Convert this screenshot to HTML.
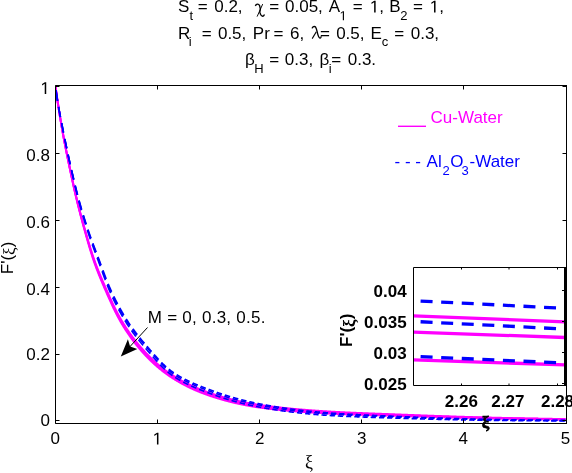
<!DOCTYPE html>
<html><head><meta charset="utf-8"><style>
html,body{margin:0;padding:0;background:#fff;overflow:hidden;}
svg{display:block;} text{filter:opacity(1);}
text{font-family:"Liberation Sans",sans-serif;font-size:17px;fill:#000;white-space:pre;}
.sf{font-family:"Liberation Serif",serif;}
.m{fill:none;stroke:#ff00ff;stroke-width:2;stroke-linejoin:round;}
.b{fill:none;stroke:#0000ff;stroke-width:1.6;}
.im{stroke:#ff00ff;stroke-width:3.3;}
.ib{stroke:#0000ff;stroke-width:3.3;stroke-dasharray:12 8.6;stroke-dashoffset:13.5;}
.bd text{font-weight:bold;}
</style></head><body>
<svg width="572" height="473" viewBox="0 0 572 473">
<rect width="572" height="473" fill="#fff"/>
<text x="177.93" y="12.40">S</text>
<text x="189.50" y="20.20" style="font-size:13px">t</text>
<text x="197.77" y="12.40">=</text>
<text x="214.24" y="12.40">0.2,</text>
<path d="M255.3,5.9C256.3,3.7 258.6,3.5 259.6,5.6C260.5,7.6 260.3,10.6 259.8,12.4C260.5,14.6 261.6,16.3 262.6,16.3C263.5,16.3 264.1,15.3 264.5,14.4" fill="none" stroke="#000" stroke-width="1.35"/><path d="M262.7,4.1L257.1,16.6" fill="none" stroke="#000" stroke-width="0.95"/>
<text x="269.27" y="12.40">=</text>
<text x="285.04" y="12.40">0.05,</text>
<text x="328.87" y="12.40">A</text>
<path transform="translate(339.55,20.20) scale(0.00635,-0.00635)" d="M515,0H696V1409H530L197,1180V1010L515,1237Z" fill="#000"/>
<text x="352.67" y="12.40">=</text>
<path transform="translate(369.86,12.40) scale(0.00830,-0.00830)" d="M515,0H696V1409H530L197,1180V1010L515,1237Z" fill="#000"/><text x="379.32" y="12.40">,</text>
<text x="389.21" y="12.40">B</text>
<text x="400.25" y="20.20" style="font-size:13px">2</text>
<text x="412.97" y="12.40">=</text>
<path transform="translate(429.76,12.40) scale(0.00830,-0.00830)" d="M515,0H696V1409H530L197,1180V1010L515,1237Z" fill="#000"/><text x="439.22" y="12.40">,</text>
<text x="178.01" y="38.50">R</text>
<text x="188.63" y="46.30" style="font-size:13px">i</text>
<text x="201.77" y="38.50">=</text>
<text x="217.94" y="38.50">0.5,</text>
<text x="252.81" y="38.50">Pr</text>
<text x="273.57" y="38.50">=</text>
<text x="290.04" y="38.50">6,</text>
<path d="M312.1,28.4C312.6,26.6 314.4,25.9 315.6,27.1C316.5,28.3 317,31 317.6,33.6C318.3,36.3 319.2,38.2 320.3,38.1C320.9,38 321.1,37.2 321.2,36.3" fill="none" stroke="#000" stroke-width="1.35"/><path d="M316.3,31.8L312.2,38.6" fill="none" stroke="#000" stroke-width="1.1"/>
<text x="320.07" y="38.50">=</text>
<text x="336.14" y="38.50">0.5,</text>
<text x="370.61" y="38.50">E</text>
<text x="381.85" y="46.30" style="font-size:13px">c</text>
<text x="394.17" y="38.50">=</text>
<text x="410.74" y="38.50">0.3,</text>
<text x="245.02" y="64.80">β</text>
<text x="254.33" y="72.60" style="font-size:13px">H</text>
<text x="269.27" y="64.80">=</text>
<text x="284.84" y="64.80">0.3,</text>
<text x="319.62" y="64.80">β</text>
<text x="328.83" y="72.60" style="font-size:13px">i</text>
<text x="331.17" y="64.80">=</text>
<text x="347.74" y="64.80">0.3.</text>
<clipPath id="mc"><rect x="56" y="86" width="510" height="337"/></clipPath>
<g clip-path="url(#mc)"><path d="M55.50,86.50 55.84,89.01 56.18,91.48 56.52,93.91 56.86,96.31 57.20,98.65 57.54,100.94 57.88,103.19 58.22,105.42 58.56,107.60 58.90,109.76 59.24,111.89 59.58,114.00 59.92,116.07 60.26,118.12 60.60,120.15 60.94,122.15 61.28,124.13 61.62,126.09 61.96,128.04 62.30,129.96 62.64,131.86 62.98,133.74 63.33,135.59 63.67,137.42 64.01,139.23 64.35,141.02 64.69,142.79 65.03,144.54 65.37,146.28 65.71,148.00 66.05,149.71 66.39,151.40 66.73,153.08 67.07,154.75 67.41,156.41 67.75,158.06 68.09,159.69 68.43,161.32 68.77,162.95 69.11,164.56 69.45,166.17 69.79,167.78 70.13,169.38 70.47,170.98 70.81,172.57 71.15,174.15 71.49,175.73 71.83,177.30 72.17,178.86 72.51,180.41 72.85,181.95 73.19,183.49 73.53,185.01 73.87,186.52 74.21,188.02 74.55,189.51 74.89,190.99 75.23,192.46 75.57,193.91 75.91,195.36 76.25,196.78 76.59,198.20 76.93,199.60 77.27,200.99 77.61,202.36 77.95,203.72 78.30,205.07 78.64,206.41 78.98,207.74 79.32,209.06 79.66,210.36 80.00,211.66 80.34,212.95 80.68,214.23 81.02,215.50 81.36,216.76 81.70,218.02 82.04,219.26 82.38,220.50 82.72,221.74 83.06,222.96 83.40,224.19 83.74,225.40 84.08,226.61 84.42,227.82 84.76,229.02 85.10,230.21 85.44,231.41 85.78,232.60 86.12,233.79 86.46,234.97 86.80,236.15 87.14,237.33 87.48,238.50 87.82,239.66 88.16,240.82 88.50,241.96 88.84,243.11 89.18,244.24 89.52,245.36 89.86,246.48 90.20,247.58 90.54,248.68 90.88,249.77 91.22,250.84 91.56,251.91 91.90,252.96 92.24,254.00 92.58,255.03 92.92,256.05 93.27,257.05 93.61,258.04 93.95,259.02 94.29,259.99 94.63,260.94 94.97,261.88 95.31,262.81 95.65,263.73 95.99,264.64 96.33,265.54 96.67,266.43 97.01,267.32 97.35,268.19 97.69,269.06 98.03,269.92 98.37,270.77 98.71,271.61 99.05,272.45 99.39,273.28 99.73,274.11 100.07,274.93 100.41,275.74 100.75,276.56 101.09,277.36 101.43,278.16 101.77,278.96 102.11,279.76 102.45,280.55 102.79,281.34 103.13,282.13 103.47,282.91 103.81,283.69 104.15,284.47 104.49,285.25 104.83,286.03 105.17,286.81 105.51,287.58 105.85,288.36 106.19,289.13 106.53,289.91 106.87,290.68 107.21,291.45 107.55,292.22 107.89,292.99 108.24,293.75 108.58,294.52 108.92,295.28 109.26,296.03 109.60,296.79 109.94,297.54 110.28,298.29 110.62,299.04 110.96,299.78 111.30,300.52 111.64,301.25 111.98,301.98 112.32,302.71 112.66,303.43 113.00,304.15 113.34,304.86 113.68,305.57 114.02,306.27 114.36,306.97 114.70,307.66 115.04,308.35 115.38,309.04 115.72,309.71 116.06,310.39 116.40,311.05 116.74,311.71 117.08,312.37 117.42,313.02 117.76,313.66 118.10,314.30 118.44,314.93 118.78,315.56 119.12,316.18 119.46,316.79 119.80,317.40 120.14,318.00 120.48,318.59 120.82,319.18 121.16,319.76 121.50,320.34 121.84,320.91 122.18,321.48 122.52,322.05 122.86,322.61 123.21,323.17 123.55,323.72 123.89,324.27 124.23,324.81 124.57,325.35 124.91,325.89 125.25,326.42 125.59,326.95 125.93,327.48 126.27,328.00 126.61,328.51 126.95,329.03 127.29,329.54 127.63,330.04 127.97,330.55 128.31,331.05 128.65,331.54 128.99,332.03 129.33,332.52 129.67,333.01 130.01,333.49 130.35,333.97 130.69,334.45 131.03,334.92 131.37,335.39 131.71,335.85 132.05,336.32 132.39,336.77 132.73,337.23 133.07,337.69 133.41,338.14 133.75,338.58 134.09,339.03 134.43,339.47 134.77,339.91 135.11,340.34 135.45,340.78 135.79,341.21 136.13,341.64 136.47,342.06 136.81,342.48 137.15,342.90 137.49,343.32 137.83,343.73 138.18,344.15 138.52,344.56 138.86,344.96 139.20,345.37 139.54,345.77 139.88,346.17 140.22,346.56 140.56,346.96 140.90,347.35 141.24,347.74 141.58,348.13 141.92,348.51 142.26,348.90 142.60,349.28 142.94,349.66 143.28,350.03 143.62,350.41 143.96,350.78 144.30,351.15 144.64,351.52 144.98,351.88 145.32,352.25 145.66,352.61 146.00,352.97 146.34,353.33 146.68,353.68 147.02,354.04 147.36,354.39 147.70,354.74 148.04,355.08 148.38,355.43 148.72,355.77 149.06,356.11 149.40,356.45 149.74,356.79 150.08,357.13 150.42,357.46 150.76,357.79 151.10,358.12 151.44,358.45 151.78,358.77 152.12,359.09 152.46,359.42 152.80,359.74 153.15,360.05 153.49,360.37 153.83,360.68 154.17,360.99 154.51,361.30 154.85,361.61 155.19,361.92 155.53,362.22 155.87,362.52 156.21,362.82 156.55,363.12 156.89,363.42 157.23,363.71 157.57,364.00 157.91,364.29 158.25,364.58 158.59,364.87 158.93,365.16 159.27,365.44 159.61,365.72 159.95,366.00 160.29,366.28 160.63,366.56 160.97,366.83 161.31,367.10 161.65,367.38 161.99,367.64 162.33,367.91 162.67,368.18 163.01,368.44 163.35,368.70 163.69,368.97 164.03,369.22 164.37,369.48 164.71,369.74 165.05,369.99 165.39,370.24 165.73,370.49 166.07,370.74 166.41,370.99 166.75,371.24 167.09,371.48 167.43,371.72 167.77,371.96 168.12,372.20 168.46,372.44 168.80,372.68 169.14,372.91 169.48,373.14 169.82,373.38 170.16,373.60 170.50,373.83 170.84,374.06 171.18,374.28 171.52,374.51 171.86,374.73 172.20,374.95 172.54,375.17 172.88,375.39 173.22,375.60 173.56,375.82 173.90,376.03 174.24,376.25 174.58,376.46 174.92,376.67 175.26,376.88 175.60,377.09 175.94,377.29 176.28,377.50 176.62,377.70 176.96,377.91 177.30,378.11 177.64,378.31 177.98,378.51 178.32,378.71 178.66,378.91 179.00,379.10 179.34,379.30 179.68,379.49 180.02,379.69 180.36,379.88 180.70,380.07 181.04,380.26 181.38,380.45 181.72,380.64 182.06,380.82 182.40,381.01 182.74,381.19 183.09,381.38 183.43,381.56 183.77,381.74 184.11,381.92 184.45,382.10 184.79,382.28 185.13,382.45 185.47,382.63 185.81,382.81 186.15,382.98 186.49,383.15 186.83,383.33 187.17,383.50 187.51,383.67 187.85,383.84 188.19,384.00 188.53,384.17 188.87,384.34 189.21,384.50 189.55,384.67 189.89,384.83 190.23,384.99 190.57,385.16 190.91,385.32 191.25,385.48 191.59,385.63 191.93,385.79 192.27,385.95 192.61,386.11 192.95,386.26 193.29,386.42 193.63,386.57 193.97,386.72 194.31,386.87 194.65,387.02 194.99,387.17 195.33,387.32 195.67,387.47 196.01,387.62 196.35,387.77 196.69,387.91 197.03,388.06 197.37,388.20 197.71,388.34 198.06,388.49 198.40,388.63 198.74,388.77 199.08,388.91 199.42,389.05 199.76,389.19 200.10,389.32 200.44,389.46 200.78,389.60 201.12,389.73 201.46,389.87 201.80,390.00 202.14,390.13 202.48,390.26 202.82,390.40 203.16,390.53 203.50,390.66 203.84,390.79 204.18,390.91 204.52,391.04 204.86,391.17 205.20,391.29 205.54,391.42 205.88,391.54 206.22,391.67 206.56,391.79 206.90,391.91 207.24,392.04 207.58,392.16 207.92,392.28 208.26,392.40 208.60,392.52 208.94,392.64 209.28,392.75 209.62,392.87 209.96,392.99 210.30,393.10 210.64,393.22 210.98,393.33 211.32,393.45 211.66,393.56 212.00,393.67 212.34,393.78 212.68,393.90 213.03,394.01 213.37,394.12 213.71,394.23 214.05,394.34 214.39,394.45 214.73,394.56 215.07,394.66 215.41,394.77 215.75,394.88 216.09,394.99 216.43,395.09 216.77,395.20 217.11,395.31 217.45,395.41 217.79,395.52 218.13,395.62 218.47,395.72 218.81,395.83 219.15,395.93 219.49,396.03 219.83,396.14 220.17,396.24 220.51,396.34 220.85,396.44 221.19,396.54 221.53,396.64 221.87,396.74 222.21,396.84 222.55,396.94 222.89,397.04 223.23,397.13 223.57,397.23 223.91,397.33 224.25,397.42 224.59,397.52 224.93,397.61 225.27,397.71 225.61,397.80 225.95,397.90 226.29,397.99 226.63,398.08 226.97,398.18 227.31,398.27 227.65,398.36 227.99,398.45 228.34,398.54 228.68,398.63 229.02,398.72 229.36,398.81 229.70,398.90 230.04,398.99 230.38,399.08 230.72,399.16 231.06,399.25 231.40,399.34 231.74,399.42 232.08,399.51 232.42,399.59 232.76,399.68 233.10,399.76 233.44,399.85 233.78,399.93 234.12,400.01 234.46,400.09 234.80,400.17 235.14,400.26 235.48,400.34 235.82,400.42 236.16,400.50 236.50,400.58 236.84,400.66 237.18,400.73 237.52,400.81 237.86,400.89 238.20,400.97 238.54,401.04 238.88,401.12 239.22,401.20 239.56,401.27 239.90,401.35 240.24,401.42 240.58,401.49 240.92,401.57 241.26,401.64 241.60,401.71 241.94,401.79 242.28,401.86 242.62,401.93 242.96,402.00 243.31,402.07 243.65,402.14 243.99,402.21 244.33,402.28 244.67,402.35 245.01,402.41 245.35,402.48 245.69,402.55 246.03,402.62 246.37,402.68 246.71,402.75 247.05,402.81 247.39,402.88 247.73,402.94 248.07,403.01 248.41,403.07 248.75,403.13 249.09,403.20 249.43,403.26 249.77,403.32 250.11,403.38 250.45,403.44 250.79,403.51 251.13,403.57 251.47,403.63 251.81,403.68 252.15,403.74 252.49,403.80 252.83,403.86 253.17,403.92 253.51,403.97 253.85,404.03 254.19,404.09 254.53,404.14 254.87,404.20 255.21,404.25 255.55,404.31 255.89,404.36 256.23,404.42 256.57,404.47 256.91,404.52 257.25,404.58 257.59,404.63 257.93,404.68 258.28,404.73 258.62,404.78 258.96,404.83 259.30,404.88 259.64,404.93 259.98,404.98 260.32,405.03 260.66,405.08 261.00,405.13 261.34,405.18 261.68,405.23 262.02,405.27 262.36,405.32 262.70,405.37 263.04,405.42 263.38,405.46 263.72,405.51 264.06,405.56 264.40,405.60 264.74,405.65 265.08,405.69 265.42,405.74 265.76,405.79 266.10,405.83 266.44,405.88 266.78,405.92 267.12,405.97 267.46,406.01 267.80,406.05 268.14,406.10 268.48,406.14 268.82,406.18 269.16,406.23 269.50,406.27 269.84,406.31 270.18,406.36 270.52,406.40 270.86,406.44 271.20,406.48 271.54,406.53 271.88,406.57 272.22,406.61 272.56,406.65 272.90,406.69 273.25,406.73 273.59,406.77 273.93,406.81 274.27,406.85 274.61,406.89 274.95,406.93 275.29,406.97 275.63,407.01 275.97,407.05 276.31,407.09 276.65,407.13 276.99,407.17 277.33,407.21 277.67,407.25 278.01,407.29 278.35,407.32 278.69,407.36 279.03,407.40 279.37,407.44 279.71,407.47 280.05,407.51 280.39,407.55 280.73,407.59 281.07,407.62 281.41,407.66 281.75,407.70 282.09,407.73 282.43,407.77 282.77,407.80 283.11,407.84 283.45,407.88 283.79,407.91 284.13,407.95 284.47,407.98 284.81,408.02 285.15,408.05 285.49,408.09 285.83,408.12 286.17,408.16 286.51,408.19 286.85,408.22 287.19,408.26 287.53,408.29 287.87,408.33 288.22,408.36 288.56,408.39 288.90,408.43 289.24,408.46 289.58,408.49 289.92,408.52 290.26,408.56 290.60,408.59 290.94,408.62 291.28,408.65 291.62,408.69 291.96,408.72 292.30,408.75 292.64,408.78 292.98,408.81 293.32,408.85 293.66,408.88 294.00,408.91 294.34,408.94 294.68,408.97 295.02,409.00 295.36,409.03 295.70,409.06 296.04,409.09 296.38,409.12 296.72,409.15 297.06,409.18 297.40,409.21 297.74,409.24 298.08,409.27 298.42,409.30 298.76,409.33 299.10,409.36 299.44,409.39 299.78,409.42 300.12,409.45 300.46,409.47 300.80,409.50 301.14,409.53 301.48,409.56 301.82,409.59 302.16,409.62 302.50,409.64 302.84,409.67 303.19,409.70 303.53,409.73 303.87,409.75 304.21,409.78 304.55,409.81 304.89,409.84 305.23,409.86 305.57,409.89 305.91,409.92 306.25,409.94 306.59,409.97 306.93,410.00 307.27,410.02 307.61,410.05 307.95,410.08 308.29,410.10 308.63,410.13 308.97,410.15 309.31,410.18 309.65,410.21 309.99,410.23 310.33,410.26 310.67,410.28 311.01,410.31 311.35,410.33 311.69,410.36 312.03,410.38 312.37,410.41 312.71,410.43 313.05,410.46 313.39,410.48 313.73,410.51 314.07,410.53 314.41,410.55 314.75,410.58 315.09,410.60 315.43,410.63 315.77,410.65 316.11,410.67 316.45,410.70 316.79,410.72 317.13,410.74 317.47,410.77 317.81,410.79 318.16,410.81 318.50,410.84 318.84,410.86 319.18,410.88 319.52,410.91 319.86,410.93 320.20,410.95 320.54,410.97 320.88,411.00 321.22,411.02 321.56,411.04 321.90,411.06 322.24,411.08 322.58,411.11 322.92,411.13 323.26,411.15 323.60,411.17 323.94,411.19 324.28,411.22 324.62,411.24 324.96,411.26 325.30,411.28 325.64,411.30 325.98,411.32 326.32,411.34 326.66,411.36 327.00,411.39 327.34,411.41 327.68,411.43 328.02,411.45 328.36,411.47 328.70,411.49 329.04,411.51 329.38,411.53 329.72,411.55 330.06,411.57 330.40,411.59 330.74,411.61 331.08,411.63 331.42,411.65 331.76,411.67 332.10,411.69 332.44,411.71 332.78,411.73 333.13,411.75 333.47,411.77 333.81,411.79 334.15,411.80 334.49,411.82 334.83,411.84 335.17,411.86 335.51,411.88 335.85,411.90 336.19,411.92 336.53,411.94 336.87,411.95 337.21,411.97 337.55,411.99 337.89,412.01 338.23,412.03 338.57,412.04 338.91,412.06 339.25,412.08 339.59,412.10 339.93,412.11 340.27,412.13 340.61,412.15 340.95,412.16 341.29,412.18 341.63,412.20 341.97,412.22 342.31,412.23 342.65,412.25 342.99,412.27 343.33,412.28 343.67,412.30 344.01,412.32 344.35,412.33 344.69,412.35 345.03,412.37 345.37,412.38 345.71,412.40 346.05,412.41 346.39,412.43 346.73,412.45 347.07,412.46 347.41,412.48 347.75,412.49 348.10,412.51 348.44,412.52 348.78,412.54 349.12,412.56 349.46,412.57 349.80,412.59 350.14,412.60 350.48,412.62 350.82,412.63 351.16,412.65 351.50,412.66 351.84,412.68 352.18,412.69 352.52,412.71 352.86,412.72 353.20,412.74 353.54,412.75 353.88,412.77 354.22,412.78 354.56,412.80 354.90,412.81 355.24,412.83 355.58,412.84 355.92,412.86 356.26,412.87 356.60,412.88 356.94,412.90 357.28,412.91 357.62,412.93 357.96,412.94 358.30,412.96 358.64,412.97 358.98,412.98 359.32,413.00 359.66,413.01 360.00,413.03 360.34,413.04 360.68,413.05 361.02,413.07 361.36,413.08 361.70,413.10 362.04,413.11 362.38,413.12 362.72,413.14 363.07,413.15 363.41,413.16 363.75,413.18 364.09,413.19 364.43,413.21 364.77,413.22 365.11,413.23 365.45,413.25 365.79,413.26 366.13,413.27 366.47,413.29 366.81,413.30 367.15,413.31 367.49,413.33 367.83,413.34 368.17,413.35 368.51,413.37 368.85,413.38 369.19,413.39 369.53,413.41 369.87,413.42 370.21,413.43 370.55,413.45 370.89,413.46 371.23,413.47 371.57,413.49 371.91,413.50 372.25,413.51 372.59,413.53 372.93,413.54 373.27,413.55 373.61,413.56 373.95,413.58 374.29,413.59 374.63,413.60 374.97,413.62 375.31,413.63 375.65,413.64 375.99,413.66 376.33,413.67 376.67,413.68 377.01,413.69 377.35,413.71 377.69,413.72 378.04,413.73 378.38,413.75 378.72,413.76 379.06,413.77 379.40,413.79 379.74,413.80 380.08,413.81 380.42,413.82 380.76,413.84 381.10,413.85 381.44,413.86 381.78,413.88 382.12,413.89 382.46,413.90 382.80,413.91 383.14,413.93 383.48,413.94 383.82,413.95 384.16,413.97 384.50,413.98 384.84,413.99 385.18,414.01 385.52,414.02 385.86,414.03 386.20,414.04 386.54,414.06 386.88,414.07 387.22,414.08 387.56,414.10 387.90,414.11 388.24,414.12 388.58,414.13 388.92,414.15 389.26,414.16 389.60,414.17 389.94,414.19 390.28,414.20 390.62,414.21 390.96,414.23 391.30,414.24 391.64,414.25 391.98,414.26 392.32,414.28 392.66,414.29 393.01,414.30 393.35,414.32 393.69,414.33 394.03,414.34 394.37,414.36 394.71,414.37 395.05,414.38 395.39,414.40 395.73,414.41 396.07,414.42 396.41,414.43 396.75,414.45 397.09,414.46 397.43,414.47 397.77,414.49 398.11,414.50 398.45,414.51 398.79,414.53 399.13,414.54 399.47,414.55 399.81,414.57 400.15,414.58 400.49,414.59 400.83,414.61 401.17,414.62 401.51,414.63 401.85,414.65 402.19,414.66 402.53,414.67 402.87,414.69 403.21,414.70 403.55,414.71 403.89,414.73 404.23,414.74 404.57,414.75 404.91,414.77 405.25,414.78 405.59,414.79 405.93,414.81 406.27,414.82 406.61,414.83 406.95,414.85 407.29,414.86 407.63,414.87 407.97,414.89 408.32,414.90 408.66,414.91 409.00,414.93 409.34,414.94 409.68,414.95 410.02,414.97 410.36,414.98 410.70,414.99 411.04,415.01 411.38,415.02 411.72,415.03 412.06,415.04 412.40,415.06 412.74,415.07 413.08,415.08 413.42,415.10 413.76,415.11 414.10,415.12 414.44,415.14 414.78,415.15 415.12,415.16 415.46,415.17 415.80,415.19 416.14,415.20 416.48,415.21 416.82,415.23 417.16,415.24 417.50,415.25 417.84,415.27 418.18,415.28 418.52,415.29 418.86,415.30 419.20,415.32 419.54,415.33 419.88,415.34 420.22,415.36 420.56,415.37 420.90,415.38 421.24,415.39 421.58,415.41 421.92,415.42 422.26,415.43 422.60,415.44 422.94,415.46 423.29,415.47 423.63,415.48 423.97,415.49 424.31,415.51 424.65,415.52 424.99,415.53 425.33,415.55 425.67,415.56 426.01,415.57 426.35,415.58 426.69,415.60 427.03,415.61 427.37,415.62 427.71,415.63 428.05,415.65 428.39,415.66 428.73,415.67 429.07,415.68 429.41,415.70 429.75,415.71 430.09,415.72 430.43,415.73 430.77,415.74 431.11,415.76 431.45,415.77 431.79,415.78 432.13,415.79 432.47,415.81 432.81,415.82 433.15,415.83 433.49,415.84 433.83,415.85 434.17,415.87 434.51,415.88 434.85,415.89 435.19,415.90 435.53,415.92 435.87,415.93 436.21,415.94 436.55,415.95 436.89,415.96 437.23,415.98 437.57,415.99 437.91,416.00 438.26,416.01 438.60,416.02 438.94,416.04 439.28,416.05 439.62,416.06 439.96,416.07 440.30,416.08 440.64,416.09 440.98,416.11 441.32,416.12 441.66,416.13 442.00,416.14 442.34,416.15 442.68,416.17 443.02,416.18 443.36,416.19 443.70,416.20 444.04,416.21 444.38,416.22 444.72,416.24 445.06,416.25 445.40,416.26 445.74,416.27 446.08,416.28 446.42,416.29 446.76,416.30 447.10,416.32 447.44,416.33 447.78,416.34 448.12,416.35 448.46,416.36 448.80,416.37 449.14,416.38 449.48,416.40 449.82,416.41 450.16,416.42 450.50,416.43 450.84,416.44 451.18,416.45 451.52,416.46 451.86,416.47 452.20,416.49 452.54,416.50 452.88,416.51 453.23,416.52 453.57,416.53 453.91,416.54 454.25,416.55 454.59,416.56 454.93,416.57 455.27,416.58 455.61,416.60 455.95,416.61 456.29,416.62 456.63,416.63 456.97,416.64 457.31,416.65 457.65,416.66 457.99,416.67 458.33,416.68 458.67,416.69 459.01,416.70 459.35,416.71 459.69,416.73 460.03,416.74 460.37,416.75 460.71,416.76 461.05,416.77 461.39,416.78 461.73,416.79 462.07,416.80 462.41,416.81 462.75,416.82 463.09,416.83 463.43,416.84 463.77,416.85 464.11,416.86 464.45,416.87 464.79,416.88 465.13,416.89 465.47,416.90 465.81,416.91 466.15,416.92 466.49,416.93 466.83,416.94 467.17,416.95 467.51,416.97 467.85,416.98 468.20,416.99 468.54,417.00 468.88,417.01 469.22,417.02 469.56,417.03 469.90,417.04 470.24,417.05 470.58,417.06 470.92,417.07 471.26,417.08 471.60,417.09 471.94,417.10 472.28,417.11 472.62,417.12 472.96,417.13 473.30,417.14 473.64,417.15 473.98,417.15 474.32,417.16 474.66,417.17 475.00,417.18 475.34,417.19 475.68,417.20 476.02,417.21 476.36,417.22 476.70,417.23 477.04,417.24 477.38,417.25 477.72,417.26 478.06,417.27 478.40,417.28 478.74,417.29 479.08,417.30 479.42,417.31 479.76,417.32 480.10,417.33 480.44,417.34 480.78,417.35 481.12,417.36 481.46,417.36 481.80,417.37 482.14,417.38 482.48,417.39 482.82,417.40 483.17,417.41 483.51,417.42 483.85,417.43 484.19,417.44 484.53,417.45 484.87,417.46 485.21,417.47 485.55,417.47 485.89,417.48 486.23,417.49 486.57,417.50 486.91,417.51 487.25,417.52 487.59,417.53 487.93,417.54 488.27,417.55 488.61,417.55 488.95,417.56 489.29,417.57 489.63,417.58 489.97,417.59 490.31,417.60 490.65,417.61 490.99,417.62 491.33,417.62 491.67,417.63 492.01,417.64 492.35,417.65 492.69,417.66 493.03,417.67 493.37,417.68 493.71,417.68 494.05,417.69 494.39,417.70 494.73,417.71 495.07,417.72 495.41,417.73 495.75,417.74 496.09,417.74 496.43,417.75 496.77,417.76 497.11,417.77 497.45,417.78 497.79,417.78 498.14,417.79 498.48,417.80 498.82,417.81 499.16,417.82 499.50,417.83 499.84,417.83 500.18,417.84 500.52,417.85 500.86,417.86 501.20,417.87 501.54,417.87 501.88,417.88 502.22,417.89 502.56,417.90 502.90,417.91 503.24,417.91 503.58,417.92 503.92,417.93 504.26,417.94 504.60,417.95 504.94,417.95 505.28,417.96 505.62,417.97 505.96,417.98 506.30,417.98 506.64,417.99 506.98,418.00 507.32,418.01 507.66,418.01 508.00,418.02 508.34,418.03 508.68,418.04 509.02,418.04 509.36,418.05 509.70,418.06 510.04,418.07 510.38,418.07 510.72,418.08 511.06,418.09 511.40,418.10 511.74,418.10 512.08,418.11 512.42,418.12 512.76,418.13 513.11,418.13 513.45,418.14 513.79,418.15 514.13,418.16 514.47,418.16 514.81,418.17 515.15,418.18 515.49,418.18 515.83,418.19 516.17,418.20 516.51,418.21 516.85,418.21 517.19,418.22 517.53,418.23 517.87,418.23 518.21,418.24 518.55,418.25 518.89,418.26 519.23,418.26 519.57,418.27 519.91,418.28 520.25,418.28 520.59,418.29 520.93,418.30 521.27,418.30 521.61,418.31 521.95,418.32 522.29,418.32 522.63,418.33 522.97,418.34 523.31,418.35 523.65,418.35 523.99,418.36 524.33,418.37 524.67,418.37 525.01,418.38 525.35,418.39 525.69,418.39 526.03,418.40 526.37,418.41 526.71,418.41 527.05,418.42 527.39,418.43 527.73,418.43 528.08,418.44 528.42,418.45 528.76,418.45 529.10,418.46 529.44,418.47 529.78,418.47 530.12,418.48 530.46,418.49 530.80,418.49 531.14,418.50 531.48,418.50 531.82,418.51 532.16,418.52 532.50,418.52 532.84,418.53 533.18,418.54 533.52,418.54 533.86,418.55 534.20,418.56 534.54,418.56 534.88,418.57 535.22,418.57 535.56,418.58 535.90,418.59 536.24,418.59 536.58,418.60 536.92,418.61 537.26,418.61 537.60,418.62 537.94,418.62 538.28,418.63 538.62,418.64 538.96,418.64 539.30,418.65 539.64,418.66 539.98,418.66 540.32,418.67 540.66,418.67 541.00,418.68 541.34,418.69 541.68,418.69 542.02,418.70 542.36,418.70 542.70,418.71 543.05,418.72 543.39,418.72 543.73,418.73 544.07,418.73 544.41,418.74 544.75,418.75 545.09,418.75 545.43,418.76 545.77,418.76 546.11,418.77 546.45,418.78 546.79,418.78 547.13,418.79 547.47,418.79 547.81,418.80 548.15,418.80 548.49,418.81 548.83,418.82 549.17,418.82 549.51,418.83 549.85,418.83 550.19,418.84 550.53,418.85 550.87,418.85 551.21,418.86 551.55,418.86 551.89,418.87 552.23,418.87 552.57,418.88 552.91,418.88 553.25,418.89 553.59,418.90 553.93,418.90 554.27,418.91 554.61,418.91 554.95,418.92 555.29,418.92 555.63,418.93 555.97,418.94 556.31,418.94 556.65,418.95 556.99,418.95 557.33,418.96 557.67,418.96 558.02,418.97 558.36,418.97 558.70,418.98 559.04,418.98 559.38,418.99 559.72,419.00 560.06,419.00 560.40,419.01 560.74,419.01 561.08,419.02 561.42,419.02 561.76,419.03 562.10,419.03 562.44,419.04 562.78,419.04 563.12,419.05 563.46,419.05 563.80,419.06 564.14,419.06 564.48,419.07 564.82,419.07 565.16,419.08 565.50,419.09" class="m"/><path d="M55.50,86.50 55.84,89.01 56.18,91.48 56.52,93.92 56.86,96.31 57.20,98.65 57.54,100.95 57.88,103.20 58.22,105.43 58.56,107.62 58.90,109.78 59.24,111.91 59.58,114.02 59.92,116.10 60.26,118.16 60.60,120.19 60.94,122.20 61.28,124.18 61.62,126.15 61.96,128.10 62.30,130.03 62.64,131.93 62.98,133.82 63.33,135.68 63.67,137.52 64.01,139.33 64.35,141.13 64.69,142.91 65.03,144.67 65.37,146.42 65.71,148.15 66.05,149.87 66.39,151.57 66.73,153.26 67.07,154.94 67.41,156.60 67.75,158.26 68.09,159.91 68.43,161.55 68.77,163.19 69.11,164.81 69.45,166.44 69.79,168.05 70.13,169.67 70.47,171.28 70.81,172.88 71.15,174.48 71.49,176.06 71.83,177.65 72.17,179.22 72.51,180.78 72.85,182.34 73.19,183.89 73.53,185.42 73.87,186.95 74.21,188.46 74.55,189.96 74.89,191.46 75.23,192.94 75.57,194.40 75.91,195.86 76.25,197.30 76.59,198.73 76.93,200.14 77.27,201.54 77.61,202.93 77.95,204.31 78.30,205.67 78.64,207.02 78.98,208.36 79.32,209.69 79.66,211.01 80.00,212.32 80.34,213.62 80.68,214.92 81.02,216.20 81.36,217.48 81.70,218.74 82.04,220.00 82.38,221.26 82.72,222.50 83.06,223.74 83.40,224.98 83.74,226.20 84.08,227.43 84.42,228.64 84.76,229.86 85.10,231.06 85.44,232.27 85.78,233.48 86.12,234.67 86.46,235.87 86.80,237.06 87.14,238.25 87.48,239.43 87.82,240.60 88.16,241.77 88.50,242.93 88.84,244.08 89.18,245.22 89.52,246.36 89.86,247.48 90.20,248.60 90.54,249.70 90.88,250.80 91.22,251.88 91.56,252.96 91.90,254.02 92.24,255.07 92.58,256.11 92.92,257.13 93.27,258.15 93.61,259.15 93.95,260.13 94.29,261.10 94.63,262.07 94.97,263.01 95.31,263.95 95.65,264.88 95.99,265.80 96.33,266.71 96.67,267.60 97.01,268.49 97.35,269.37 97.69,270.25 98.03,271.11 98.37,271.97 98.71,272.82 99.05,273.66 99.39,274.50 99.73,275.33 100.07,276.16 100.41,276.98 100.75,277.80 101.09,278.61 101.43,279.42 101.77,280.22 102.11,281.02 102.45,281.82 102.79,282.61 103.13,283.40 103.47,284.19 103.81,284.98 104.15,285.76 104.49,286.55 104.83,287.33 105.17,288.11 105.51,288.89 105.85,289.66 106.19,290.44 106.53,291.22 106.87,292.00 107.21,292.77 107.55,293.54 107.89,294.31 108.24,295.08 108.58,295.85 108.92,296.61 109.26,297.37 109.60,298.13 109.94,298.88 110.28,299.63 110.62,300.38 110.96,301.12 111.30,301.86 111.64,302.60 111.98,303.33 112.32,304.06 112.66,304.78 113.00,305.50 113.34,306.22 113.68,306.93 114.02,307.63 114.36,308.33 114.70,309.03 115.04,309.72 115.38,310.40 115.72,311.08 116.06,311.76 116.40,312.43 116.74,313.09 117.08,313.74 117.42,314.39 117.76,315.04 118.10,315.68 118.44,316.31 118.78,316.94 119.12,317.56 119.46,318.17 119.80,318.78 120.14,319.38 120.48,319.97 120.82,320.56 121.16,321.14 121.50,321.72 121.84,322.30 122.18,322.87 122.52,323.43 122.86,323.99 123.21,324.55 123.55,325.11 123.89,325.65 124.23,326.20 124.57,326.74 124.91,327.28 125.25,327.81 125.59,328.34 125.93,328.87 126.27,329.39 126.61,329.90 126.95,330.42 127.29,330.93 127.63,331.44 127.97,331.94 128.31,332.44 128.65,332.93 128.99,333.43 129.33,333.92 129.67,334.40 130.01,334.88 130.35,335.36 130.69,335.84 131.03,336.31 131.37,336.78 131.71,337.25 132.05,337.71 132.39,338.17 132.73,338.62 133.07,339.08 133.41,339.53 133.75,339.98 134.09,340.42 134.43,340.86 134.77,341.30 135.11,341.74 135.45,342.17 135.79,342.60 136.13,343.03 136.47,343.45 136.81,343.88 137.15,344.30 137.49,344.71 137.83,345.13 138.18,345.54 138.52,345.95 138.86,346.36 139.20,346.76 139.54,347.16 139.88,347.56 140.22,347.96 140.56,348.35 140.90,348.74 141.24,349.13 141.58,349.52 141.92,349.91 142.26,350.29 142.60,350.67 142.94,351.05 143.28,351.43 143.62,351.80 143.96,352.17 144.30,352.54 144.64,352.91 144.98,353.28 145.32,353.64 145.66,354.00 146.00,354.36 146.34,354.72 146.68,355.07 147.02,355.43 147.36,355.78 147.70,356.13 148.04,356.48 148.38,356.82 148.72,357.16 149.06,357.50 149.40,357.84 149.74,358.18 150.08,358.52 150.42,358.85 150.76,359.18 151.10,359.51 151.44,359.84 151.78,360.16 152.12,360.48 152.46,360.80 152.80,361.12 153.15,361.44 153.49,361.76 153.83,362.07 154.17,362.38 154.51,362.69 154.85,363.00 155.19,363.30 155.53,363.61 155.87,363.91 156.21,364.21 156.55,364.51 156.89,364.80 157.23,365.10 157.57,365.39 157.91,365.68 158.25,365.97 158.59,366.26 158.93,366.54 159.27,366.83 159.61,367.11 159.95,367.39 160.29,367.67 160.63,367.94 160.97,368.22 161.31,368.49 161.65,368.76 161.99,369.03 162.33,369.30 162.67,369.56 163.01,369.83 163.35,370.09 163.69,370.35 164.03,370.61 164.37,370.86 164.71,371.12 165.05,371.37 165.39,371.63 165.73,371.88 166.07,372.13 166.41,372.37 166.75,372.62 167.09,372.86 167.43,373.10 167.77,373.34 168.12,373.58 168.46,373.82 168.80,374.06 169.14,374.29 169.48,374.52 169.82,374.75 170.16,374.98 170.50,375.21 170.84,375.44 171.18,375.66 171.52,375.89 171.86,376.11 172.20,376.33 172.54,376.55 172.88,376.76 173.22,376.98 173.56,377.20 173.90,377.41 174.24,377.62 174.58,377.83 174.92,378.04 175.26,378.25 175.60,378.46 175.94,378.67 176.28,378.87 176.62,379.08 176.96,379.28 177.30,379.48 177.64,379.68 177.98,379.88 178.32,380.08 178.66,380.28 179.00,380.48 179.34,380.67 179.68,380.86 180.02,381.06 180.36,381.25 180.70,381.44 181.04,381.63 181.38,381.82 181.72,382.01 182.06,382.19 182.40,382.38 182.74,382.56 183.09,382.74 183.43,382.93 183.77,383.11 184.11,383.29 184.45,383.47 184.79,383.64 185.13,383.82 185.47,384.00 185.81,384.17 186.15,384.35 186.49,384.52 186.83,384.69 187.17,384.86 187.51,385.03 187.85,385.20 188.19,385.37 188.53,385.53 188.87,385.70 189.21,385.87 189.55,386.03 189.89,386.19 190.23,386.35 190.57,386.52 190.91,386.68 191.25,386.84 191.59,386.99 191.93,387.15 192.27,387.31 192.61,387.46 192.95,387.62 193.29,387.77 193.63,387.93 193.97,388.08 194.31,388.23 194.65,388.38 194.99,388.53 195.33,388.68 195.67,388.83 196.01,388.97 196.35,389.12 196.69,389.26 197.03,389.41 197.37,389.55 197.71,389.69 198.06,389.84 198.40,389.98 198.74,390.12 199.08,390.26 199.42,390.40 199.76,390.53 200.10,390.67 200.44,390.81 200.78,390.94 201.12,391.08 201.46,391.21 201.80,391.34 202.14,391.48 202.48,391.61 202.82,391.74 203.16,391.87 203.50,392.00 203.84,392.13 204.18,392.26 204.52,392.38 204.86,392.51 205.20,392.64 205.54,392.76 205.88,392.88 206.22,393.01 206.56,393.13 206.90,393.25 207.24,393.37 207.58,393.49 207.92,393.61 208.26,393.73 208.60,393.85 208.94,393.97 209.28,394.09 209.62,394.20 209.96,394.32 210.30,394.44 210.64,394.55 210.98,394.66 211.32,394.78 211.66,394.89 212.00,395.00 212.34,395.11 212.68,395.22 213.03,395.33 213.37,395.44 213.71,395.55 214.05,395.66 214.39,395.77 214.73,395.88 215.07,395.99 215.41,396.10 215.75,396.20 216.09,396.31 216.43,396.42 216.77,396.52 217.11,396.63 217.45,396.73 217.79,396.84 218.13,396.94 218.47,397.04 218.81,397.15 219.15,397.25 219.49,397.35 219.83,397.45 220.17,397.55 220.51,397.65 220.85,397.75 221.19,397.85 221.53,397.95 221.87,398.05 222.21,398.15 222.55,398.25 222.89,398.34 223.23,398.44 223.57,398.54 223.91,398.63 224.25,398.73 224.59,398.82 224.93,398.92 225.27,399.01 225.61,399.11 225.95,399.20 226.29,399.29 226.63,399.39 226.97,399.48 227.31,399.57 227.65,399.66 227.99,399.75 228.34,399.84 228.68,399.93 229.02,400.02 229.36,400.11 229.70,400.19 230.04,400.28 230.38,400.37 230.72,400.46 231.06,400.54 231.40,400.63 231.74,400.71 232.08,400.80 232.42,400.88 232.76,400.97 233.10,401.05 233.44,401.13 233.78,401.21 234.12,401.30 234.46,401.38 234.80,401.46 235.14,401.54 235.48,401.62 235.82,401.70 236.16,401.78 236.50,401.86 236.84,401.93 237.18,402.01 237.52,402.09 237.86,402.17 238.20,402.24 238.54,402.32 238.88,402.39 239.22,402.47 239.56,402.54 239.90,402.62 240.24,402.69 240.58,402.76 240.92,402.84 241.26,402.91 241.60,402.98 241.94,403.05 242.28,403.12 242.62,403.19 242.96,403.26 243.31,403.33 243.65,403.40 243.99,403.47 244.33,403.54 244.67,403.60 245.01,403.67 245.35,403.74 245.69,403.80 246.03,403.87 246.37,403.94 246.71,404.00 247.05,404.07 247.39,404.13 247.73,404.19 248.07,404.26 248.41,404.32 248.75,404.38 249.09,404.44 249.43,404.50 249.77,404.57 250.11,404.63 250.45,404.69 250.79,404.75 251.13,404.81 251.47,404.86 251.81,404.92 252.15,404.98 252.49,405.04 252.83,405.09 253.17,405.15 253.51,405.21 253.85,405.26 254.19,405.32 254.53,405.37 254.87,405.43 255.21,405.48 255.55,405.54 255.89,405.59 256.23,405.64 256.57,405.70 256.91,405.75 257.25,405.80 257.59,405.85 257.93,405.90 258.28,405.95 258.62,406.00 258.96,406.05 259.30,406.10 259.64,406.15 259.98,406.20 260.32,406.24 260.66,406.29 261.00,406.34 261.34,406.39 261.68,406.43 262.02,406.48 262.36,406.53 262.70,406.57 263.04,406.62 263.38,406.67 263.72,406.71 264.06,406.76 264.40,406.80 264.74,406.85 265.08,406.89 265.42,406.94 265.76,406.98 266.10,407.02 266.44,407.07 266.78,407.11 267.12,407.16 267.46,407.20 267.80,407.24 268.14,407.28 268.48,407.33 268.82,407.37 269.16,407.41 269.50,407.45 269.84,407.49 270.18,407.54 270.52,407.58 270.86,407.62 271.20,407.66 271.54,407.70 271.88,407.74 272.22,407.78 272.56,407.82 272.90,407.86 273.25,407.90 273.59,407.94 273.93,407.98 274.27,408.02 274.61,408.06 274.95,408.10 275.29,408.14 275.63,408.17 275.97,408.21 276.31,408.25 276.65,408.29 276.99,408.33 277.33,408.36 277.67,408.40 278.01,408.44 278.35,408.47 278.69,408.51 279.03,408.55 279.37,408.58 279.71,408.62 280.05,408.66 280.39,408.69 280.73,408.73 281.07,408.76 281.41,408.80 281.75,408.83 282.09,408.87 282.43,408.90 282.77,408.94 283.11,408.97 283.45,409.01 283.79,409.04 284.13,409.08 284.47,409.11 284.81,409.14 285.15,409.18 285.49,409.21 285.83,409.24 286.17,409.28 286.51,409.31 286.85,409.34 287.19,409.38 287.53,409.41 287.87,409.44 288.22,409.47 288.56,409.50 288.90,409.54 289.24,409.57 289.58,409.60 289.92,409.63 290.26,409.66 290.60,409.69 290.94,409.72 291.28,409.76 291.62,409.79 291.96,409.82 292.30,409.85 292.64,409.88 292.98,409.91 293.32,409.94 293.66,409.97 294.00,410.00 294.34,410.03 294.68,410.06 295.02,410.09 295.36,410.11 295.70,410.14 296.04,410.17 296.38,410.20 296.72,410.23 297.06,410.26 297.40,410.29 297.74,410.32 298.08,410.34 298.42,410.37 298.76,410.40 299.10,410.43 299.44,410.45 299.78,410.48 300.12,410.51 300.46,410.54 300.80,410.56 301.14,410.59 301.48,410.62 301.82,410.64 302.16,410.67 302.50,410.70 302.84,410.72 303.19,410.75 303.53,410.78 303.87,410.80 304.21,410.83 304.55,410.85 304.89,410.88 305.23,410.91 305.57,410.93 305.91,410.96 306.25,410.98 306.59,411.01 306.93,411.03 307.27,411.06 307.61,411.08 307.95,411.11 308.29,411.13 308.63,411.16 308.97,411.18 309.31,411.20 309.65,411.23 309.99,411.25 310.33,411.28 310.67,411.30 311.01,411.32 311.35,411.35 311.69,411.37 312.03,411.40 312.37,411.42 312.71,411.44 313.05,411.46 313.39,411.49 313.73,411.51 314.07,411.53 314.41,411.56 314.75,411.58 315.09,411.60 315.43,411.62 315.77,411.65 316.11,411.67 316.45,411.69 316.79,411.71 317.13,411.73 317.47,411.76 317.81,411.78 318.16,411.80 318.50,411.82 318.84,411.84 319.18,411.86 319.52,411.89 319.86,411.91 320.20,411.93 320.54,411.95 320.88,411.97 321.22,411.99 321.56,412.01 321.90,412.03 322.24,412.05 322.58,412.07 322.92,412.09 323.26,412.11 323.60,412.13 323.94,412.15 324.28,412.17 324.62,412.19 324.96,412.21 325.30,412.23 325.64,412.25 325.98,412.27 326.32,412.29 326.66,412.31 327.00,412.33 327.34,412.35 327.68,412.37 328.02,412.39 328.36,412.41 328.70,412.43 329.04,412.45 329.38,412.47 329.72,412.48 330.06,412.50 330.40,412.52 330.74,412.54 331.08,412.56 331.42,412.58 331.76,412.60 332.10,412.61 332.44,412.63 332.78,412.65 333.13,412.67 333.47,412.68 333.81,412.70 334.15,412.72 334.49,412.74 334.83,412.75 335.17,412.77 335.51,412.79 335.85,412.80 336.19,412.82 336.53,412.84 336.87,412.86 337.21,412.87 337.55,412.89 337.89,412.90 338.23,412.92 338.57,412.94 338.91,412.95 339.25,412.97 339.59,412.99 339.93,413.00 340.27,413.02 340.61,413.03 340.95,413.05 341.29,413.06 341.63,413.08 341.97,413.09 342.31,413.11 342.65,413.13 342.99,413.14 343.33,413.16 343.67,413.17 344.01,413.19 344.35,413.20 344.69,413.22 345.03,413.23 345.37,413.24 345.71,413.26 346.05,413.27 346.39,413.29 346.73,413.30 347.07,413.32 347.41,413.33 347.75,413.35 348.10,413.36 348.44,413.37 348.78,413.39 349.12,413.40 349.46,413.42 349.80,413.43 350.14,413.44 350.48,413.46 350.82,413.47 351.16,413.48 351.50,413.50 351.84,413.51 352.18,413.53 352.52,413.54 352.86,413.55 353.20,413.57 353.54,413.58 353.88,413.59 354.22,413.60 354.56,413.62 354.90,413.63 355.24,413.64 355.58,413.66 355.92,413.67 356.26,413.68 356.60,413.70 356.94,413.71 357.28,413.72 357.62,413.73 357.96,413.75 358.30,413.76 358.64,413.77 358.98,413.79 359.32,413.80 359.66,413.81 360.00,413.82 360.34,413.84 360.68,413.85 361.02,413.86 361.36,413.87 361.70,413.88 362.04,413.90 362.38,413.91 362.72,413.92 363.07,413.93 363.41,413.95 363.75,413.96 364.09,413.97 364.43,413.98 364.77,413.99 365.11,414.01 365.45,414.02 365.79,414.03 366.13,414.04 366.47,414.05 366.81,414.07 367.15,414.08 367.49,414.09 367.83,414.10 368.17,414.11 368.51,414.13 368.85,414.14 369.19,414.15 369.53,414.16 369.87,414.17 370.21,414.18 370.55,414.20 370.89,414.21 371.23,414.22 371.57,414.23 371.91,414.24 372.25,414.25 372.59,414.27 372.93,414.28 373.27,414.29 373.61,414.30 373.95,414.31 374.29,414.32 374.63,414.34 374.97,414.35 375.31,414.36 375.65,414.37 375.99,414.38 376.33,414.39 376.67,414.40 377.01,414.42 377.35,414.43 377.69,414.44 378.04,414.45 378.38,414.46 378.72,414.47 379.06,414.48 379.40,414.50 379.74,414.51 380.08,414.52 380.42,414.53 380.76,414.54 381.10,414.55 381.44,414.57 381.78,414.58 382.12,414.59 382.46,414.60 382.80,414.61 383.14,414.62 383.48,414.63 383.82,414.65 384.16,414.66 384.50,414.67 384.84,414.68 385.18,414.69 385.52,414.70 385.86,414.71 386.20,414.73 386.54,414.74 386.88,414.75 387.22,414.76 387.56,414.77 387.90,414.78 388.24,414.79 388.58,414.81 388.92,414.82 389.26,414.83 389.60,414.84 389.94,414.85 390.28,414.86 390.62,414.88 390.96,414.89 391.30,414.90 391.64,414.91 391.98,414.92 392.32,414.93 392.66,414.95 393.01,414.96 393.35,414.97 393.69,414.98 394.03,414.99 394.37,415.00 394.71,415.02 395.05,415.03 395.39,415.04 395.73,415.05 396.07,415.06 396.41,415.07 396.75,415.09 397.09,415.10 397.43,415.11 397.77,415.12 398.11,415.13 398.45,415.15 398.79,415.16 399.13,415.17 399.47,415.18 399.81,415.19 400.15,415.21 400.49,415.22 400.83,415.23 401.17,415.24 401.51,415.25 401.85,415.27 402.19,415.28 402.53,415.29 402.87,415.30 403.21,415.31 403.55,415.33 403.89,415.34 404.23,415.35 404.57,415.36 404.91,415.37 405.25,415.38 405.59,415.40 405.93,415.41 406.27,415.42 406.61,415.43 406.95,415.44 407.29,415.46 407.63,415.47 407.97,415.48 408.32,415.49 408.66,415.50 409.00,415.52 409.34,415.53 409.68,415.54 410.02,415.55 410.36,415.56 410.70,415.57 411.04,415.59 411.38,415.60 411.72,415.61 412.06,415.62 412.40,415.63 412.74,415.65 413.08,415.66 413.42,415.67 413.76,415.68 414.10,415.69 414.44,415.70 414.78,415.72 415.12,415.73 415.46,415.74 415.80,415.75 416.14,415.76 416.48,415.77 416.82,415.79 417.16,415.80 417.50,415.81 417.84,415.82 418.18,415.83 418.52,415.84 418.86,415.86 419.20,415.87 419.54,415.88 419.88,415.89 420.22,415.90 420.56,415.91 420.90,415.93 421.24,415.94 421.58,415.95 421.92,415.96 422.26,415.97 422.60,415.98 422.94,415.99 423.29,416.01 423.63,416.02 423.97,416.03 424.31,416.04 424.65,416.05 424.99,416.06 425.33,416.07 425.67,416.09 426.01,416.10 426.35,416.11 426.69,416.12 427.03,416.13 427.37,416.14 427.71,416.15 428.05,416.16 428.39,416.18 428.73,416.19 429.07,416.20 429.41,416.21 429.75,416.22 430.09,416.23 430.43,416.24 430.77,416.25 431.11,416.27 431.45,416.28 431.79,416.29 432.13,416.30 432.47,416.31 432.81,416.32 433.15,416.33 433.49,416.34 433.83,416.35 434.17,416.36 434.51,416.38 434.85,416.39 435.19,416.40 435.53,416.41 435.87,416.42 436.21,416.43 436.55,416.44 436.89,416.45 437.23,416.46 437.57,416.47 437.91,416.48 438.26,416.50 438.60,416.51 438.94,416.52 439.28,416.53 439.62,416.54 439.96,416.55 440.30,416.56 440.64,416.57 440.98,416.58 441.32,416.59 441.66,416.60 442.00,416.61 442.34,416.62 442.68,416.63 443.02,416.65 443.36,416.66 443.70,416.67 444.04,416.68 444.38,416.69 444.72,416.70 445.06,416.71 445.40,416.72 445.74,416.73 446.08,416.74 446.42,416.75 446.76,416.76 447.10,416.77 447.44,416.78 447.78,416.79 448.12,416.80 448.46,416.81 448.80,416.82 449.14,416.83 449.48,416.84 449.82,416.85 450.16,416.86 450.50,416.87 450.84,416.88 451.18,416.89 451.52,416.90 451.86,416.91 452.20,416.92 452.54,416.94 452.88,416.95 453.23,416.96 453.57,416.97 453.91,416.98 454.25,416.99 454.59,417.00 454.93,417.01 455.27,417.02 455.61,417.03 455.95,417.04 456.29,417.04 456.63,417.05 456.97,417.06 457.31,417.07 457.65,417.08 457.99,417.09 458.33,417.10 458.67,417.11 459.01,417.12 459.35,417.13 459.69,417.14 460.03,417.15 460.37,417.16 460.71,417.17 461.05,417.18 461.39,417.19 461.73,417.20 462.07,417.21 462.41,417.22 462.75,417.23 463.09,417.24 463.43,417.25 463.77,417.26 464.11,417.27 464.45,417.28 464.79,417.29 465.13,417.30 465.47,417.30 465.81,417.31 466.15,417.32 466.49,417.33 466.83,417.34 467.17,417.35 467.51,417.36 467.85,417.37 468.20,417.38 468.54,417.39 468.88,417.40 469.22,417.41 469.56,417.42 469.90,417.43 470.24,417.43 470.58,417.44 470.92,417.45 471.26,417.46 471.60,417.47 471.94,417.48 472.28,417.49 472.62,417.50 472.96,417.51 473.30,417.52 473.64,417.52 473.98,417.53 474.32,417.54 474.66,417.55 475.00,417.56 475.34,417.57 475.68,417.58 476.02,417.59 476.36,417.59 476.70,417.60 477.04,417.61 477.38,417.62 477.72,417.63 478.06,417.64 478.40,417.65 478.74,417.66 479.08,417.66 479.42,417.67 479.76,417.68 480.10,417.69 480.44,417.70 480.78,417.71 481.12,417.71 481.46,417.72 481.80,417.73 482.14,417.74 482.48,417.75 482.82,417.76 483.17,417.77 483.51,417.77 483.85,417.78 484.19,417.79 484.53,417.80 484.87,417.81 485.21,417.81 485.55,417.82 485.89,417.83 486.23,417.84 486.57,417.85 486.91,417.86 487.25,417.86 487.59,417.87 487.93,417.88 488.27,417.89 488.61,417.90 488.95,417.90 489.29,417.91 489.63,417.92 489.97,417.93 490.31,417.94 490.65,417.94 490.99,417.95 491.33,417.96 491.67,417.97 492.01,417.98 492.35,417.98 492.69,417.99 493.03,418.00 493.37,418.01 493.71,418.01 494.05,418.02 494.39,418.03 494.73,418.04 495.07,418.04 495.41,418.05 495.75,418.06 496.09,418.07 496.43,418.08 496.77,418.08 497.11,418.09 497.45,418.10 497.79,418.11 498.14,418.11 498.48,418.12 498.82,418.13 499.16,418.13 499.50,418.14 499.84,418.15 500.18,418.16 500.52,418.16 500.86,418.17 501.20,418.18 501.54,418.19 501.88,418.19 502.22,418.20 502.56,418.21 502.90,418.22 503.24,418.22 503.58,418.23 503.92,418.24 504.26,418.24 504.60,418.25 504.94,418.26 505.28,418.26 505.62,418.27 505.96,418.28 506.30,418.29 506.64,418.29 506.98,418.30 507.32,418.31 507.66,418.31 508.00,418.32 508.34,418.33 508.68,418.33 509.02,418.34 509.36,418.35 509.70,418.35 510.04,418.36 510.38,418.37 510.72,418.37 511.06,418.38 511.40,418.39 511.74,418.39 512.08,418.40 512.42,418.41 512.76,418.41 513.11,418.42 513.45,418.43 513.79,418.43 514.13,418.44 514.47,418.45 514.81,418.45 515.15,418.46 515.49,418.47 515.83,418.47 516.17,418.48 516.51,418.49 516.85,418.49 517.19,418.50 517.53,418.51 517.87,418.51 518.21,418.52 518.55,418.53 518.89,418.53 519.23,418.54 519.57,418.54 519.91,418.55 520.25,418.56 520.59,418.56 520.93,418.57 521.27,418.58 521.61,418.58 521.95,418.59 522.29,418.59 522.63,418.60 522.97,418.61 523.31,418.61 523.65,418.62 523.99,418.63 524.33,418.63 524.67,418.64 525.01,418.64 525.35,418.65 525.69,418.66 526.03,418.66 526.37,418.67 526.71,418.67 527.05,418.68 527.39,418.69 527.73,418.69 528.08,418.70 528.42,418.70 528.76,418.71 529.10,418.72 529.44,418.72 529.78,418.73 530.12,418.73 530.46,418.74 530.80,418.75 531.14,418.75 531.48,418.76 531.82,418.76 532.16,418.77 532.50,418.78 532.84,418.78 533.18,418.79 533.52,418.79 533.86,418.80 534.20,418.80 534.54,418.81 534.88,418.82 535.22,418.82 535.56,418.83 535.90,418.83 536.24,418.84 536.58,418.84 536.92,418.85 537.26,418.86 537.60,418.86 537.94,418.87 538.28,418.87 538.62,418.88 538.96,418.88 539.30,418.89 539.64,418.90 539.98,418.90 540.32,418.91 540.66,418.91 541.00,418.92 541.34,418.92 541.68,418.93 542.02,418.93 542.36,418.94 542.70,418.95 543.05,418.95 543.39,418.96 543.73,418.96 544.07,418.97 544.41,418.97 544.75,418.98 545.09,418.98 545.43,418.99 545.77,418.99 546.11,419.00 546.45,419.00 546.79,419.01 547.13,419.02 547.47,419.02 547.81,419.03 548.15,419.03 548.49,419.04 548.83,419.04 549.17,419.05 549.51,419.05 549.85,419.06 550.19,419.06 550.53,419.07 550.87,419.07 551.21,419.08 551.55,419.08 551.89,419.09 552.23,419.09 552.57,419.10 552.91,419.10 553.25,419.11 553.59,419.11 553.93,419.12 554.27,419.12 554.61,419.13 554.95,419.13 555.29,419.14 555.63,419.14 555.97,419.15 556.31,419.15 556.65,419.16 556.99,419.16 557.33,419.17 557.67,419.17 558.02,419.18 558.36,419.18 558.70,419.19 559.04,419.19 559.38,419.20 559.72,419.20 560.06,419.21 560.40,419.21 560.74,419.22 561.08,419.22 561.42,419.23 561.76,419.23 562.10,419.24 562.44,419.24 562.78,419.25 563.12,419.25 563.46,419.26 563.80,419.26 564.14,419.27 564.48,419.27 564.82,419.28 565.16,419.28 565.50,419.29" class="m"/><path d="M55.50,86.50 55.84,89.01 56.18,91.48 56.52,93.92 56.86,96.31 57.20,98.66 57.54,100.95 57.88,103.21 58.22,105.44 58.56,107.63 58.90,109.80 59.24,111.94 59.58,114.05 59.92,116.13 60.26,118.19 60.60,120.23 60.94,122.24 61.28,124.24 61.62,126.21 61.96,128.17 62.30,130.10 62.64,132.02 62.98,133.91 63.33,135.78 63.67,137.63 64.01,139.45 64.35,141.26 64.69,143.05 65.03,144.82 65.37,146.58 65.71,148.32 66.05,150.04 66.39,151.76 66.73,153.46 67.07,155.15 67.41,156.83 67.75,158.50 68.09,160.16 68.43,161.81 68.77,163.46 69.11,165.10 69.45,166.74 69.79,168.37 70.13,169.99 70.47,171.62 70.81,173.23 71.15,174.84 71.49,176.45 71.83,178.04 72.17,179.63 72.51,181.21 72.85,182.78 73.19,184.34 73.53,185.89 73.87,187.43 74.21,188.96 74.55,190.48 74.89,191.99 75.23,193.48 75.57,194.96 75.91,196.43 76.25,197.89 76.59,199.33 76.93,200.76 77.27,202.18 77.61,203.58 77.95,204.97 78.30,206.35 78.64,207.72 78.98,209.07 79.32,210.42 79.66,211.76 80.00,213.08 80.34,214.40 80.68,215.70 81.02,217.00 81.36,218.29 81.70,219.57 82.04,220.85 82.38,222.12 82.72,223.38 83.06,224.63 83.40,225.88 83.74,227.12 84.08,228.36 84.42,229.59 84.76,230.81 85.10,232.04 85.44,233.26 85.78,234.47 86.12,235.69 86.46,236.90 86.80,238.10 87.14,239.30 87.48,240.49 87.82,241.68 88.16,242.86 88.50,244.03 88.84,245.19 89.18,246.35 89.52,247.49 89.86,248.63 90.20,249.76 90.54,250.87 90.88,251.98 91.22,253.07 91.56,254.16 91.90,255.23 92.24,256.29 92.58,257.34 92.92,258.37 93.27,259.40 93.61,260.41 93.95,261.40 94.29,262.38 94.63,263.35 94.97,264.31 95.31,265.26 95.65,266.19 95.99,267.12 96.33,268.04 96.67,268.94 97.01,269.84 97.35,270.73 97.69,271.61 98.03,272.48 98.37,273.34 98.71,274.20 99.05,275.05 99.39,275.90 99.73,276.74 100.07,277.57 100.41,278.40 100.75,279.22 101.09,280.04 101.43,280.85 101.77,281.66 102.11,282.46 102.45,283.27 102.79,284.06 103.13,284.86 103.47,285.65 103.81,286.44 104.15,287.23 104.49,288.02 104.83,288.81 105.17,289.59 105.51,290.37 105.85,291.16 106.19,291.94 106.53,292.72 106.87,293.50 107.21,294.28 107.55,295.05 107.89,295.83 108.24,296.60 108.58,297.37 108.92,298.13 109.26,298.90 109.60,299.66 109.94,300.41 110.28,301.17 110.62,301.92 110.96,302.66 111.30,303.41 111.64,304.14 111.98,304.88 112.32,305.61 112.66,306.33 113.00,307.06 113.34,307.77 113.68,308.48 114.02,309.19 114.36,309.89 114.70,310.59 115.04,311.28 115.38,311.97 115.72,312.65 116.06,313.32 116.40,313.99 116.74,314.66 117.08,315.31 117.42,315.97 117.76,316.61 118.10,317.25 118.44,317.88 118.78,318.51 119.12,319.13 119.46,319.75 119.80,320.35 120.14,320.96 120.48,321.55 120.82,322.14 121.16,322.72 121.50,323.30 121.84,323.88 122.18,324.45 122.52,325.02 122.86,325.58 123.21,326.14 123.55,326.69 123.89,327.24 124.23,327.79 124.57,328.33 124.91,328.87 125.25,329.40 125.59,329.93 125.93,330.45 126.27,330.98 126.61,331.49 126.95,332.01 127.29,332.52 127.63,333.03 127.97,333.53 128.31,334.03 128.65,334.52 128.99,335.02 129.33,335.51 129.67,335.99 130.01,336.47 130.35,336.95 130.69,337.43 131.03,337.90 131.37,338.37 131.71,338.84 132.05,339.30 132.39,339.76 132.73,340.22 133.07,340.67 133.41,341.12 133.75,341.57 134.09,342.01 134.43,342.46 134.77,342.89 135.11,343.33 135.45,343.76 135.79,344.19 136.13,344.62 136.47,345.05 136.81,345.47 137.15,345.89 137.49,346.31 137.83,346.72 138.18,347.13 138.52,347.54 138.86,347.95 139.20,348.35 139.54,348.75 139.88,349.15 140.22,349.55 140.56,349.94 140.90,350.34 141.24,350.73 141.58,351.11 141.92,351.50 142.26,351.88 142.60,352.26 142.94,352.64 143.28,353.02 143.62,353.39 143.96,353.76 144.30,354.13 144.64,354.50 144.98,354.87 145.32,355.23 145.66,355.59 146.00,355.95 146.34,356.31 146.68,356.66 147.02,357.02 147.36,357.37 147.70,357.72 148.04,358.07 148.38,358.41 148.72,358.75 149.06,359.09 149.40,359.43 149.74,359.77 150.08,360.10 150.42,360.44 150.76,360.77 151.10,361.10 151.44,361.42 151.78,361.75 152.12,362.07 152.46,362.39 152.80,362.71 153.15,363.03 153.49,363.34 153.83,363.66 154.17,363.97 154.51,364.28 154.85,364.58 155.19,364.89 155.53,365.19 155.87,365.50 156.21,365.80 156.55,366.09 156.89,366.39 157.23,366.68 157.57,366.98 157.91,367.27 158.25,367.55 158.59,367.84 158.93,368.13 159.27,368.41 159.61,368.69 159.95,368.97 160.29,369.25 160.63,369.52 160.97,369.80 161.31,370.07 161.65,370.34 161.99,370.61 162.33,370.88 162.67,371.14 163.01,371.41 163.35,371.67 163.69,371.93 164.03,372.19 164.37,372.45 164.71,372.70 165.05,372.95 165.39,373.21 165.73,373.46 166.07,373.70 166.41,373.95 166.75,374.20 167.09,374.44 167.43,374.68 167.77,374.92 168.12,375.16 168.46,375.40 168.80,375.63 169.14,375.87 169.48,376.10 169.82,376.33 170.16,376.56 170.50,376.79 170.84,377.01 171.18,377.24 171.52,377.46 171.86,377.68 172.20,377.90 172.54,378.12 172.88,378.34 173.22,378.55 173.56,378.77 173.90,378.98 174.24,379.20 174.58,379.41 174.92,379.62 175.26,379.83 175.60,380.03 175.94,380.24 176.28,380.44 176.62,380.65 176.96,380.85 177.30,381.05 177.64,381.25 177.98,381.45 178.32,381.65 178.66,381.85 179.00,382.04 179.34,382.24 179.68,382.43 180.02,382.62 180.36,382.82 180.70,383.01 181.04,383.20 181.38,383.38 181.72,383.57 182.06,383.76 182.40,383.94 182.74,384.12 183.09,384.31 183.43,384.49 183.77,384.67 184.11,384.85 184.45,385.03 184.79,385.21 185.13,385.38 185.47,385.56 185.81,385.73 186.15,385.91 186.49,386.08 186.83,386.25 187.17,386.42 187.51,386.59 187.85,386.76 188.19,386.92 188.53,387.09 188.87,387.26 189.21,387.42 189.55,387.58 189.89,387.75 190.23,387.91 190.57,388.07 190.91,388.23 191.25,388.39 191.59,388.55 191.93,388.70 192.27,388.86 192.61,389.02 192.95,389.17 193.29,389.32 193.63,389.48 193.97,389.63 194.31,389.78 194.65,389.93 194.99,390.08 195.33,390.23 195.67,390.37 196.01,390.52 196.35,390.66 196.69,390.81 197.03,390.95 197.37,391.10 197.71,391.24 198.06,391.38 198.40,391.52 198.74,391.66 199.08,391.80 199.42,391.94 199.76,392.08 200.10,392.21 200.44,392.35 200.78,392.48 201.12,392.62 201.46,392.75 201.80,392.88 202.14,393.01 202.48,393.15 202.82,393.28 203.16,393.41 203.50,393.53 203.84,393.66 204.18,393.79 204.52,393.92 204.86,394.04 205.20,394.17 205.54,394.29 205.88,394.42 206.22,394.54 206.56,394.66 206.90,394.78 207.24,394.90 207.58,395.02 207.92,395.14 208.26,395.26 208.60,395.38 208.94,395.50 209.28,395.61 209.62,395.73 209.96,395.84 210.30,395.96 210.64,396.07 210.98,396.19 211.32,396.30 211.66,396.41 212.00,396.52 212.34,396.63 212.68,396.74 213.03,396.85 213.37,396.96 213.71,397.07 214.05,397.18 214.39,397.29 214.73,397.39 215.07,397.50 215.41,397.61 215.75,397.71 216.09,397.82 216.43,397.93 216.77,398.03 217.11,398.14 217.45,398.24 217.79,398.34 218.13,398.45 218.47,398.55 218.81,398.65 219.15,398.75 219.49,398.85 219.83,398.95 220.17,399.06 220.51,399.16 220.85,399.25 221.19,399.35 221.53,399.45 221.87,399.55 222.21,399.65 222.55,399.74 222.89,399.84 223.23,399.94 223.57,400.03 223.91,400.13 224.25,400.22 224.59,400.32 224.93,400.41 225.27,400.50 225.61,400.60 225.95,400.69 226.29,400.78 226.63,400.87 226.97,400.96 227.31,401.05 227.65,401.14 227.99,401.23 228.34,401.32 228.68,401.41 229.02,401.50 229.36,401.59 229.70,401.67 230.04,401.76 230.38,401.85 230.72,401.93 231.06,402.02 231.40,402.10 231.74,402.19 232.08,402.27 232.42,402.35 232.76,402.44 233.10,402.52 233.44,402.60 233.78,402.68 234.12,402.76 234.46,402.84 234.80,402.92 235.14,403.00 235.48,403.08 235.82,403.16 236.16,403.24 236.50,403.32 236.84,403.39 237.18,403.47 237.52,403.55 237.86,403.62 238.20,403.70 238.54,403.77 238.88,403.85 239.22,403.92 239.56,404.00 239.90,404.07 240.24,404.14 240.58,404.21 240.92,404.28 241.26,404.36 241.60,404.43 241.94,404.50 242.28,404.57 242.62,404.64 242.96,404.70 243.31,404.77 243.65,404.84 243.99,404.91 244.33,404.98 244.67,405.04 245.01,405.11 245.35,405.17 245.69,405.24 246.03,405.30 246.37,405.37 246.71,405.43 247.05,405.50 247.39,405.56 247.73,405.62 248.07,405.68 248.41,405.75 248.75,405.81 249.09,405.87 249.43,405.93 249.77,405.99 250.11,406.05 250.45,406.11 250.79,406.16 251.13,406.22 251.47,406.28 251.81,406.34 252.15,406.39 252.49,406.45 252.83,406.51 253.17,406.56 253.51,406.62 253.85,406.67 254.19,406.73 254.53,406.78 254.87,406.83 255.21,406.89 255.55,406.94 255.89,406.99 256.23,407.04 256.57,407.09 256.91,407.14 257.25,407.19 257.59,407.24 257.93,407.29 258.28,407.34 258.62,407.39 258.96,407.44 259.30,407.49 259.64,407.54 259.98,407.58 260.32,407.63 260.66,407.68 261.00,407.72 261.34,407.77 261.68,407.81 262.02,407.86 262.36,407.91 262.70,407.95 263.04,408.00 263.38,408.04 263.72,408.08 264.06,408.13 264.40,408.17 264.74,408.22 265.08,408.26 265.42,408.30 265.76,408.35 266.10,408.39 266.44,408.43 266.78,408.47 267.12,408.51 267.46,408.56 267.80,408.60 268.14,408.64 268.48,408.68 268.82,408.72 269.16,408.76 269.50,408.80 269.84,408.84 270.18,408.88 270.52,408.92 270.86,408.96 271.20,409.00 271.54,409.04 271.88,409.08 272.22,409.12 272.56,409.16 272.90,409.20 273.25,409.24 273.59,409.27 273.93,409.31 274.27,409.35 274.61,409.39 274.95,409.43 275.29,409.46 275.63,409.50 275.97,409.54 276.31,409.57 276.65,409.61 276.99,409.65 277.33,409.68 277.67,409.72 278.01,409.75 278.35,409.79 278.69,409.82 279.03,409.86 279.37,409.89 279.71,409.93 280.05,409.96 280.39,410.00 280.73,410.03 281.07,410.07 281.41,410.10 281.75,410.13 282.09,410.17 282.43,410.20 282.77,410.23 283.11,410.27 283.45,410.30 283.79,410.33 284.13,410.37 284.47,410.40 284.81,410.43 285.15,410.46 285.49,410.49 285.83,410.53 286.17,410.56 286.51,410.59 286.85,410.62 287.19,410.65 287.53,410.68 287.87,410.71 288.22,410.74 288.56,410.77 288.90,410.80 289.24,410.83 289.58,410.86 289.92,410.89 290.26,410.92 290.60,410.95 290.94,410.98 291.28,411.01 291.62,411.04 291.96,411.07 292.30,411.10 292.64,411.13 292.98,411.16 293.32,411.19 293.66,411.21 294.00,411.24 294.34,411.27 294.68,411.30 295.02,411.33 295.36,411.35 295.70,411.38 296.04,411.41 296.38,411.44 296.72,411.46 297.06,411.49 297.40,411.52 297.74,411.54 298.08,411.57 298.42,411.60 298.76,411.62 299.10,411.65 299.44,411.67 299.78,411.70 300.12,411.73 300.46,411.75 300.80,411.78 301.14,411.80 301.48,411.83 301.82,411.85 302.16,411.88 302.50,411.90 302.84,411.93 303.19,411.95 303.53,411.98 303.87,412.00 304.21,412.03 304.55,412.05 304.89,412.07 305.23,412.10 305.57,412.12 305.91,412.15 306.25,412.17 306.59,412.19 306.93,412.22 307.27,412.24 307.61,412.26 307.95,412.29 308.29,412.31 308.63,412.33 308.97,412.35 309.31,412.38 309.65,412.40 309.99,412.42 310.33,412.44 310.67,412.47 311.01,412.49 311.35,412.51 311.69,412.53 312.03,412.55 312.37,412.58 312.71,412.60 313.05,412.62 313.39,412.64 313.73,412.66 314.07,412.68 314.41,412.70 314.75,412.72 315.09,412.74 315.43,412.77 315.77,412.79 316.11,412.81 316.45,412.83 316.79,412.85 317.13,412.87 317.47,412.89 317.81,412.91 318.16,412.93 318.50,412.95 318.84,412.97 319.18,412.99 319.52,413.01 319.86,413.03 320.20,413.05 320.54,413.06 320.88,413.08 321.22,413.10 321.56,413.12 321.90,413.14 322.24,413.16 322.58,413.18 322.92,413.20 323.26,413.22 323.60,413.23 323.94,413.25 324.28,413.27 324.62,413.29 324.96,413.31 325.30,413.33 325.64,413.34 325.98,413.36 326.32,413.38 326.66,413.40 327.00,413.41 327.34,413.43 327.68,413.45 328.02,413.47 328.36,413.48 328.70,413.50 329.04,413.52 329.38,413.54 329.72,413.55 330.06,413.57 330.40,413.59 330.74,413.60 331.08,413.62 331.42,413.64 331.76,413.65 332.10,413.67 332.44,413.69 332.78,413.70 333.13,413.72 333.47,413.73 333.81,413.75 334.15,413.76 334.49,413.78 334.83,413.80 335.17,413.81 335.51,413.83 335.85,413.84 336.19,413.86 336.53,413.87 336.87,413.89 337.21,413.90 337.55,413.92 337.89,413.93 338.23,413.94 338.57,413.96 338.91,413.97 339.25,413.99 339.59,414.00 339.93,414.02 340.27,414.03 340.61,414.04 340.95,414.06 341.29,414.07 341.63,414.09 341.97,414.10 342.31,414.11 342.65,414.13 342.99,414.14 343.33,414.15 343.67,414.17 344.01,414.18 344.35,414.19 344.69,414.21 345.03,414.22 345.37,414.23 345.71,414.24 346.05,414.26 346.39,414.27 346.73,414.28 347.07,414.29 347.41,414.31 347.75,414.32 348.10,414.33 348.44,414.34 348.78,414.36 349.12,414.37 349.46,414.38 349.80,414.39 350.14,414.40 350.48,414.42 350.82,414.43 351.16,414.44 351.50,414.45 351.84,414.46 352.18,414.48 352.52,414.49 352.86,414.50 353.20,414.51 353.54,414.52 353.88,414.53 354.22,414.55 354.56,414.56 354.90,414.57 355.24,414.58 355.58,414.59 355.92,414.60 356.26,414.61 356.60,414.62 356.94,414.64 357.28,414.65 357.62,414.66 357.96,414.67 358.30,414.68 358.64,414.69 358.98,414.70 359.32,414.71 359.66,414.72 360.00,414.73 360.34,414.74 360.68,414.75 361.02,414.77 361.36,414.78 361.70,414.79 362.04,414.80 362.38,414.81 362.72,414.82 363.07,414.83 363.41,414.84 363.75,414.85 364.09,414.86 364.43,414.87 364.77,414.88 365.11,414.89 365.45,414.90 365.79,414.91 366.13,414.92 366.47,414.93 366.81,414.94 367.15,414.95 367.49,414.96 367.83,414.97 368.17,414.98 368.51,414.99 368.85,415.00 369.19,415.01 369.53,415.02 369.87,415.03 370.21,415.04 370.55,415.05 370.89,415.06 371.23,415.07 371.57,415.08 371.91,415.09 372.25,415.10 372.59,415.11 372.93,415.12 373.27,415.13 373.61,415.14 373.95,415.15 374.29,415.16 374.63,415.17 374.97,415.18 375.31,415.19 375.65,415.20 375.99,415.21 376.33,415.22 376.67,415.23 377.01,415.24 377.35,415.25 377.69,415.26 378.04,415.27 378.38,415.28 378.72,415.29 379.06,415.30 379.40,415.31 379.74,415.32 380.08,415.33 380.42,415.34 380.76,415.35 381.10,415.36 381.44,415.37 381.78,415.38 382.12,415.39 382.46,415.40 382.80,415.41 383.14,415.42 383.48,415.43 383.82,415.44 384.16,415.45 384.50,415.46 384.84,415.47 385.18,415.48 385.52,415.48 385.86,415.49 386.20,415.50 386.54,415.51 386.88,415.52 387.22,415.53 387.56,415.54 387.90,415.55 388.24,415.56 388.58,415.57 388.92,415.58 389.26,415.59 389.60,415.60 389.94,415.61 390.28,415.62 390.62,415.63 390.96,415.64 391.30,415.65 391.64,415.66 391.98,415.67 392.32,415.68 392.66,415.69 393.01,415.70 393.35,415.71 393.69,415.72 394.03,415.73 394.37,415.74 394.71,415.75 395.05,415.76 395.39,415.77 395.73,415.78 396.07,415.79 396.41,415.80 396.75,415.82 397.09,415.83 397.43,415.84 397.77,415.85 398.11,415.86 398.45,415.87 398.79,415.88 399.13,415.89 399.47,415.90 399.81,415.91 400.15,415.92 400.49,415.93 400.83,415.94 401.17,415.95 401.51,415.96 401.85,415.97 402.19,415.98 402.53,415.99 402.87,416.00 403.21,416.01 403.55,416.02 403.89,416.03 404.23,416.04 404.57,416.05 404.91,416.06 405.25,416.07 405.59,416.09 405.93,416.10 406.27,416.11 406.61,416.12 406.95,416.13 407.29,416.14 407.63,416.15 407.97,416.16 408.32,416.17 408.66,416.18 409.00,416.19 409.34,416.20 409.68,416.21 410.02,416.22 410.36,416.23 410.70,416.24 411.04,416.25 411.38,416.26 411.72,416.27 412.06,416.28 412.40,416.29 412.74,416.30 413.08,416.31 413.42,416.32 413.76,416.33 414.10,416.34 414.44,416.35 414.78,416.36 415.12,416.37 415.46,416.38 415.80,416.40 416.14,416.41 416.48,416.42 416.82,416.43 417.16,416.44 417.50,416.45 417.84,416.46 418.18,416.47 418.52,416.48 418.86,416.49 419.20,416.50 419.54,416.51 419.88,416.52 420.22,416.53 420.56,416.54 420.90,416.55 421.24,416.56 421.58,416.57 421.92,416.58 422.26,416.59 422.60,416.60 422.94,416.61 423.29,416.62 423.63,416.63 423.97,416.64 424.31,416.65 424.65,416.66 424.99,416.67 425.33,416.68 425.67,416.69 426.01,416.70 426.35,416.71 426.69,416.72 427.03,416.73 427.37,416.74 427.71,416.75 428.05,416.76 428.39,416.77 428.73,416.78 429.07,416.79 429.41,416.80 429.75,416.81 430.09,416.82 430.43,416.83 430.77,416.84 431.11,416.85 431.45,416.86 431.79,416.87 432.13,416.88 432.47,416.89 432.81,416.90 433.15,416.90 433.49,416.91 433.83,416.92 434.17,416.93 434.51,416.94 434.85,416.95 435.19,416.96 435.53,416.97 435.87,416.98 436.21,416.99 436.55,417.00 436.89,417.01 437.23,417.02 437.57,417.03 437.91,417.04 438.26,417.05 438.60,417.06 438.94,417.07 439.28,417.08 439.62,417.09 439.96,417.10 440.30,417.11 440.64,417.12 440.98,417.13 441.32,417.13 441.66,417.14 442.00,417.15 442.34,417.16 442.68,417.17 443.02,417.18 443.36,417.19 443.70,417.20 444.04,417.21 444.38,417.22 444.72,417.23 445.06,417.24 445.40,417.25 445.74,417.26 446.08,417.26 446.42,417.27 446.76,417.28 447.10,417.29 447.44,417.30 447.78,417.31 448.12,417.32 448.46,417.33 448.80,417.34 449.14,417.35 449.48,417.36 449.82,417.36 450.16,417.37 450.50,417.38 450.84,417.39 451.18,417.40 451.52,417.41 451.86,417.42 452.20,417.43 452.54,417.44 452.88,417.45 453.23,417.45 453.57,417.46 453.91,417.47 454.25,417.48 454.59,417.49 454.93,417.50 455.27,417.51 455.61,417.52 455.95,417.53 456.29,417.53 456.63,417.54 456.97,417.55 457.31,417.56 457.65,417.57 457.99,417.58 458.33,417.59 458.67,417.59 459.01,417.60 459.35,417.61 459.69,417.62 460.03,417.63 460.37,417.64 460.71,417.65 461.05,417.65 461.39,417.66 461.73,417.67 462.07,417.68 462.41,417.69 462.75,417.70 463.09,417.71 463.43,417.71 463.77,417.72 464.11,417.73 464.45,417.74 464.79,417.75 465.13,417.76 465.47,417.76 465.81,417.77 466.15,417.78 466.49,417.79 466.83,417.80 467.17,417.80 467.51,417.81 467.85,417.82 468.20,417.83 468.54,417.84 468.88,417.85 469.22,417.85 469.56,417.86 469.90,417.87 470.24,417.88 470.58,417.89 470.92,417.89 471.26,417.90 471.60,417.91 471.94,417.92 472.28,417.93 472.62,417.93 472.96,417.94 473.30,417.95 473.64,417.96 473.98,417.97 474.32,417.97 474.66,417.98 475.00,417.99 475.34,418.00 475.68,418.00 476.02,418.01 476.36,418.02 476.70,418.03 477.04,418.04 477.38,418.04 477.72,418.05 478.06,418.06 478.40,418.07 478.74,418.07 479.08,418.08 479.42,418.09 479.76,418.10 480.10,418.10 480.44,418.11 480.78,418.12 481.12,418.13 481.46,418.13 481.80,418.14 482.14,418.15 482.48,418.16 482.82,418.16 483.17,418.17 483.51,418.18 483.85,418.19 484.19,418.19 484.53,418.20 484.87,418.21 485.21,418.21 485.55,418.22 485.89,418.23 486.23,418.24 486.57,418.24 486.91,418.25 487.25,418.26 487.59,418.26 487.93,418.27 488.27,418.28 488.61,418.29 488.95,418.29 489.29,418.30 489.63,418.31 489.97,418.31 490.31,418.32 490.65,418.33 490.99,418.34 491.33,418.34 491.67,418.35 492.01,418.36 492.35,418.36 492.69,418.37 493.03,418.38 493.37,418.38 493.71,418.39 494.05,418.40 494.39,418.40 494.73,418.41 495.07,418.42 495.41,418.42 495.75,418.43 496.09,418.44 496.43,418.44 496.77,418.45 497.11,418.46 497.45,418.46 497.79,418.47 498.14,418.48 498.48,418.48 498.82,418.49 499.16,418.50 499.50,418.50 499.84,418.51 500.18,418.52 500.52,418.52 500.86,418.53 501.20,418.54 501.54,418.54 501.88,418.55 502.22,418.56 502.56,418.56 502.90,418.57 503.24,418.57 503.58,418.58 503.92,418.59 504.26,418.59 504.60,418.60 504.94,418.61 505.28,418.61 505.62,418.62 505.96,418.62 506.30,418.63 506.64,418.64 506.98,418.64 507.32,418.65 507.66,418.66 508.00,418.66 508.34,418.67 508.68,418.67 509.02,418.68 509.36,418.69 509.70,418.69 510.04,418.70 510.38,418.70 510.72,418.71 511.06,418.72 511.40,418.72 511.74,418.73 512.08,418.73 512.42,418.74 512.76,418.74 513.11,418.75 513.45,418.76 513.79,418.76 514.13,418.77 514.47,418.77 514.81,418.78 515.15,418.79 515.49,418.79 515.83,418.80 516.17,418.80 516.51,418.81 516.85,418.81 517.19,418.82 517.53,418.83 517.87,418.83 518.21,418.84 518.55,418.84 518.89,418.85 519.23,418.85 519.57,418.86 519.91,418.86 520.25,418.87 520.59,418.88 520.93,418.88 521.27,418.89 521.61,418.89 521.95,418.90 522.29,418.90 522.63,418.91 522.97,418.91 523.31,418.92 523.65,418.93 523.99,418.93 524.33,418.94 524.67,418.94 525.01,418.95 525.35,418.95 525.69,418.96 526.03,418.96 526.37,418.97 526.71,418.97 527.05,418.98 527.39,418.98 527.73,418.99 528.08,419.00 528.42,419.00 528.76,419.01 529.10,419.01 529.44,419.02 529.78,419.02 530.12,419.03 530.46,419.03 530.80,419.04 531.14,419.04 531.48,419.05 531.82,419.05 532.16,419.06 532.50,419.06 532.84,419.07 533.18,419.07 533.52,419.08 533.86,419.08 534.20,419.09 534.54,419.09 534.88,419.10 535.22,419.10 535.56,419.11 535.90,419.11 536.24,419.12 536.58,419.12 536.92,419.13 537.26,419.13 537.60,419.14 537.94,419.14 538.28,419.15 538.62,419.15 538.96,419.16 539.30,419.16 539.64,419.17 539.98,419.17 540.32,419.18 540.66,419.18 541.00,419.19 541.34,419.19 541.68,419.20 542.02,419.20 542.36,419.21 542.70,419.21 543.05,419.22 543.39,419.22 543.73,419.23 544.07,419.23 544.41,419.24 544.75,419.24 545.09,419.25 545.43,419.25 545.77,419.26 546.11,419.26 546.45,419.27 546.79,419.27 547.13,419.28 547.47,419.28 547.81,419.28 548.15,419.29 548.49,419.29 548.83,419.30 549.17,419.30 549.51,419.31 549.85,419.31 550.19,419.32 550.53,419.32 550.87,419.33 551.21,419.33 551.55,419.34 551.89,419.34 552.23,419.35 552.57,419.35 552.91,419.35 553.25,419.36 553.59,419.36 553.93,419.37 554.27,419.37 554.61,419.38 554.95,419.38 555.29,419.39 555.63,419.39 555.97,419.39 556.31,419.40 556.65,419.40 556.99,419.41 557.33,419.41 557.67,419.42 558.02,419.42 558.36,419.43 558.70,419.43 559.04,419.43 559.38,419.44 559.72,419.44 560.06,419.45 560.40,419.45 560.74,419.46 561.08,419.46 561.42,419.46 561.76,419.47 562.10,419.47 562.44,419.48 562.78,419.48 563.12,419.49 563.46,419.49 563.80,419.49 564.14,419.50 564.48,419.50 564.82,419.51 565.16,419.51 565.50,419.52" class="m"/><path d="M56.01,90.34 56.18,91.59 56.35,92.83 56.52,94.06 56.69,95.26 56.86,96.43 57.03,97.59 57.20,98.71 57.37,99.81 57.54,100.88 M58.56,106.96 58.73,107.92 58.90,108.87 59.07,109.81 59.24,110.74 59.41,111.66 59.58,112.57 59.75,113.47 59.92,114.37 60.09,115.25 60.26,116.13 60.43,117.01 M61.62,123.01 61.79,123.86 61.96,124.71 62.13,125.56 62.30,126.41 62.47,127.26 62.64,128.11 62.81,128.97 62.98,129.82 63.15,130.68 63.32,131.54 63.49,132.39 M64.85,139.12 65.02,139.95 65.19,140.77 65.36,141.59 65.53,142.41 65.70,143.23 65.87,144.05 66.04,144.86 66.21,145.67 66.38,146.47 66.55,147.28 66.72,148.08 M68.08,154.41 68.25,155.19 68.42,155.96 68.59,156.74 68.76,157.51 68.93,158.28 69.10,159.05 69.27,159.82 69.44,160.58 69.61,161.34 69.78,162.10 69.95,162.86 70.12,163.61 70.29,164.37 M71.66,170.31 71.83,171.05 72.00,171.78 72.17,172.52 72.34,173.25 72.51,173.98 72.68,174.71 72.85,175.44 73.02,176.16 73.19,176.89 73.36,177.61 73.53,178.33 73.70,179.05 73.87,179.76 M75.23,185.41 75.40,186.11 75.57,186.80 75.74,187.49 75.91,188.17 76.08,188.86 76.25,189.54 76.42,190.21 76.59,190.89 76.76,191.56 76.93,192.23 77.10,192.89 77.27,193.55 77.44,194.21 77.61,194.86 M79.14,200.58 79.31,201.19 79.48,201.81 79.65,202.42 79.82,203.03 79.99,203.63 80.16,204.24 80.33,204.84 80.50,205.43 80.67,206.03 80.84,206.62 81.01,207.21 81.18,207.79 81.35,208.38 81.52,208.96 81.69,209.54 M83.39,215.20 83.56,215.75 83.73,216.30 83.90,216.85 84.07,217.40 84.24,217.95 84.41,218.49 84.58,219.03 84.75,219.57 84.92,220.11 85.09,220.65 85.26,221.19 85.43,221.72 85.60,222.25 85.77,222.78 85.94,223.31 86.11,223.84 86.28,224.36 M87.98,229.54 88.15,230.04 88.32,230.55 88.49,231.05 88.66,231.55 88.83,232.05 89.00,232.54 89.17,233.03 89.34,233.52 89.51,234.01 89.68,234.49 89.85,234.98 90.02,235.46 90.19,235.94 90.36,236.41 90.53,236.89 90.70,237.36 90.87,237.83 91.04,238.30 M92.91,243.38 93.08,243.84 93.25,244.29 93.42,244.74 93.59,245.20 93.76,245.65 93.93,246.10 94.10,246.55 94.27,247.00 94.44,247.45 94.61,247.90 94.78,248.35 94.95,248.80 95.12,249.25 95.29,249.69 95.46,250.14 95.63,250.59 95.80,251.04 95.97,251.49 96.14,251.93 M98.01,256.88 98.18,257.33 98.35,257.78 98.52,258.24 98.69,258.69 98.86,259.14 99.03,259.60 99.20,260.06 99.37,260.52 99.54,260.98 99.71,261.44 99.88,261.90 100.05,262.36 100.22,262.82 100.39,263.28 100.57,263.75 100.74,264.21 100.91,264.68 101.08,265.14 M102.95,270.24 103.12,270.70 103.29,271.16 103.46,271.62 103.63,272.08 103.80,272.54 103.97,272.99 104.14,273.45 104.31,273.90 104.48,274.36 104.65,274.81 104.82,275.26 104.99,275.71 105.16,276.16 105.33,276.61 105.50,277.05 105.67,277.50 105.84,277.94 106.01,278.38 106.18,278.82 M108.22,283.93 108.39,284.34 108.56,284.75 108.73,285.15 108.90,285.56 109.07,285.96 109.24,286.36 109.41,286.75 109.58,287.15 109.75,287.54 109.92,287.93 110.09,288.31 110.26,288.69 110.43,289.07 110.60,289.45 110.77,289.83 110.94,290.21 111.11,290.58 111.28,290.95 111.45,291.33 111.62,291.70 M113.83,296.38 114.00,296.73 114.17,297.08 114.34,297.43 114.51,297.77 114.68,298.12 114.85,298.46 115.02,298.80 115.19,299.15 115.36,299.49 115.53,299.82 115.70,300.16 115.87,300.50 116.04,300.83 116.21,301.17 116.38,301.50 116.55,301.83 116.72,302.16 116.89,302.49 117.06,302.82 117.23,303.14 117.40,303.47 117.57,303.79 M119.78,307.90 119.95,308.21 120.12,308.51 120.29,308.82 120.46,309.13 120.63,309.43 120.80,309.73 120.97,310.03 121.14,310.33 121.31,310.63 121.48,310.93 121.65,311.23 121.82,311.53 121.99,311.82 122.16,312.12 122.33,312.41 122.50,312.70 122.67,312.99 122.84,313.29 123.01,313.58 123.18,313.86 123.35,314.15 123.52,314.44 123.69,314.72 123.86,315.01 M126.24,318.90 126.41,319.17 126.58,319.44 126.75,319.71 126.92,319.98 127.09,320.24 127.26,320.51 127.43,320.77 127.60,321.03 127.77,321.29 127.94,321.55 128.11,321.81 128.28,322.07 128.45,322.33 128.62,322.59 128.79,322.84 128.96,323.09 129.13,323.35 129.30,323.60 129.47,323.85 129.64,324.10 129.81,324.35 129.98,324.60 130.15,324.84 130.32,325.09 M132.88,328.68 133.05,328.91 133.22,329.15 133.39,329.38 133.56,329.61 133.73,329.84 133.90,330.07 134.07,330.30 134.24,330.52 134.41,330.75 134.58,330.98 134.75,331.20 134.92,331.43 135.09,331.65 135.26,331.88 135.43,332.10 135.60,332.32 135.77,332.54 135.94,332.76 136.11,332.99 136.28,333.21 136.45,333.42 136.62,333.64 136.79,333.86 136.96,334.08 137.13,334.30 137.30,334.51 M139.85,337.71 140.02,337.91 140.19,338.12 140.36,338.33 140.53,338.54 140.70,338.75 140.87,338.95 141.04,339.16 141.21,339.37 141.38,339.57 141.55,339.78 141.72,339.98 141.89,340.19 142.06,340.39 142.23,340.60 142.40,340.80 142.57,341.00 142.74,341.21 142.91,341.41 143.08,341.61 143.25,341.82 143.42,342.02 143.59,342.22 143.76,342.42 143.93,342.62 144.10,342.82 144.27,343.02 144.44,343.22 M146.99,346.20 147.16,346.39 147.33,346.59 147.50,346.79 147.67,346.98 147.84,347.18 148.01,347.37 148.18,347.57 148.35,347.77 148.52,347.96 148.69,348.16 148.86,348.35 149.03,348.55 149.20,348.74 149.37,348.94 149.54,349.13 149.71,349.33 149.88,349.52 150.05,349.72 150.22,349.91 150.39,350.11 150.56,350.31 150.73,350.50 150.90,350.70 151.07,350.89 151.24,351.09 151.41,351.29 151.58,351.48 M154.13,354.41 154.30,354.60 154.47,354.79 154.64,354.99 154.81,355.18 154.98,355.37 155.15,355.56 155.32,355.76 155.49,355.95 155.66,356.14 155.83,356.33 156.00,356.52 156.17,356.71 156.34,356.90 156.51,357.09 156.68,357.28 156.85,357.47 157.02,357.65 157.19,357.84 157.36,358.03 157.53,358.21 157.70,358.40 157.87,358.59 158.04,358.77 158.21,358.96 158.38,359.14 158.55,359.32 158.72,359.51 M161.45,362.35 161.62,362.52 161.79,362.70 161.96,362.87 162.13,363.04 162.30,363.21 162.47,363.38 162.64,363.54 162.81,363.71 162.98,363.88 163.15,364.04 163.32,364.21 163.49,364.37 163.66,364.54 163.83,364.70 164.00,364.86 164.17,365.02 164.34,365.18 164.51,365.34 164.68,365.50 164.85,365.66 165.02,365.82 165.19,365.97 165.36,366.13 165.53,366.29 165.70,366.44 165.87,366.59 166.04,366.75 166.21,366.90 M168.93,369.20 169.10,369.34 169.27,369.47 169.44,369.61 169.61,369.74 169.78,369.88 169.95,370.01 170.12,370.14 170.29,370.27 170.46,370.40 170.63,370.53 170.80,370.65 170.97,370.78 171.14,370.90 171.31,371.03 171.48,371.15 171.65,371.27 171.82,371.40 171.99,371.52 172.16,371.64 172.33,371.75 172.50,371.87 172.67,371.99 172.84,372.11 173.01,372.22 173.18,372.34 173.35,372.46 173.52,372.57 173.69,372.69 173.86,372.80 M176.75,374.66 176.92,374.76 177.09,374.87 177.26,374.97 177.43,375.08 177.60,375.18 177.77,375.28 177.94,375.39 178.11,375.49 178.28,375.59 178.45,375.69 178.62,375.79 178.79,375.89 178.96,375.99 179.13,376.09 179.30,376.19 179.47,376.29 179.64,376.38 179.81,376.48 179.98,376.58 180.15,376.68 180.32,376.77 180.49,376.87 180.66,376.96 180.83,377.06 181.00,377.15 181.17,377.25 181.34,377.34 181.51,377.44 181.68,377.53 181.85,377.62 M184.74,379.15 184.91,379.24 185.08,379.33 185.25,379.41 185.42,379.50 185.59,379.58 185.76,379.67 185.93,379.75 186.10,379.84 186.27,379.92 186.44,380.01 186.61,380.09 186.78,380.18 186.95,380.26 187.12,380.34 187.29,380.42 187.46,380.51 187.63,380.59 187.80,380.67 187.97,380.75 188.14,380.83 188.31,380.92 188.48,381.00 188.65,381.08 188.82,381.16 188.99,381.24 189.16,381.32 189.33,381.40 189.50,381.48 189.67,381.56 M192.74,382.94 192.91,383.02 193.08,383.09 193.25,383.17 193.42,383.24 193.59,383.32 193.76,383.39 193.93,383.47 194.10,383.54 194.27,383.61 194.44,383.69 194.61,383.76 194.78,383.83 194.95,383.91 195.12,383.98 195.29,384.05 195.46,384.12 195.63,384.20 195.80,384.27 195.97,384.34 196.14,384.41 196.31,384.48 196.48,384.55 196.65,384.62 196.82,384.70 196.99,384.77 197.16,384.84 197.33,384.91 197.50,384.98 197.67,385.05 197.84,385.12 M200.73,386.29 200.90,386.36 201.07,386.42 201.24,386.49 201.41,386.56 201.58,386.62 201.75,386.69 201.92,386.76 202.09,386.83 202.26,386.89 202.43,386.96 202.60,387.03 202.77,387.09 202.94,387.16 203.11,387.22 203.28,387.29 203.45,387.36 203.62,387.42 203.79,387.49 203.96,387.55 204.13,387.62 204.30,387.69 204.47,387.75 204.64,387.82 204.81,387.88 204.98,387.95 205.15,388.01 205.32,388.08 205.49,388.14 205.66,388.21 205.83,388.27 M208.72,389.36 208.89,389.42 209.06,389.49 209.23,389.55 209.40,389.61 209.57,389.68 209.74,389.74 209.91,389.80 210.08,389.87 210.25,389.93 210.42,389.99 210.59,390.06 210.76,390.12 210.93,390.18 211.10,390.24 211.27,390.31 211.44,390.37 211.61,390.43 211.78,390.50 211.95,390.56 212.12,390.62 212.29,390.68 212.46,390.74 212.63,390.81 212.80,390.87 212.97,390.93 213.14,390.99 213.31,391.05 213.48,391.12 213.65,391.18 213.82,391.24 213.99,391.30 M216.88,392.32 217.05,392.38 217.22,392.44 217.39,392.50 217.56,392.56 217.73,392.62 217.90,392.68 218.07,392.74 218.24,392.80 218.41,392.85 218.58,392.91 218.75,392.97 218.92,393.03 219.09,393.09 219.26,393.14 219.43,393.20 219.60,393.26 219.77,393.32 219.94,393.37 220.11,393.43 220.28,393.49 220.45,393.54 220.63,393.60 220.80,393.66 220.97,393.72 221.14,393.77 221.31,393.83 221.48,393.88 221.65,393.94 221.82,394.00 221.99,394.05 M224.88,394.99 225.05,395.04 225.22,395.10 225.39,395.15 225.56,395.20 225.73,395.26 225.90,395.31 226.07,395.36 226.24,395.42 226.41,395.47 226.58,395.52 226.75,395.58 226.92,395.63 227.09,395.68 227.26,395.73 227.43,395.79 227.60,395.84 227.77,395.89 227.94,395.94 228.11,395.99 228.28,396.05 228.45,396.10 228.62,396.15 228.79,396.20 228.96,396.25 229.13,396.30 229.30,396.36 229.47,396.41 229.64,396.46 229.81,396.51 229.98,396.56 230.15,396.61 M233.04,397.45 233.21,397.50 233.38,397.55 233.55,397.60 233.72,397.65 233.89,397.70 234.06,397.75 234.23,397.79 234.40,397.84 234.57,397.89 234.74,397.94 234.91,397.98 235.08,398.03 235.25,398.08 235.42,398.13 235.59,398.17 235.76,398.22 235.93,398.27 236.10,398.32 236.27,398.36 236.44,398.41 236.61,398.46 236.78,398.50 236.95,398.55 237.12,398.59 237.29,398.64 237.46,398.69 237.63,398.73 237.80,398.78 237.97,398.82 238.14,398.87 238.31,398.91 M241.20,399.67 241.37,399.72 241.54,399.76 241.71,399.80 241.88,399.85 242.05,399.89 242.22,399.93 242.39,399.98 242.56,400.02 242.73,400.06 242.90,400.10 243.07,400.15 243.24,400.19 243.41,400.23 243.58,400.27 243.75,400.32 243.92,400.36 244.09,400.40 244.26,400.44 244.43,400.48 244.60,400.53 244.77,400.57 244.94,400.61 245.11,400.65 245.28,400.69 245.45,400.73 245.62,400.77 245.79,400.81 245.96,400.86 246.13,400.90 246.30,400.94 246.47,400.98 M249.36,401.65 249.53,401.69 249.70,401.73 249.87,401.77 250.04,401.81 250.21,401.85 250.38,401.88 250.56,401.92 250.73,401.96 250.90,402.00 251.07,402.04 251.24,402.07 251.41,402.11 251.58,402.15 251.75,402.19 251.92,402.23 252.09,402.26 252.26,402.30 252.43,402.34 252.60,402.37 252.77,402.41 252.94,402.45 253.11,402.48 253.28,402.52 253.45,402.56 253.62,402.59 253.79,402.63 253.96,402.67 254.13,402.70 254.30,402.74 254.47,402.78 M257.53,403.41 257.70,403.44 257.87,403.48 258.04,403.51 258.21,403.55 258.38,403.58 258.55,403.61 258.72,403.65 258.89,403.68 259.06,403.72 259.23,403.75 259.40,403.78 259.57,403.82 259.74,403.85 259.91,403.88 260.08,403.92 260.25,403.95 260.42,403.98 260.59,404.01 260.76,404.05 260.93,404.08 261.10,404.11 261.27,404.15 261.44,404.18 261.61,404.21 261.78,404.24 261.95,404.28 262.12,404.31 262.29,404.34 262.46,404.37 262.63,404.41 M265.69,404.98 265.86,405.01 266.03,405.04 266.20,405.07 266.37,405.10 266.54,405.13 266.71,405.16 266.88,405.19 267.05,405.22 267.22,405.25 267.39,405.28 267.56,405.32 267.73,405.35 267.90,405.38 268.07,405.41 268.24,405.44 268.41,405.47 268.58,405.50 268.75,405.53 268.92,405.56 269.09,405.59 269.26,405.62 269.43,405.65 269.60,405.68 269.77,405.71 269.94,405.74 270.11,405.77 270.28,405.80 270.45,405.83 270.62,405.86 270.79,405.89 270.96,405.91 M273.85,406.41 274.02,406.44 274.19,406.46 274.36,406.49 274.53,406.52 274.70,406.55 274.87,406.58 275.04,406.60 275.21,406.63 275.38,406.66 275.55,406.69 275.72,406.72 275.89,406.74 276.06,406.77 276.23,406.80 276.40,406.83 276.57,406.85 276.74,406.88 276.91,406.91 277.08,406.94 277.25,406.96 277.42,406.99 277.59,407.02 277.76,407.05 277.93,407.07 278.10,407.10 278.27,407.13 278.44,407.15 278.61,407.18 278.78,407.21 278.95,407.23 279.12,407.26 M282.02,407.71 282.19,407.73 282.36,407.76 282.53,407.78 282.70,407.81 282.87,407.84 283.04,407.86 283.21,407.89 283.38,407.91 283.55,407.94 283.72,407.96 283.89,407.99 284.06,408.01 284.23,408.04 284.40,408.06 284.57,408.09 284.74,408.11 284.91,408.14 285.08,408.16 285.25,408.19 285.42,408.21 285.59,408.24 285.76,408.26 285.93,408.29 286.10,408.31 286.27,408.33 286.44,408.36 286.61,408.38 286.78,408.41 286.95,408.43 287.12,408.46 287.29,408.48 M290.18,408.88 290.35,408.90 290.52,408.93 290.69,408.95 290.86,408.97 291.03,409.00 291.20,409.02 291.37,409.04 291.54,409.06 291.71,409.09 291.88,409.11 292.05,409.13 292.22,409.16 292.39,409.18 292.56,409.20 292.73,409.22 292.90,409.24 293.07,409.27 293.24,409.29 293.41,409.31 293.58,409.33 293.75,409.36 293.92,409.38 294.09,409.40 294.26,409.42 294.43,409.44 294.60,409.47 294.77,409.49 294.94,409.51 295.11,409.53 295.28,409.55 295.45,409.57 M298.34,409.93 298.51,409.95 298.68,409.97 298.85,410.00 299.02,410.02 299.19,410.04 299.36,410.06 299.53,410.08 299.70,410.10 299.87,410.12 300.04,410.14 300.21,410.16 300.38,410.18 300.55,410.20 300.72,410.22 300.89,410.24 301.06,410.26 301.23,410.28 301.40,410.30 301.57,410.32 301.74,410.34 301.91,410.36 302.08,410.38 302.25,410.40 302.42,410.42 302.59,410.44 302.76,410.46 302.93,410.47 303.10,410.49 303.27,410.51 303.44,410.53 303.61,410.55 M306.50,410.87 306.67,410.89 306.84,410.91 307.01,410.93 307.18,410.94 307.35,410.96 307.52,410.98 307.69,411.00 307.86,411.02 308.03,411.03 308.20,411.05 308.37,411.07 308.54,411.09 308.71,411.11 308.88,411.12 309.05,411.14 309.22,411.16 309.39,411.18 309.56,411.19 309.73,411.21 309.90,411.23 310.07,411.25 310.24,411.26 310.41,411.28 310.59,411.30 310.76,411.32 310.93,411.33 311.10,411.35 311.27,411.37 311.44,411.39 311.61,411.40 311.78,411.42 M314.84,411.72 315.01,411.73 315.18,411.75 315.35,411.77 315.52,411.78 315.69,411.80 315.86,411.81 316.03,411.83 316.20,411.85 316.37,411.86 316.54,411.88 316.71,411.89 316.88,411.91 317.05,411.93 317.22,411.94 317.39,411.96 317.56,411.97 317.73,411.99 317.90,412.00 318.07,412.02 318.24,412.03 318.41,412.05 318.58,412.06 318.75,412.08 318.92,412.09 319.09,412.11 319.26,412.13 319.43,412.14 319.60,412.16 319.77,412.17 319.94,412.19 M323.00,412.45 323.17,412.46 323.34,412.48 323.51,412.49 323.68,412.50 323.85,412.52 324.02,412.53 324.19,412.55 324.36,412.56 324.53,412.57 324.70,412.59 324.87,412.60 325.04,412.62 325.21,412.63 325.38,412.64 325.55,412.66 325.72,412.67 325.89,412.68 326.06,412.70 326.23,412.71 326.40,412.72 326.57,412.74 326.74,412.75 326.91,412.76 327.08,412.78 327.25,412.79 327.42,412.80 327.59,412.82 327.76,412.83 327.93,412.84 328.10,412.86 M331.16,413.09 331.33,413.10 331.50,413.11 331.67,413.12 331.84,413.13 332.01,413.15 332.18,413.16 332.35,413.17 332.52,413.18 332.69,413.20 332.86,413.21 333.03,413.22 333.20,413.23 333.37,413.24 333.54,413.26 333.71,413.27 333.88,413.28 334.05,413.29 334.22,413.30 334.39,413.31 334.56,413.33 334.73,413.34 334.90,413.35 335.07,413.36 335.24,413.37 335.41,413.38 335.58,413.39 335.75,413.41 335.92,413.42 336.09,413.43 336.26,413.44 336.43,413.45 M339.32,413.64 339.49,413.65 339.66,413.66 339.83,413.67 340.00,413.68 340.17,413.69 340.34,413.70 340.52,413.71 340.69,413.72 340.86,413.73 341.03,413.74 341.20,413.76 341.37,413.77 341.54,413.78 341.71,413.79 341.88,413.80 342.05,413.81 342.22,413.82 342.39,413.83 342.56,413.84 342.73,413.85 342.90,413.86 343.07,413.87 343.24,413.88 343.41,413.89 343.58,413.90 343.75,413.91 343.92,413.92 344.09,413.93 344.26,413.94 344.43,413.95 344.60,413.96 M347.49,414.12 347.66,414.13 347.83,414.14 348.00,414.15 348.17,414.16 348.34,414.17 348.51,414.18 348.68,414.19 348.85,414.20 349.02,414.21 349.19,414.22 349.36,414.23 349.53,414.24 349.70,414.25 349.87,414.26 350.04,414.27 350.21,414.27 350.38,414.28 350.55,414.29 350.72,414.30 350.89,414.31 351.06,414.32 351.23,414.33 351.40,414.34 351.57,414.35 351.74,414.36 351.91,414.37 352.08,414.37 352.25,414.38 352.42,414.39 352.59,414.40 352.76,414.41 M355.82,414.57 355.99,414.58 356.16,414.59 356.33,414.59 356.50,414.60 356.67,414.61 356.84,414.62 357.01,414.63 357.18,414.64 357.35,414.65 357.52,414.65 357.69,414.66 357.86,414.67 358.03,414.68 358.20,414.69 358.37,414.70 358.54,414.71 358.71,414.71 358.88,414.72 359.05,414.73 359.22,414.74 359.39,414.75 359.56,414.76 359.73,414.76 359.90,414.77 360.07,414.78 360.24,414.79 360.41,414.80 360.58,414.81 360.75,414.81 360.92,414.82 M363.98,414.97 364.15,414.98 364.32,414.98 364.49,414.99 364.66,415.00 364.83,415.01 365.00,415.02 365.17,415.02 365.34,415.03 365.51,415.04 365.68,415.05 365.85,415.05 366.02,415.06 366.19,415.07 366.36,415.08 366.53,415.09 366.70,415.09 366.87,415.10 367.04,415.11 367.21,415.12 367.38,415.13 367.55,415.13 367.72,415.14 367.89,415.15 368.06,415.16 368.23,415.16 368.40,415.17 368.57,415.18 368.74,415.19 368.91,415.20 369.08,415.20 M372.15,415.34 372.32,415.35 372.49,415.36 372.66,415.36 372.83,415.37 373.00,415.38 373.17,415.39 373.34,415.39 373.51,415.40 373.68,415.41 373.85,415.42 374.02,415.42 374.19,415.43 374.36,415.44 374.53,415.45 374.70,415.45 374.87,415.46 375.04,415.47 375.21,415.48 375.38,415.48 375.55,415.49 375.72,415.50 375.89,415.51 376.06,415.51 376.23,415.52 376.40,415.53 376.57,415.54 376.74,415.54 376.91,415.55 377.08,415.56 377.25,415.57 377.42,415.57 M380.31,415.70 380.48,415.70 380.65,415.71 380.82,415.72 380.99,415.73 381.16,415.73 381.33,415.74 381.50,415.75 381.67,415.76 381.84,415.76 382.01,415.77 382.18,415.78 382.35,415.79 382.52,415.79 382.69,415.80 382.86,415.81 383.03,415.81 383.20,415.82 383.37,415.83 383.54,415.84 383.71,415.84 383.88,415.85 384.05,415.86 384.22,415.86 384.39,415.87 384.56,415.88 384.73,415.89 384.90,415.89 385.07,415.90 385.24,415.91 385.41,415.92 385.58,415.92 M388.47,416.05 388.64,416.05 388.81,416.06 388.98,416.07 389.15,416.07 389.32,416.08 389.49,416.09 389.66,416.10 389.83,416.10 390.00,416.11 390.17,416.12 390.34,416.12 390.51,416.13 390.68,416.14 390.85,416.15 391.02,416.15 391.19,416.16 391.36,416.17 391.53,416.17 391.70,416.18 391.87,416.19 392.04,416.20 392.21,416.20 392.38,416.21 392.55,416.22 392.72,416.22 392.89,416.23 393.06,416.24 393.23,416.25 393.40,416.25 393.57,416.26 393.74,416.27 M396.80,416.40 396.97,416.40 397.14,416.41 397.31,416.42 397.48,416.42 397.65,416.43 397.82,416.44 397.99,416.45 398.16,416.45 398.33,416.46 398.50,416.47 398.67,416.47 398.84,416.48 399.01,416.49 399.18,416.50 399.35,416.50 399.52,416.51 399.69,416.52 399.86,416.52 400.03,416.53 400.20,416.54 400.37,416.55 400.55,416.55 400.72,416.56 400.89,416.57 401.06,416.58 401.23,416.58 401.40,416.59 401.57,416.60 401.74,416.60 401.91,416.61 M404.97,416.74 405.14,416.75 405.31,416.75 405.48,416.76 405.65,416.77 405.82,416.77 405.99,416.78 406.16,416.79 406.33,416.80 406.50,416.80 406.67,416.81 406.84,416.82 407.01,416.82 407.18,416.83 407.35,416.84 407.52,416.84 407.69,416.85 407.86,416.86 408.03,416.87 408.20,416.87 408.37,416.88 408.54,416.89 408.71,416.89 408.88,416.90 409.05,416.91 409.22,416.91 409.39,416.92 409.56,416.93 409.73,416.94 409.90,416.94 410.07,416.95 410.24,416.96 M413.13,417.07 413.30,417.08 413.47,417.09 413.64,417.09 413.81,417.10 413.98,417.11 414.15,417.11 414.32,417.12 414.49,417.13 414.66,417.14 414.83,417.14 415.00,417.15 415.17,417.16 415.34,417.16 415.51,417.17 415.68,417.18 415.85,417.18 416.02,417.19 416.19,417.20 416.36,417.20 416.53,417.21 416.70,417.22 416.87,417.22 417.04,417.23 417.21,417.24 417.38,417.24 417.55,417.25 417.72,417.26 417.89,417.26 418.06,417.27 418.23,417.28 418.40,417.28 M421.29,417.40 421.46,417.40 421.63,417.41 421.80,417.42 421.97,417.42 422.14,417.43 422.31,417.44 422.48,417.44 422.65,417.45 422.82,417.46 422.99,417.46 423.16,417.47 423.33,417.48 423.50,417.48 423.67,417.49 423.84,417.50 424.01,417.50 424.18,417.51 424.35,417.51 424.52,417.52 424.69,417.53 424.86,417.53 425.03,417.54 425.20,417.55 425.37,417.55 425.54,417.56 425.71,417.57 425.88,417.57 426.05,417.58 426.22,417.59 426.39,417.59 426.56,417.60 M429.45,417.71 429.62,417.71 429.79,417.72 429.96,417.72 430.13,417.73 430.30,417.74 430.47,417.74 430.65,417.75 430.82,417.76 430.99,417.76 431.16,417.77 431.33,417.77 431.50,417.78 431.67,417.79 431.84,417.79 432.01,417.80 432.18,417.81 432.35,417.81 432.52,417.82 432.69,417.82 432.86,417.83 433.03,417.84 433.20,417.84 433.37,417.85 433.54,417.85 433.71,417.86 433.88,417.87 434.05,417.87 434.22,417.88 434.39,417.88 434.56,417.89 434.73,417.90 M437.79,418.00 437.96,418.01 438.13,418.02 438.30,418.02 438.47,418.03 438.64,418.03 438.81,418.04 438.98,418.04 439.15,418.05 439.32,418.06 439.49,418.06 439.66,418.07 439.83,418.07 440.00,418.08 440.17,418.08 440.34,418.09 440.51,418.10 440.68,418.10 440.85,418.11 441.02,418.11 441.19,418.12 441.36,418.12 441.53,418.13 441.70,418.14 441.87,418.14 442.04,418.15 442.21,418.15 442.38,418.16 442.55,418.16 442.72,418.17 442.89,418.18 M445.95,418.28 446.12,418.28 446.29,418.29 446.46,418.29 446.63,418.30 446.80,418.30 446.97,418.31 447.14,418.31 447.31,418.32 447.48,418.32 447.65,418.33 447.82,418.34 447.99,418.34 448.16,418.35 448.33,418.35 448.50,418.36 448.67,418.36 448.84,418.37 449.01,418.37 449.18,418.38 449.35,418.38 449.52,418.39 449.69,418.39 449.86,418.40 450.03,418.40 450.20,418.41 450.37,418.42 450.54,418.42 450.71,418.43 450.88,418.43 451.05,418.44 451.22,418.44 M454.11,418.53 454.28,418.53 454.45,418.54 454.62,418.54 454.79,418.55 454.96,418.55 455.13,418.56 455.30,418.56 455.47,418.57 455.64,418.57 455.81,418.58 455.98,418.58 456.15,418.59 456.32,418.59 456.49,418.60 456.66,418.60 456.83,418.61 457.00,418.61 457.17,418.62 457.34,418.62 457.51,418.63 457.68,418.63 457.85,418.64 458.02,418.64 458.19,418.65 458.36,418.65 458.53,418.66 458.70,418.66 458.87,418.67 459.04,418.67 459.21,418.68 459.38,418.68 M462.28,418.76 462.45,418.77 462.62,418.77 462.79,418.78 462.96,418.78 463.13,418.79 463.30,418.79 463.47,418.80 463.64,418.80 463.81,418.80 463.98,418.81 464.15,418.81 464.32,418.82 464.49,418.82 464.66,418.83 464.83,418.83 465.00,418.84 465.17,418.84 465.34,418.85 465.51,418.85 465.68,418.85 465.85,418.86 466.02,418.86 466.19,418.87 466.36,418.87 466.53,418.88 466.70,418.88 466.87,418.89 467.04,418.89 467.21,418.89 467.38,418.90 467.55,418.90 M470.44,418.98 470.61,418.98 470.78,418.99 470.95,418.99 471.12,418.99 471.29,419.00 471.46,419.00 471.63,419.01 471.80,419.01 471.97,419.01 472.14,419.02 472.31,419.02 472.48,419.03 472.65,419.03 472.82,419.04 472.99,419.04 473.16,419.04 473.33,419.05 473.50,419.05 473.67,419.06 473.84,419.06 474.01,419.06 474.18,419.07 474.35,419.07 474.52,419.08 474.69,419.08 474.86,419.08 475.03,419.09 475.20,419.09 475.37,419.10 475.54,419.10 475.71,419.10 M478.77,419.18 478.94,419.18 479.11,419.18 479.28,419.19 479.45,419.19 479.62,419.19 479.79,419.20 479.96,419.20 480.13,419.21 480.30,419.21 480.47,419.21 480.64,419.22 480.81,419.22 480.98,419.23 481.15,419.23 481.32,419.23 481.49,419.24 481.66,419.24 481.83,419.24 482.00,419.25 482.17,419.25 482.34,419.26 482.51,419.26 482.68,419.26 482.85,419.27 483.02,419.27 483.19,419.27 483.36,419.28 483.53,419.28 483.70,419.28 483.87,419.29 M486.93,419.35 487.10,419.36 487.27,419.36 487.44,419.36 487.61,419.37 487.78,419.37 487.95,419.37 488.12,419.38 488.29,419.38 488.46,419.38 488.63,419.39 488.80,419.39 488.97,419.39 489.14,419.40 489.31,419.40 489.48,419.40 489.65,419.41 489.82,419.41 489.99,419.41 490.16,419.42 490.33,419.42 490.51,419.42 490.68,419.43 490.85,419.43 491.02,419.43 491.19,419.44 491.36,419.44 491.53,419.44 491.70,419.45 491.87,419.45 492.04,419.45 492.21,419.46 M495.10,419.51 495.27,419.51 495.44,419.52 495.61,419.52 495.78,419.52 495.95,419.53 496.12,419.53 496.29,419.53 496.46,419.54 496.63,419.54 496.80,419.54 496.97,419.55 497.14,419.55 497.31,419.55 497.48,419.55 497.65,419.56 497.82,419.56 497.99,419.56 498.16,419.57 498.33,419.57 498.50,419.57 498.67,419.58 498.84,419.58 499.01,419.58 499.18,419.58 499.35,419.59 499.52,419.59 499.69,419.59 499.86,419.60 500.03,419.60 500.20,419.60 500.37,419.60 M503.26,419.65 503.43,419.66 503.60,419.66 503.77,419.66 503.94,419.66 504.11,419.67 504.28,419.67 504.45,419.67 504.62,419.68 504.79,419.68 504.96,419.68 505.13,419.68 505.30,419.69 505.47,419.69 505.64,419.69 505.81,419.69 505.98,419.70 506.15,419.70 506.32,419.70 506.49,419.71 506.66,419.71 506.83,419.71 507.00,419.71 507.17,419.72 507.34,419.72 507.51,419.72 507.68,419.72 507.85,419.73 508.02,419.73 508.19,419.73 508.36,419.73 508.53,419.74 M511.59,419.78 511.76,419.79 511.93,419.79 512.10,419.79 512.27,419.79 512.44,419.80 512.61,419.80 512.78,419.80 512.95,419.80 513.12,419.81 513.29,419.81 513.46,419.81 513.63,419.81 513.80,419.82 513.97,419.82 514.14,419.82 514.31,419.82 514.48,419.82 514.65,419.83 514.82,419.83 514.99,419.83 515.16,419.83 515.33,419.84 515.50,419.84 515.67,419.84 515.84,419.84 516.01,419.85 516.18,419.85 516.35,419.85 516.52,419.85 516.69,419.86 M519.75,419.90 519.92,419.90 520.09,419.90 520.26,419.90 520.43,419.91 520.61,419.91 520.78,419.91 520.95,419.91 521.12,419.92 521.29,419.92 521.46,419.92 521.63,419.92 521.80,419.92 521.97,419.93 522.14,419.93 522.31,419.93 522.48,419.93 522.65,419.94 522.82,419.94 522.99,419.94 523.16,419.94 523.33,419.94 523.50,419.95 523.67,419.95 523.84,419.95 524.01,419.95 524.18,419.95 524.35,419.96 524.52,419.96 524.69,419.96 524.86,419.96 525.03,419.97 M527.92,420.00 528.09,420.00 528.26,420.01 528.43,420.01 528.60,420.01 528.77,420.01 528.94,420.01 529.11,420.02 529.28,420.02 529.45,420.02 529.62,420.02 529.79,420.02 529.96,420.03 530.13,420.03 530.30,420.03 530.47,420.03 530.64,420.03 530.81,420.04 530.98,420.04 531.15,420.04 531.32,420.04 531.49,420.04 531.66,420.05 531.83,420.05 532.00,420.05 532.17,420.05 532.34,420.05 532.51,420.06 532.68,420.06 532.85,420.06 533.02,420.06 533.19,420.06 M536.08,420.10 536.25,420.10 536.42,420.10 536.59,420.10 536.76,420.10 536.93,420.11 537.10,420.11 537.27,420.11 537.44,420.11 537.61,420.11 537.78,420.11 537.95,420.12 538.12,420.12 538.29,420.12 538.46,420.12 538.63,420.12 538.80,420.13 538.97,420.13 539.14,420.13 539.31,420.13 539.48,420.13 539.65,420.13 539.82,420.14 539.99,420.14 540.16,420.14 540.33,420.14 540.50,420.14 540.67,420.15 540.84,420.15 541.01,420.15 541.18,420.15 541.35,420.15 M544.24,420.18 544.41,420.18 544.58,420.19 544.75,420.19 544.92,420.19 545.09,420.19 545.26,420.19 545.43,420.19 545.60,420.20 545.77,420.20 545.94,420.20 546.11,420.20 546.28,420.20 546.45,420.20 546.62,420.21 546.79,420.21 546.96,420.21 547.13,420.21 547.30,420.21 547.47,420.22 547.64,420.22 547.81,420.22 547.98,420.22 548.15,420.22 548.32,420.22 548.49,420.23 548.66,420.23 548.83,420.23 549.00,420.23 549.17,420.23 549.34,420.23 549.51,420.24 M552.58,420.26 552.75,420.27 552.92,420.27 553.09,420.27 553.26,420.27 553.43,420.27 553.60,420.27 553.77,420.28 553.94,420.28 554.11,420.28 554.28,420.28 554.45,420.28 554.62,420.28 554.79,420.28 554.96,420.29 555.13,420.29 555.30,420.29 555.47,420.29 555.64,420.29 555.81,420.29 555.98,420.30 556.15,420.30 556.32,420.30 556.49,420.30 556.66,420.30 556.83,420.30 557.00,420.30 557.17,420.31 557.34,420.31 557.51,420.31 557.68,420.31 M560.74,420.34 560.91,420.34 561.08,420.34 561.25,420.34 561.42,420.34 561.59,420.34 561.76,420.35 561.93,420.35 562.10,420.35 562.27,420.35 562.44,420.35 562.61,420.35 562.78,420.35 562.95,420.36 563.12,420.36 563.29,420.36 563.46,420.36 563.63,420.36 563.80,420.36 563.97,420.37 564.14,420.37 564.31,420.37 564.48,420.37 564.65,420.37 564.82,420.37 564.99,420.37 565.16,420.37 565.33,420.38 565.50,420.38" class="b"/><path d="M56.01,90.34 56.18,91.60 56.35,92.84 56.52,94.06 56.69,95.26 56.86,96.44 57.03,97.59 57.20,98.72 57.37,99.81 57.54,100.88 M58.56,106.97 58.73,107.94 58.90,108.89 59.07,109.83 59.24,110.77 59.41,111.69 59.58,112.60 59.75,113.50 59.92,114.40 60.09,115.29 60.26,116.17 60.43,117.05 M61.62,123.07 61.79,123.92 61.96,124.77 62.13,125.63 62.30,126.48 62.47,127.33 62.64,128.19 62.81,129.05 62.98,129.91 63.15,130.77 63.32,131.63 63.49,132.49 M64.85,139.25 65.02,140.08 65.19,140.91 65.36,141.74 65.53,142.57 65.70,143.39 65.87,144.21 66.04,145.03 66.21,145.84 66.38,146.65 66.55,147.46 66.72,148.27 M68.08,154.64 68.25,155.43 68.42,156.21 68.59,156.99 68.76,157.77 68.93,158.55 69.10,159.32 69.27,160.09 69.44,160.86 69.61,161.63 69.78,162.40 69.95,163.16 70.12,163.92 M71.49,169.94 71.66,170.68 71.83,171.42 72.00,172.16 72.17,172.90 72.34,173.64 72.51,174.38 72.68,175.11 72.85,175.85 73.02,176.58 73.19,177.31 73.36,178.04 73.53,178.77 73.70,179.49 M75.23,185.92 75.40,186.62 75.57,187.32 75.74,188.02 75.91,188.71 76.08,189.40 76.25,190.09 76.42,190.77 76.59,191.46 76.76,192.13 76.93,192.81 77.10,193.48 77.27,194.15 77.44,194.81 M78.97,200.62 79.14,201.25 79.31,201.87 79.48,202.50 79.65,203.11 79.82,203.73 79.99,204.34 80.16,204.95 80.33,205.56 80.50,206.16 80.67,206.76 80.84,207.36 81.01,207.96 81.18,208.55 81.35,209.14 81.52,209.73 M83.22,215.48 83.39,216.04 83.56,216.60 83.73,217.16 83.90,217.72 84.07,218.27 84.24,218.83 84.41,219.38 84.58,219.93 84.75,220.47 84.92,221.02 85.09,221.56 85.26,222.10 85.43,222.64 85.60,223.18 85.77,223.72 85.94,224.25 M87.81,230.03 87.98,230.55 88.15,231.06 88.32,231.57 88.49,232.08 88.66,232.59 88.83,233.09 89.00,233.59 89.17,234.09 89.34,234.58 89.51,235.07 89.68,235.56 89.85,236.05 90.02,236.54 90.19,237.02 90.36,237.50 90.53,237.98 90.70,238.46 M92.57,243.62 92.74,244.08 92.91,244.55 93.08,245.00 93.25,245.46 93.42,245.92 93.59,246.38 93.76,246.83 93.93,247.29 94.10,247.74 94.27,248.20 94.44,248.65 94.61,249.11 94.78,249.56 94.95,250.01 95.12,250.46 95.29,250.92 95.46,251.37 95.63,251.82 95.80,252.27 M97.67,257.25 97.84,257.70 98.01,258.16 98.18,258.61 98.35,259.07 98.52,259.53 98.69,259.98 98.86,260.44 99.03,260.90 99.20,261.36 99.37,261.82 99.54,262.29 99.71,262.75 99.88,263.21 100.05,263.68 100.22,264.14 100.39,264.61 100.57,265.08 100.74,265.54 M102.61,270.67 102.78,271.14 102.95,271.60 103.12,272.07 103.29,272.53 103.46,272.99 103.63,273.45 103.80,273.91 103.97,274.37 104.14,274.83 104.31,275.29 104.48,275.74 104.65,276.20 104.82,276.65 104.99,277.10 105.16,277.55 105.33,278.00 105.50,278.45 105.67,278.89 105.84,279.34 M107.71,284.09 107.88,284.51 108.05,284.93 108.22,285.35 108.39,285.76 108.56,286.17 108.73,286.58 108.90,286.98 109.07,287.39 109.24,287.79 109.41,288.18 109.58,288.58 109.75,288.97 109.92,289.36 110.09,289.75 110.26,290.13 110.43,290.51 110.60,290.89 110.77,291.27 110.94,291.65 111.11,292.03 111.28,292.40 M113.32,296.78 113.49,297.13 113.66,297.49 113.83,297.84 114.00,298.19 114.17,298.54 114.34,298.89 114.51,299.23 114.68,299.58 114.85,299.93 115.02,300.27 115.19,300.61 115.36,300.95 115.53,301.29 115.70,301.63 115.87,301.97 116.04,302.30 116.21,302.64 116.38,302.97 116.55,303.30 116.72,303.63 116.89,303.96 117.06,304.29 M119.27,308.45 119.44,308.76 119.61,309.07 119.78,309.38 119.95,309.69 120.12,309.99 120.29,310.30 120.46,310.61 120.63,310.91 120.80,311.21 120.97,311.52 121.14,311.82 121.31,312.12 121.48,312.42 121.65,312.71 121.82,313.01 121.99,313.31 122.16,313.60 122.33,313.90 122.50,314.19 122.67,314.48 122.84,314.77 123.01,315.06 123.18,315.35 123.35,315.64 M125.73,319.57 125.90,319.84 126.07,320.12 126.24,320.39 126.41,320.66 126.58,320.93 126.75,321.20 126.92,321.47 127.09,321.73 127.26,322.00 127.43,322.26 127.60,322.52 127.77,322.79 127.94,323.05 128.11,323.30 128.28,323.56 128.45,323.82 128.62,324.08 128.79,324.33 128.96,324.59 129.13,324.84 129.30,325.09 129.47,325.34 129.64,325.59 129.81,325.84 M132.37,329.47 132.54,329.71 132.71,329.94 132.88,330.17 133.05,330.41 133.22,330.64 133.39,330.87 133.56,331.10 133.73,331.33 133.90,331.56 134.07,331.79 134.24,332.02 134.41,332.24 134.58,332.47 134.75,332.70 134.92,332.92 135.09,333.14 135.26,333.37 135.43,333.59 135.60,333.81 135.77,334.04 135.94,334.26 136.11,334.48 136.28,334.70 136.45,334.92 136.62,335.14 136.79,335.36 M139.34,338.57 139.51,338.78 139.68,338.99 139.85,339.20 140.02,339.41 140.19,339.62 140.36,339.82 140.53,340.03 140.70,340.24 140.87,340.45 141.04,340.65 141.21,340.86 141.38,341.07 141.55,341.27 141.72,341.48 141.89,341.68 142.06,341.89 142.23,342.09 142.40,342.29 142.57,342.50 142.74,342.70 142.91,342.90 143.08,343.10 143.25,343.31 143.42,343.51 143.59,343.71 143.76,343.91 M146.48,347.10 146.65,347.29 146.82,347.49 146.99,347.69 147.16,347.88 147.33,348.08 147.50,348.28 147.67,348.47 147.84,348.67 148.01,348.86 148.18,349.06 148.35,349.26 148.52,349.45 148.69,349.65 148.86,349.84 149.03,350.04 149.20,350.23 149.37,350.43 149.54,350.62 149.71,350.82 149.88,351.01 150.05,351.21 150.22,351.40 150.39,351.60 150.56,351.79 150.73,351.99 150.90,352.19 151.07,352.38 M153.62,355.31 153.79,355.51 153.96,355.70 154.13,355.90 154.30,356.09 154.47,356.28 154.64,356.47 154.81,356.67 154.98,356.86 155.15,357.05 155.32,357.24 155.49,357.43 155.66,357.63 155.83,357.82 156.00,358.01 156.17,358.20 156.34,358.39 156.51,358.58 156.68,358.76 156.85,358.95 157.02,359.14 157.19,359.33 157.36,359.51 157.53,359.70 157.70,359.89 157.87,360.07 158.04,360.26 158.21,360.44 M160.94,363.31 161.11,363.49 161.28,363.66 161.45,363.84 161.62,364.01 161.79,364.18 161.96,364.35 162.13,364.52 162.30,364.69 162.47,364.86 162.64,365.03 162.81,365.19 162.98,365.36 163.15,365.53 163.32,365.69 163.49,365.86 163.66,366.02 163.83,366.18 164.00,366.34 164.17,366.51 164.34,366.67 164.51,366.83 164.68,366.98 164.85,367.14 165.02,367.30 165.19,367.46 165.36,367.61 165.53,367.77 165.70,367.92 M168.42,370.27 168.59,370.41 168.76,370.54 168.93,370.68 169.10,370.82 169.27,370.95 169.44,371.09 169.61,371.22 169.78,371.35 169.95,371.49 170.12,371.62 170.29,371.75 170.46,371.88 170.63,372.00 170.80,372.13 170.97,372.26 171.14,372.38 171.31,372.51 171.48,372.63 171.65,372.75 171.82,372.87 171.99,372.99 172.16,373.11 172.33,373.23 172.50,373.35 172.67,373.47 172.84,373.58 173.01,373.70 173.18,373.82 173.35,373.93 M176.24,375.81 176.41,375.92 176.58,376.03 176.75,376.13 176.92,376.24 177.09,376.34 177.26,376.44 177.43,376.55 177.60,376.65 177.77,376.75 177.94,376.86 178.11,376.96 178.28,377.06 178.45,377.16 178.62,377.26 178.79,377.36 178.96,377.46 179.13,377.56 179.30,377.66 179.47,377.76 179.64,377.85 179.81,377.95 179.98,378.05 180.15,378.14 180.32,378.24 180.49,378.34 180.66,378.43 180.83,378.53 181.00,378.62 181.17,378.72 M184.06,380.27 184.23,380.35 184.40,380.44 184.57,380.53 184.74,380.62 184.91,380.70 185.08,380.79 185.25,380.87 185.42,380.96 185.59,381.05 185.76,381.13 185.93,381.22 186.10,381.30 186.27,381.39 186.44,381.47 186.61,381.55 186.78,381.64 186.95,381.72 187.12,381.80 187.29,381.89 187.46,381.97 187.63,382.05 187.80,382.13 187.97,382.21 188.14,382.30 188.31,382.38 188.48,382.46 188.65,382.54 188.82,382.62 188.99,382.70 189.16,382.78 M192.06,384.10 192.23,384.17 192.40,384.25 192.57,384.32 192.74,384.40 192.91,384.47 193.08,384.55 193.25,384.62 193.42,384.70 193.59,384.77 193.76,384.85 193.93,384.92 194.10,384.99 194.27,385.07 194.44,385.14 194.61,385.21 194.78,385.28 194.95,385.36 195.12,385.43 195.29,385.50 195.46,385.57 195.63,385.65 195.80,385.72 195.97,385.79 196.14,385.86 196.31,385.93 196.48,386.00 196.65,386.07 196.82,386.14 196.99,386.22 197.16,386.29 M200.05,387.46 200.22,387.53 200.39,387.60 200.56,387.66 200.73,387.73 200.90,387.80 201.07,387.87 201.24,387.93 201.41,388.00 201.58,388.07 201.75,388.13 201.92,388.20 202.09,388.27 202.26,388.33 202.43,388.40 202.60,388.47 202.77,388.53 202.94,388.60 203.11,388.66 203.28,388.73 203.45,388.80 203.62,388.86 203.79,388.93 203.96,388.99 204.13,389.06 204.30,389.12 204.47,389.19 204.64,389.25 204.81,389.32 204.98,389.38 205.15,389.45 205.32,389.51 M208.21,390.60 208.38,390.67 208.55,390.73 208.72,390.79 208.89,390.85 209.06,390.92 209.23,390.98 209.40,391.04 209.57,391.11 209.74,391.17 209.91,391.23 210.08,391.30 210.25,391.36 210.42,391.42 210.59,391.48 210.76,391.55 210.93,391.61 211.10,391.67 211.27,391.73 211.44,391.80 211.61,391.86 211.78,391.92 211.95,391.98 212.12,392.04 212.29,392.11 212.46,392.17 212.63,392.23 212.80,392.29 212.97,392.35 213.14,392.42 213.31,392.48 M216.20,393.50 216.37,393.56 216.54,393.62 216.71,393.68 216.88,393.74 217.05,393.80 217.22,393.86 217.39,393.92 217.56,393.97 217.73,394.03 217.90,394.09 218.07,394.15 218.24,394.21 218.41,394.27 218.58,394.32 218.75,394.38 218.92,394.44 219.09,394.50 219.26,394.55 219.43,394.61 219.60,394.67 219.77,394.73 219.94,394.78 220.11,394.84 220.28,394.90 220.45,394.95 220.63,395.01 220.80,395.07 220.97,395.12 221.14,395.18 221.31,395.23 221.48,395.29 M224.37,396.22 224.54,396.28 224.71,396.33 224.88,396.39 225.05,396.44 225.22,396.49 225.39,396.55 225.56,396.60 225.73,396.65 225.90,396.71 226.07,396.76 226.24,396.81 226.41,396.86 226.58,396.92 226.75,396.97 226.92,397.02 227.09,397.07 227.26,397.13 227.43,397.18 227.60,397.23 227.77,397.28 227.94,397.33 228.11,397.39 228.28,397.44 228.45,397.49 228.62,397.54 228.79,397.59 228.96,397.64 229.13,397.69 229.30,397.74 229.47,397.79 M232.53,398.69 232.70,398.74 232.87,398.79 233.04,398.83 233.21,398.88 233.38,398.93 233.55,398.98 233.72,399.03 233.89,399.07 234.06,399.12 234.23,399.17 234.40,399.22 234.57,399.26 234.74,399.31 234.91,399.36 235.08,399.41 235.25,399.45 235.42,399.50 235.59,399.55 235.76,399.59 235.93,399.64 236.10,399.69 236.27,399.73 236.44,399.78 236.61,399.83 236.78,399.87 236.95,399.92 237.12,399.96 237.29,400.01 237.46,400.05 237.63,400.10 M240.69,400.90 240.86,400.94 241.03,400.99 241.20,401.03 241.37,401.07 241.54,401.12 241.71,401.16 241.88,401.20 242.05,401.25 242.22,401.29 242.39,401.33 242.56,401.37 242.73,401.42 242.90,401.46 243.07,401.50 243.24,401.54 243.41,401.58 243.58,401.63 243.75,401.67 243.92,401.71 244.09,401.75 244.26,401.79 244.43,401.83 244.60,401.87 244.77,401.92 244.94,401.96 245.11,402.00 245.28,402.04 245.45,402.08 245.62,402.12 245.79,402.16 M248.68,402.83 248.85,402.87 249.02,402.91 249.19,402.95 249.36,402.99 249.53,403.03 249.70,403.06 249.87,403.10 250.04,403.14 250.21,403.18 250.38,403.22 250.56,403.25 250.73,403.29 250.90,403.33 251.07,403.37 251.24,403.40 251.41,403.44 251.58,403.48 251.75,403.51 251.92,403.55 252.09,403.59 252.26,403.62 252.43,403.66 252.60,403.70 252.77,403.73 252.94,403.77 253.11,403.81 253.28,403.84 253.45,403.88 253.62,403.92 253.79,403.95 253.96,403.99 M256.85,404.58 257.02,404.62 257.19,404.65 257.36,404.68 257.53,404.72 257.70,404.75 257.87,404.79 258.04,404.82 258.21,404.85 258.38,404.89 258.55,404.92 258.72,404.95 258.89,404.99 259.06,405.02 259.23,405.05 259.40,405.08 259.57,405.12 259.74,405.15 259.91,405.18 260.08,405.21 260.25,405.25 260.42,405.28 260.59,405.31 260.76,405.34 260.93,405.38 261.10,405.41 261.27,405.44 261.44,405.47 261.61,405.50 261.78,405.54 261.95,405.57 262.12,405.60 M265.01,406.13 265.18,406.16 265.35,406.19 265.52,406.22 265.69,406.26 265.86,406.29 266.03,406.32 266.20,406.35 266.37,406.38 266.54,406.41 266.71,406.44 266.88,406.47 267.05,406.50 267.22,406.53 267.39,406.56 267.56,406.59 267.73,406.62 267.90,406.65 268.07,406.68 268.24,406.71 268.41,406.74 268.58,406.77 268.75,406.80 268.92,406.83 269.09,406.86 269.26,406.88 269.43,406.91 269.60,406.94 269.77,406.97 269.94,407.00 270.11,407.03 270.28,407.06 M273.17,407.54 273.34,407.57 273.51,407.60 273.68,407.63 273.85,407.66 274.02,407.68 274.19,407.71 274.36,407.74 274.53,407.77 274.70,407.79 274.87,407.82 275.04,407.85 275.21,407.88 275.38,407.90 275.55,407.93 275.72,407.96 275.89,407.99 276.06,408.01 276.23,408.04 276.40,408.07 276.57,408.09 276.74,408.12 276.91,408.15 277.08,408.17 277.25,408.20 277.42,408.23 277.59,408.25 277.76,408.28 277.93,408.31 278.10,408.33 278.27,408.36 278.44,408.39 M281.51,408.85 281.68,408.87 281.85,408.90 282.02,408.92 282.19,408.95 282.36,408.97 282.53,409.00 282.70,409.02 282.87,409.05 283.04,409.07 283.21,409.10 283.38,409.12 283.55,409.15 283.72,409.17 283.89,409.20 284.06,409.22 284.23,409.25 284.40,409.27 284.57,409.29 284.74,409.32 284.91,409.34 285.08,409.37 285.25,409.39 285.42,409.42 285.59,409.44 285.76,409.46 285.93,409.49 286.10,409.51 286.27,409.53 286.44,409.56 286.61,409.58 M289.67,410.00 289.84,410.02 290.01,410.04 290.18,410.06 290.35,410.09 290.52,410.11 290.69,410.13 290.86,410.15 291.03,410.18 291.20,410.20 291.37,410.22 291.54,410.24 291.71,410.26 291.88,410.29 292.05,410.31 292.22,410.33 292.39,410.35 292.56,410.37 292.73,410.40 292.90,410.42 293.07,410.44 293.24,410.46 293.41,410.48 293.58,410.50 293.75,410.52 293.92,410.55 294.09,410.57 294.26,410.59 294.43,410.61 294.60,410.63 294.77,410.65 M297.83,411.02 298.00,411.04 298.17,411.06 298.34,411.08 298.51,411.10 298.68,411.12 298.85,411.14 299.02,411.16 299.19,411.18 299.36,411.20 299.53,411.22 299.70,411.24 299.87,411.26 300.04,411.28 300.21,411.30 300.38,411.32 300.55,411.34 300.72,411.36 300.89,411.38 301.06,411.39 301.23,411.41 301.40,411.43 301.57,411.45 301.74,411.47 301.91,411.49 302.08,411.51 302.25,411.53 302.42,411.55 302.59,411.56 302.76,411.58 302.93,411.60 303.10,411.62 M305.99,411.93 306.16,411.95 306.33,411.96 306.50,411.98 306.67,412.00 306.84,412.02 307.01,412.04 307.18,412.05 307.35,412.07 307.52,412.09 307.69,412.10 307.86,412.12 308.03,412.14 308.20,412.16 308.37,412.17 308.54,412.19 308.71,412.21 308.88,412.22 309.05,412.24 309.22,412.26 309.39,412.28 309.56,412.29 309.73,412.31 309.90,412.33 310.07,412.34 310.24,412.36 310.41,412.38 310.59,412.39 310.76,412.41 310.93,412.42 311.10,412.44 311.27,412.46 M314.16,412.73 314.33,412.74 314.50,412.76 314.67,412.78 314.84,412.79 315.01,412.81 315.18,412.82 315.35,412.84 315.52,412.85 315.69,412.87 315.86,412.88 316.03,412.90 316.20,412.91 316.37,412.93 316.54,412.94 316.71,412.96 316.88,412.97 317.05,412.99 317.22,413.00 317.39,413.02 317.56,413.03 317.73,413.05 317.90,413.06 318.07,413.08 318.24,413.09 318.41,413.10 318.58,413.12 318.75,413.13 318.92,413.15 319.09,413.16 319.26,413.18 319.43,413.19 M322.32,413.43 322.49,413.44 322.66,413.45 322.83,413.47 323.00,413.48 323.17,413.49 323.34,413.51 323.51,413.52 323.68,413.53 323.85,413.55 324.02,413.56 324.19,413.57 324.36,413.59 324.53,413.60 324.70,413.61 324.87,413.63 325.04,413.64 325.21,413.65 325.38,413.67 325.55,413.68 325.72,413.69 325.89,413.70 326.06,413.72 326.23,413.73 326.40,413.74 326.57,413.75 326.74,413.77 326.91,413.78 327.08,413.79 327.25,413.80 327.42,413.82 327.59,413.83 M330.65,414.04 330.82,414.06 330.99,414.07 331.16,414.08 331.33,414.09 331.50,414.10 331.67,414.11 331.84,414.13 332.01,414.14 332.18,414.15 332.35,414.16 332.52,414.17 332.69,414.18 332.86,414.19 333.03,414.20 333.20,414.22 333.37,414.23 333.54,414.24 333.71,414.25 333.88,414.26 334.05,414.27 334.22,414.28 334.39,414.29 334.56,414.30 334.73,414.31 334.90,414.32 335.07,414.34 335.24,414.35 335.41,414.36 335.58,414.37 335.75,414.38 M338.81,414.56 338.98,414.57 339.15,414.58 339.32,414.59 339.49,414.60 339.66,414.61 339.83,414.62 340.00,414.63 340.17,414.64 340.34,414.65 340.52,414.66 340.69,414.67 340.86,414.68 341.03,414.69 341.20,414.70 341.37,414.71 341.54,414.72 341.71,414.73 341.88,414.74 342.05,414.75 342.22,414.76 342.39,414.77 342.56,414.78 342.73,414.79 342.90,414.80 343.07,414.80 343.24,414.81 343.41,414.82 343.58,414.83 343.75,414.84 343.92,414.85 M346.98,415.01 347.15,415.02 347.32,415.03 347.49,415.04 347.66,415.05 347.83,415.06 348.00,415.07 348.17,415.07 348.34,415.08 348.51,415.09 348.68,415.10 348.85,415.11 349.02,415.12 349.19,415.13 349.36,415.13 349.53,415.14 349.70,415.15 349.87,415.16 350.04,415.17 350.21,415.18 350.38,415.18 350.55,415.19 350.72,415.20 350.89,415.21 351.06,415.22 351.23,415.23 351.40,415.23 351.57,415.24 351.74,415.25 351.91,415.26 352.08,415.27 352.25,415.28 M355.14,415.41 355.31,415.42 355.48,415.43 355.65,415.43 355.82,415.44 355.99,415.45 356.16,415.46 356.33,415.47 356.50,415.47 356.67,415.48 356.84,415.49 357.01,415.50 357.18,415.50 357.35,415.51 357.52,415.52 357.69,415.53 357.86,415.54 358.03,415.54 358.20,415.55 358.37,415.56 358.54,415.57 358.71,415.57 358.88,415.58 359.05,415.59 359.22,415.60 359.39,415.60 359.56,415.61 359.73,415.62 359.90,415.63 360.07,415.63 360.24,415.64 360.41,415.65 M363.30,415.77 363.47,415.78 363.64,415.79 363.81,415.79 363.98,415.80 364.15,415.81 364.32,415.82 364.49,415.82 364.66,415.83 364.83,415.84 365.00,415.84 365.17,415.85 365.34,415.86 365.51,415.87 365.68,415.87 365.85,415.88 366.02,415.89 366.19,415.89 366.36,415.90 366.53,415.91 366.70,415.92 366.87,415.92 367.04,415.93 367.21,415.94 367.38,415.94 367.55,415.95 367.72,415.96 367.89,415.96 368.06,415.97 368.23,415.98 368.40,415.99 368.57,415.99 M371.64,416.12 371.81,416.12 371.98,416.13 372.15,416.14 372.32,416.14 372.49,416.15 372.66,416.16 372.83,416.16 373.00,416.17 373.17,416.18 373.34,416.18 373.51,416.19 373.68,416.20 373.85,416.20 374.02,416.21 374.19,416.22 374.36,416.22 374.53,416.23 374.70,416.24 374.87,416.24 375.04,416.25 375.21,416.26 375.38,416.26 375.55,416.27 375.72,416.28 375.89,416.28 376.06,416.29 376.23,416.30 376.40,416.30 376.57,416.31 376.74,416.32 M379.80,416.44 379.97,416.44 380.14,416.45 380.31,416.45 380.48,416.46 380.65,416.47 380.82,416.47 380.99,416.48 381.16,416.49 381.33,416.49 381.50,416.50 381.67,416.51 381.84,416.51 382.01,416.52 382.18,416.53 382.35,416.53 382.52,416.54 382.69,416.55 382.86,416.55 383.03,416.56 383.20,416.57 383.37,416.57 383.54,416.58 383.71,416.58 383.88,416.59 384.05,416.60 384.22,416.60 384.39,416.61 384.56,416.62 384.73,416.62 384.90,416.63 M387.96,416.75 388.13,416.75 388.30,416.76 388.47,416.77 388.64,416.77 388.81,416.78 388.98,416.78 389.15,416.79 389.32,416.80 389.49,416.80 389.66,416.81 389.83,416.82 390.00,416.82 390.17,416.83 390.34,416.84 390.51,416.84 390.68,416.85 390.85,416.86 391.02,416.86 391.19,416.87 391.36,416.87 391.53,416.88 391.70,416.89 391.87,416.89 392.04,416.90 392.21,416.91 392.38,416.91 392.55,416.92 392.72,416.93 392.89,416.93 393.06,416.94 393.23,416.94 M396.12,417.05 396.29,417.06 396.46,417.07 396.63,417.07 396.80,417.08 396.97,417.09 397.14,417.09 397.31,417.10 397.48,417.11 397.65,417.11 397.82,417.12 397.99,417.12 398.16,417.13 398.33,417.14 398.50,417.14 398.67,417.15 398.84,417.16 399.01,417.16 399.18,417.17 399.35,417.18 399.52,417.18 399.69,417.19 399.86,417.19 400.03,417.20 400.20,417.21 400.37,417.21 400.55,417.22 400.72,417.23 400.89,417.23 401.06,417.24 401.23,417.25 401.40,417.25 M404.29,417.36 404.46,417.37 404.63,417.37 404.80,417.38 404.97,417.39 405.14,417.39 405.31,417.40 405.48,417.41 405.65,417.41 405.82,417.42 405.99,417.42 406.16,417.43 406.33,417.44 406.50,417.44 406.67,417.45 406.84,417.46 407.01,417.46 407.18,417.47 407.35,417.48 407.52,417.48 407.69,417.49 407.86,417.49 408.03,417.50 408.20,417.51 408.37,417.51 408.54,417.52 408.71,417.53 408.88,417.53 409.05,417.54 409.22,417.54 409.39,417.55 409.56,417.56 M412.62,417.67 412.79,417.68 412.96,417.68 413.13,417.69 413.30,417.69 413.47,417.70 413.64,417.71 413.81,417.71 413.98,417.72 414.15,417.73 414.32,417.73 414.49,417.74 414.66,417.74 414.83,417.75 415.00,417.76 415.17,417.76 415.34,417.77 415.51,417.77 415.68,417.78 415.85,417.79 416.02,417.79 416.19,417.80 416.36,417.80 416.53,417.81 416.70,417.82 416.87,417.82 417.04,417.83 417.21,417.84 417.38,417.84 417.55,417.85 417.72,417.85 M420.78,417.96 420.95,417.97 421.12,417.97 421.29,417.98 421.46,417.99 421.63,417.99 421.80,418.00 421.97,418.00 422.14,418.01 422.31,418.01 422.48,418.02 422.65,418.03 422.82,418.03 422.99,418.04 423.16,418.04 423.33,418.05 423.50,418.06 423.67,418.06 423.84,418.07 424.01,418.07 424.18,418.08 424.35,418.08 424.52,418.09 424.69,418.10 424.86,418.10 425.03,418.11 425.20,418.11 425.37,418.12 425.54,418.13 425.71,418.13 425.88,418.14 426.05,418.14 M428.94,418.24 429.11,418.25 429.28,418.25 429.45,418.26 429.62,418.26 429.79,418.27 429.96,418.27 430.13,418.28 430.30,418.28 430.47,418.29 430.65,418.30 430.82,418.30 430.99,418.31 431.16,418.31 431.33,418.32 431.50,418.32 431.67,418.33 431.84,418.33 432.01,418.34 432.18,418.35 432.35,418.35 432.52,418.36 432.69,418.36 432.86,418.37 433.03,418.37 433.20,418.38 433.37,418.38 433.54,418.39 433.71,418.40 433.88,418.40 434.05,418.41 434.22,418.41 M437.11,418.50 437.28,418.51 437.45,418.51 437.62,418.52 437.79,418.52 437.96,418.53 438.13,418.53 438.30,418.54 438.47,418.54 438.64,418.55 438.81,418.56 438.98,418.56 439.15,418.57 439.32,418.57 439.49,418.58 439.66,418.58 439.83,418.59 440.00,418.59 440.17,418.60 440.34,418.60 440.51,418.61 440.68,418.61 440.85,418.62 441.02,418.62 441.19,418.63 441.36,418.63 441.53,418.64 441.70,418.64 441.87,418.65 442.04,418.65 442.21,418.66 442.38,418.66 M445.27,418.75 445.44,418.75 445.61,418.76 445.78,418.76 445.95,418.77 446.12,418.77 446.29,418.78 446.46,418.78 446.63,418.79 446.80,418.79 446.97,418.80 447.14,418.80 447.31,418.81 447.48,418.81 447.65,418.82 447.82,418.82 447.99,418.83 448.16,418.83 448.33,418.84 448.50,418.84 448.67,418.85 448.84,418.85 449.01,418.86 449.18,418.86 449.35,418.86 449.52,418.87 449.69,418.87 449.86,418.88 450.03,418.88 450.20,418.89 450.37,418.89 450.54,418.90 M453.60,418.98 453.77,418.99 453.94,418.99 454.11,418.99 454.28,419.00 454.45,419.00 454.62,419.01 454.79,419.01 454.96,419.02 455.13,419.02 455.30,419.03 455.47,419.03 455.64,419.03 455.81,419.04 455.98,419.04 456.15,419.05 456.32,419.05 456.49,419.06 456.66,419.06 456.83,419.07 457.00,419.07 457.17,419.07 457.34,419.08 457.51,419.08 457.68,419.09 457.85,419.09 458.02,419.10 458.19,419.10 458.36,419.10 458.53,419.11 458.70,419.11 M461.77,419.19 461.94,419.19 462.11,419.20 462.28,419.20 462.45,419.21 462.62,419.21 462.79,419.21 462.96,419.22 463.13,419.22 463.30,419.23 463.47,419.23 463.64,419.24 463.81,419.24 463.98,419.24 464.15,419.25 464.32,419.25 464.49,419.26 464.66,419.26 464.83,419.26 465.00,419.27 465.17,419.27 465.34,419.28 465.51,419.28 465.68,419.28 465.85,419.29 466.02,419.29 466.19,419.30 466.36,419.30 466.53,419.30 466.70,419.31 466.87,419.31 467.04,419.32 M469.93,419.38 470.10,419.38 470.27,419.39 470.44,419.39 470.61,419.40 470.78,419.40 470.95,419.40 471.12,419.41 471.29,419.41 471.46,419.41 471.63,419.42 471.80,419.42 471.97,419.43 472.14,419.43 472.31,419.43 472.48,419.44 472.65,419.44 472.82,419.44 472.99,419.45 473.16,419.45 473.33,419.45 473.50,419.46 473.67,419.46 473.84,419.47 474.01,419.47 474.18,419.47 474.35,419.48 474.52,419.48 474.69,419.48 474.86,419.49 475.03,419.49 475.20,419.49 M478.09,419.55 478.26,419.56 478.43,419.56 478.60,419.56 478.77,419.57 478.94,419.57 479.11,419.57 479.28,419.58 479.45,419.58 479.62,419.58 479.79,419.59 479.96,419.59 480.13,419.59 480.30,419.60 480.47,419.60 480.64,419.60 480.81,419.61 480.98,419.61 481.15,419.61 481.32,419.62 481.49,419.62 481.66,419.62 481.83,419.63 482.00,419.63 482.17,419.63 482.34,419.64 482.51,419.64 482.68,419.64 482.85,419.65 483.02,419.65 483.19,419.65 483.36,419.66 M486.42,419.71 486.59,419.72 486.76,419.72 486.93,419.72 487.10,419.73 487.27,419.73 487.44,419.73 487.61,419.73 487.78,419.74 487.95,419.74 488.12,419.74 488.29,419.75 488.46,419.75 488.63,419.75 488.80,419.76 488.97,419.76 489.14,419.76 489.31,419.76 489.48,419.77 489.65,419.77 489.82,419.77 489.99,419.78 490.16,419.78 490.33,419.78 490.51,419.78 490.68,419.79 490.85,419.79 491.02,419.79 491.19,419.80 491.36,419.80 491.53,419.80 M494.59,419.85 494.76,419.86 494.93,419.86 495.10,419.86 495.27,419.86 495.44,419.87 495.61,419.87 495.78,419.87 495.95,419.87 496.12,419.88 496.29,419.88 496.46,419.88 496.63,419.88 496.80,419.89 496.97,419.89 497.14,419.89 497.31,419.90 497.48,419.90 497.65,419.90 497.82,419.90 497.99,419.91 498.16,419.91 498.33,419.91 498.50,419.91 498.67,419.92 498.84,419.92 499.01,419.92 499.18,419.92 499.35,419.93 499.52,419.93 499.69,419.93 M502.75,419.98 502.92,419.98 503.09,419.98 503.26,419.98 503.43,419.99 503.60,419.99 503.77,419.99 503.94,419.99 504.11,420.00 504.28,420.00 504.45,420.00 504.62,420.00 504.79,420.01 504.96,420.01 505.13,420.01 505.30,420.01 505.47,420.01 505.64,420.02 505.81,420.02 505.98,420.02 506.15,420.02 506.32,420.03 506.49,420.03 506.66,420.03 506.83,420.03 507.00,420.04 507.17,420.04 507.34,420.04 507.51,420.04 507.68,420.04 507.85,420.05 508.02,420.05 M510.91,420.09 511.08,420.09 511.25,420.09 511.42,420.09 511.59,420.09 511.76,420.10 511.93,420.10 512.10,420.10 512.27,420.10 512.44,420.11 512.61,420.11 512.78,420.11 512.95,420.11 513.12,420.11 513.29,420.12 513.46,420.12 513.63,420.12 513.80,420.12 513.97,420.12 514.14,420.13 514.31,420.13 514.48,420.13 514.65,420.13 514.82,420.13 514.99,420.14 515.16,420.14 515.33,420.14 515.50,420.14 515.67,420.14 515.84,420.15 516.01,420.15 516.18,420.15 M519.07,420.18 519.24,420.19 519.41,420.19 519.58,420.19 519.75,420.19 519.92,420.19 520.09,420.20 520.26,420.20 520.43,420.20 520.61,420.20 520.78,420.20 520.95,420.20 521.12,420.21 521.29,420.21 521.46,420.21 521.63,420.21 521.80,420.21 521.97,420.22 522.14,420.22 522.31,420.22 522.48,420.22 522.65,420.22 522.82,420.23 522.99,420.23 523.16,420.23 523.33,420.23 523.50,420.23 523.67,420.23 523.84,420.24 524.01,420.24 524.18,420.24 524.35,420.24 M527.41,420.27 527.58,420.28 527.75,420.28 527.92,420.28 528.09,420.28 528.26,420.28 528.43,420.28 528.60,420.29 528.77,420.29 528.94,420.29 529.11,420.29 529.28,420.29 529.45,420.29 529.62,420.30 529.79,420.30 529.96,420.30 530.13,420.30 530.30,420.30 530.47,420.31 530.64,420.31 530.81,420.31 530.98,420.31 531.15,420.31 531.32,420.31 531.49,420.32 531.66,420.32 531.83,420.32 532.00,420.32 532.17,420.32 532.34,420.32 532.51,420.33 M535.57,420.35 535.74,420.36 535.91,420.36 536.08,420.36 536.25,420.36 536.42,420.36 536.59,420.36 536.76,420.37 536.93,420.37 537.10,420.37 537.27,420.37 537.44,420.37 537.61,420.37 537.78,420.37 537.95,420.38 538.12,420.38 538.29,420.38 538.46,420.38 538.63,420.38 538.80,420.38 538.97,420.39 539.14,420.39 539.31,420.39 539.48,420.39 539.65,420.39 539.82,420.39 539.99,420.39 540.16,420.40 540.33,420.40 540.50,420.40 540.67,420.40 540.84,420.40 M543.73,420.43 543.90,420.43 544.07,420.43 544.24,420.43 544.41,420.43 544.58,420.43 544.75,420.44 544.92,420.44 545.09,420.44 545.26,420.44 545.43,420.44 545.60,420.44 545.77,420.44 545.94,420.45 546.11,420.45 546.28,420.45 546.45,420.45 546.62,420.45 546.79,420.45 546.96,420.45 547.13,420.46 547.30,420.46 547.47,420.46 547.64,420.46 547.81,420.46 547.98,420.46 548.15,420.46 548.32,420.47 548.49,420.47 548.66,420.47 548.83,420.47 549.00,420.47 M551.90,420.49 552.07,420.50 552.24,420.50 552.41,420.50 552.58,420.50 552.75,420.50 552.92,420.50 553.09,420.50 553.26,420.50 553.43,420.51 553.60,420.51 553.77,420.51 553.94,420.51 554.11,420.51 554.28,420.51 554.45,420.51 554.62,420.51 554.79,420.52 554.96,420.52 555.13,420.52 555.30,420.52 555.47,420.52 555.64,420.52 555.81,420.52 555.98,420.53 556.15,420.53 556.32,420.53 556.49,420.53 556.66,420.53 556.83,420.53 557.00,420.53 557.17,420.53 M560.06,420.56 560.23,420.56 560.40,420.56 560.57,420.56 560.74,420.56 560.91,420.56 561.08,420.56 561.25,420.56 561.42,420.56 561.59,420.57 561.76,420.57 561.93,420.57 562.10,420.57 562.27,420.57 562.44,420.57 562.61,420.57 562.78,420.57 562.95,420.58 563.12,420.58 563.29,420.58 563.46,420.58 563.63,420.58 563.80,420.58 563.97,420.58 564.14,420.58 564.31,420.59 564.48,420.59 564.65,420.59 564.82,420.59 564.99,420.59 565.16,420.59 565.33,420.59" class="b"/><path d="M56.01,90.34 56.18,91.60 56.35,92.84 56.52,94.06 56.69,95.26 56.86,96.44 57.03,97.60 57.20,98.72 57.37,99.82 57.54,100.89 M58.56,107.00 58.73,107.96 58.90,108.92 59.07,109.86 59.24,110.80 59.41,111.72 59.58,112.64 59.75,113.55 59.92,114.45 60.09,115.34 60.26,116.23 60.43,117.11 M61.62,123.16 61.79,124.02 61.96,124.87 62.13,125.73 62.30,126.59 62.47,127.45 62.64,128.31 62.81,129.18 62.98,130.04 63.15,130.91 63.32,131.78 63.49,132.64 M64.68,138.61 64.85,139.46 65.02,140.30 65.19,141.13 65.36,141.97 65.53,142.80 65.70,143.63 65.87,144.46 66.04,145.28 66.21,146.11 66.38,146.93 66.55,147.74 66.72,148.56 M68.08,155.00 68.25,155.79 68.42,156.59 68.59,157.38 68.76,158.16 68.93,158.95 69.10,159.73 69.27,160.51 69.44,161.29 69.61,162.07 69.78,162.85 69.95,163.62 70.12,164.39 M71.49,170.49 71.66,171.24 71.83,171.99 72.00,172.74 72.17,173.49 72.34,174.24 72.51,174.99 72.68,175.73 72.85,176.48 73.02,177.22 73.19,177.96 73.36,178.70 73.53,179.44 M75.06,185.99 75.23,186.70 75.40,187.42 75.57,188.13 75.74,188.83 75.91,189.54 76.08,190.24 76.25,190.94 76.42,191.63 76.59,192.32 76.76,193.01 76.93,193.70 77.10,194.38 77.27,195.06 M78.80,201.00 78.97,201.65 79.14,202.28 79.31,202.92 79.48,203.55 79.65,204.18 79.82,204.81 79.99,205.43 80.16,206.05 80.33,206.67 80.50,207.28 80.67,207.89 80.84,208.50 81.01,209.11 81.18,209.71 81.35,210.32 M82.88,215.62 83.05,216.19 83.22,216.77 83.39,217.34 83.56,217.91 83.73,218.48 83.90,219.05 84.07,219.61 84.24,220.17 84.41,220.74 84.58,221.29 84.75,221.85 84.92,222.41 85.09,222.96 85.26,223.51 85.43,224.06 85.60,224.61 M87.30,229.99 87.47,230.52 87.64,231.05 87.81,231.58 87.98,232.10 88.15,232.63 88.32,233.14 88.49,233.66 88.66,234.17 88.83,234.69 89.00,235.19 89.17,235.70 89.34,236.20 89.51,236.70 89.68,237.20 89.85,237.70 90.02,238.19 90.19,238.69 90.36,239.18 M92.23,244.45 92.40,244.92 92.57,245.39 92.74,245.86 92.91,246.33 93.08,246.80 93.25,247.26 93.42,247.73 93.59,248.19 93.76,248.65 93.93,249.11 94.10,249.58 94.27,250.04 94.44,250.50 94.61,250.96 94.78,251.42 94.95,251.88 95.12,252.33 95.29,252.79 M97.16,257.83 97.33,258.29 97.50,258.75 97.67,259.21 97.84,259.67 98.01,260.13 98.18,260.59 98.35,261.05 98.52,261.51 98.69,261.97 98.86,262.43 99.03,262.90 99.20,263.36 99.37,263.83 99.54,264.30 99.71,264.76 99.88,265.23 100.05,265.70 100.22,266.17 M102.10,271.35 102.27,271.82 102.44,272.29 102.61,272.76 102.78,273.23 102.95,273.70 103.12,274.16 103.29,274.63 103.46,275.09 103.63,275.56 103.80,276.02 103.97,276.48 104.14,276.94 104.31,277.40 104.48,277.86 104.65,278.32 104.82,278.78 104.99,279.23 105.16,279.68 105.33,280.14 M107.20,284.99 107.37,285.42 107.54,285.84 107.71,286.27 107.88,286.69 108.05,287.11 108.22,287.53 108.39,287.94 108.56,288.36 108.73,288.77 108.90,289.17 109.07,289.58 109.24,289.98 109.41,290.38 109.58,290.78 109.75,291.17 109.92,291.56 110.09,291.95 110.26,292.34 110.43,292.72 110.60,293.10 M112.64,297.57 112.81,297.93 112.98,298.29 113.15,298.65 113.32,299.01 113.49,299.37 113.66,299.72 113.83,300.07 114.00,300.43 114.17,300.78 114.34,301.13 114.51,301.48 114.68,301.82 114.85,302.17 115.02,302.51 115.19,302.86 115.36,303.20 115.53,303.54 115.70,303.88 115.87,304.22 116.04,304.55 116.21,304.89 116.38,305.22 M118.59,309.45 118.76,309.77 118.93,310.09 119.10,310.40 119.27,310.71 119.44,311.03 119.61,311.34 119.78,311.65 119.95,311.96 120.12,312.26 120.29,312.57 120.46,312.88 120.63,313.18 120.80,313.49 120.97,313.79 121.14,314.09 121.31,314.39 121.48,314.69 121.65,314.99 121.82,315.29 121.99,315.58 122.16,315.88 122.33,316.17 122.50,316.47 122.67,316.76 M124.88,320.47 125.05,320.75 125.22,321.03 125.39,321.30 125.56,321.58 125.73,321.85 125.90,322.13 126.07,322.40 126.24,322.67 126.41,322.95 126.58,323.21 126.75,323.48 126.92,323.75 127.09,324.02 127.26,324.28 127.43,324.55 127.60,324.81 127.77,325.07 127.94,325.33 128.11,325.59 128.28,325.85 128.45,326.11 128.62,326.36 128.79,326.62 128.96,326.87 129.13,327.13 M131.52,330.57 131.69,330.81 131.86,331.05 132.03,331.29 132.20,331.52 132.37,331.76 132.54,331.99 132.71,332.23 132.88,332.46 133.05,332.70 133.22,332.93 133.39,333.16 133.56,333.39 133.73,333.62 133.90,333.85 134.07,334.08 134.24,334.31 134.41,334.53 134.58,334.76 134.75,334.98 134.92,335.21 135.09,335.43 135.26,335.66 135.43,335.88 135.60,336.10 135.77,336.33 135.94,336.55 M138.49,339.80 138.66,340.01 138.83,340.22 139.00,340.44 139.17,340.65 139.34,340.86 139.51,341.07 139.68,341.28 139.85,341.49 140.02,341.70 140.19,341.90 140.36,342.11 140.53,342.32 140.70,342.53 140.87,342.73 141.04,342.94 141.21,343.15 141.38,343.35 141.55,343.56 141.72,343.76 141.89,343.97 142.06,344.17 142.23,344.38 142.40,344.58 142.57,344.78 142.74,344.99 142.91,345.19 143.08,345.39 M145.63,348.39 145.80,348.59 145.97,348.79 146.14,348.99 146.31,349.19 146.48,349.38 146.65,349.58 146.82,349.78 146.99,349.97 147.16,350.17 147.33,350.37 147.50,350.56 147.67,350.76 147.84,350.95 148.01,351.15 148.18,351.35 148.35,351.54 148.52,351.74 148.69,351.93 148.86,352.13 149.03,352.32 149.20,352.51 149.37,352.71 149.54,352.90 149.71,353.10 149.88,353.30 150.05,353.49 150.22,353.69 M152.77,356.62 152.94,356.82 153.11,357.01 153.28,357.21 153.45,357.40 153.62,357.59 153.79,357.79 153.96,357.98 154.13,358.18 154.30,358.37 154.47,358.56 154.64,358.76 154.81,358.95 154.98,359.14 155.15,359.33 155.32,359.52 155.49,359.71 155.66,359.91 155.83,360.10 156.00,360.29 156.17,360.48 156.34,360.67 156.51,360.85 156.68,361.04 156.85,361.23 157.02,361.42 157.19,361.61 157.36,361.79 M160.08,364.71 160.25,364.89 160.42,365.06 160.60,365.24 160.77,365.42 160.94,365.59 161.11,365.76 161.28,365.94 161.45,366.11 161.62,366.28 161.79,366.45 161.96,366.62 162.13,366.79 162.30,366.96 162.47,367.13 162.64,367.30 162.81,367.47 162.98,367.63 163.15,367.80 163.32,367.96 163.49,368.13 163.66,368.29 163.83,368.45 164.00,368.62 164.17,368.78 164.34,368.94 164.51,369.10 164.68,369.26 164.85,369.41 M167.57,371.83 167.74,371.97 167.91,372.11 168.08,372.25 168.25,372.39 168.42,372.53 168.59,372.67 168.76,372.81 168.93,372.95 169.10,373.08 169.27,373.22 169.44,373.35 169.61,373.49 169.78,373.62 169.95,373.75 170.12,373.88 170.29,374.01 170.46,374.14 170.63,374.27 170.80,374.39 170.97,374.52 171.14,374.65 171.31,374.77 171.48,374.89 171.65,375.01 171.82,375.14 171.99,375.26 172.16,375.37 172.33,375.49 172.50,375.61 M175.22,377.43 175.39,377.53 175.56,377.64 175.73,377.75 175.90,377.86 176.07,377.97 176.24,378.07 176.41,378.18 176.58,378.28 176.75,378.39 176.92,378.49 177.09,378.60 177.26,378.70 177.43,378.80 177.60,378.91 177.77,379.01 177.94,379.11 178.11,379.21 178.28,379.31 178.45,379.41 178.62,379.51 178.79,379.61 178.96,379.71 179.13,379.81 179.30,379.91 179.47,380.01 179.64,380.11 179.81,380.20 179.98,380.30 180.15,380.40 180.32,380.49 M183.21,382.07 183.38,382.16 183.55,382.25 183.72,382.33 183.89,382.42 184.06,382.51 184.23,382.60 184.40,382.69 184.57,382.77 184.74,382.86 184.91,382.95 185.08,383.03 185.25,383.12 185.42,383.20 185.59,383.29 185.76,383.37 185.93,383.46 186.10,383.54 186.27,383.63 186.44,383.71 186.61,383.80 186.78,383.88 186.95,383.96 187.12,384.04 187.29,384.13 187.46,384.21 187.63,384.29 187.80,384.37 187.97,384.45 188.14,384.53 188.31,384.61 M191.21,385.95 191.38,386.03 191.55,386.10 191.72,386.18 191.89,386.25 192.06,386.33 192.23,386.40 192.40,386.48 192.57,386.55 192.74,386.63 192.91,386.70 193.08,386.78 193.25,386.85 193.42,386.93 193.59,387.00 193.76,387.07 193.93,387.15 194.10,387.22 194.27,387.29 194.44,387.37 194.61,387.44 194.78,387.51 194.95,387.58 195.12,387.66 195.29,387.73 195.46,387.80 195.63,387.87 195.80,387.94 195.97,388.01 196.14,388.08 196.31,388.15 M199.20,389.34 199.37,389.40 199.54,389.47 199.71,389.54 199.88,389.61 200.05,389.68 200.22,389.74 200.39,389.81 200.56,389.88 200.73,389.94 200.90,390.01 201.07,390.08 201.24,390.15 201.41,390.21 201.58,390.28 201.75,390.34 201.92,390.41 202.09,390.48 202.26,390.54 202.43,390.61 202.60,390.68 202.77,390.74 202.94,390.81 203.11,390.87 203.28,390.94 203.45,391.00 203.62,391.07 203.79,391.13 203.96,391.20 204.13,391.26 204.30,391.33 M207.36,392.48 207.53,392.54 207.70,392.61 207.87,392.67 208.04,392.73 208.21,392.80 208.38,392.86 208.55,392.92 208.72,392.99 208.89,393.05 209.06,393.11 209.23,393.17 209.40,393.24 209.57,393.30 209.74,393.36 209.91,393.42 210.08,393.49 210.25,393.55 210.42,393.61 210.59,393.67 210.76,393.73 210.93,393.80 211.10,393.86 211.27,393.92 211.44,393.98 211.61,394.04 211.78,394.11 211.95,394.17 212.12,394.23 212.29,394.29 212.46,394.35 M215.35,395.38 215.52,395.44 215.69,395.50 215.86,395.56 216.03,395.62 216.20,395.68 216.37,395.73 216.54,395.79 216.71,395.85 216.88,395.91 217.05,395.97 217.22,396.03 217.39,396.08 217.56,396.14 217.73,396.20 217.90,396.26 218.07,396.32 218.24,396.37 218.41,396.43 218.58,396.49 218.75,396.55 218.92,396.60 219.09,396.66 219.26,396.72 219.43,396.77 219.60,396.83 219.77,396.89 219.94,396.94 220.11,397.00 220.28,397.06 220.45,397.11 M223.52,398.10 223.69,398.16 223.86,398.21 224.03,398.26 224.20,398.32 224.37,398.37 224.54,398.42 224.71,398.48 224.88,398.53 225.05,398.58 225.22,398.64 225.39,398.69 225.56,398.74 225.73,398.79 225.90,398.85 226.07,398.90 226.24,398.95 226.41,399.00 226.58,399.06 226.75,399.11 226.92,399.16 227.09,399.21 227.26,399.26 227.43,399.31 227.60,399.37 227.77,399.42 227.94,399.47 228.11,399.52 228.28,399.57 228.45,399.62 228.62,399.67 M231.51,400.52 231.68,400.56 231.85,400.61 232.02,400.66 232.19,400.71 232.36,400.76 232.53,400.81 232.70,400.85 232.87,400.90 233.04,400.95 233.21,401.00 233.38,401.04 233.55,401.09 233.72,401.14 233.89,401.19 234.06,401.23 234.23,401.28 234.40,401.33 234.57,401.37 234.74,401.42 234.91,401.47 235.08,401.51 235.25,401.56 235.42,401.61 235.59,401.65 235.76,401.70 235.93,401.74 236.10,401.79 236.27,401.84 236.44,401.88 236.61,401.93 236.78,401.97 M239.67,402.73 239.84,402.77 240.01,402.81 240.18,402.86 240.35,402.90 240.52,402.94 240.69,402.98 240.86,403.03 241.03,403.07 241.20,403.11 241.37,403.15 241.54,403.20 241.71,403.24 241.88,403.28 242.05,403.32 242.22,403.37 242.39,403.41 242.56,403.45 242.73,403.49 242.90,403.53 243.07,403.57 243.24,403.61 243.41,403.66 243.58,403.70 243.75,403.74 243.92,403.78 244.09,403.82 244.26,403.86 244.43,403.90 244.60,403.94 244.77,403.98 244.94,404.02 M247.83,404.69 248.00,404.73 248.17,404.77 248.34,404.81 248.51,404.84 248.68,404.88 248.85,404.92 249.02,404.96 249.19,404.99 249.36,405.03 249.53,405.07 249.70,405.11 249.87,405.14 250.04,405.18 250.21,405.22 250.38,405.26 250.56,405.29 250.73,405.33 250.90,405.37 251.07,405.40 251.24,405.44 251.41,405.48 251.58,405.51 251.75,405.55 251.92,405.58 252.09,405.62 252.26,405.66 252.43,405.69 252.60,405.73 252.77,405.76 252.94,405.80 253.11,405.83 M256.00,406.42 256.17,406.46 256.34,406.49 256.51,406.52 256.68,406.56 256.85,406.59 257.02,406.62 257.19,406.66 257.36,406.69 257.53,406.72 257.70,406.76 257.87,406.79 258.04,406.82 258.21,406.85 258.38,406.89 258.55,406.92 258.72,406.95 258.89,406.98 259.06,407.02 259.23,407.05 259.40,407.08 259.57,407.11 259.74,407.14 259.91,407.18 260.08,407.21 260.25,407.24 260.42,407.27 260.59,407.30 260.76,407.33 260.93,407.36 261.10,407.40 261.27,407.43 M264.16,407.95 264.33,407.98 264.50,408.01 264.67,408.04 264.84,408.07 265.01,408.10 265.18,408.13 265.35,408.16 265.52,408.19 265.69,408.22 265.86,408.25 266.03,408.28 266.20,408.31 266.37,408.34 266.54,408.37 266.71,408.39 266.88,408.42 267.05,408.45 267.22,408.48 267.39,408.51 267.56,408.54 267.73,408.57 267.90,408.60 268.07,408.63 268.24,408.66 268.41,408.68 268.58,408.71 268.75,408.74 268.92,408.77 269.09,408.80 269.26,408.83 269.43,408.86 M272.32,409.33 272.49,409.36 272.66,409.38 272.83,409.41 273.00,409.44 273.17,409.47 273.34,409.49 273.51,409.52 273.68,409.55 273.85,409.57 274.02,409.60 274.19,409.63 274.36,409.65 274.53,409.68 274.70,409.71 274.87,409.73 275.04,409.76 275.21,409.79 275.38,409.81 275.55,409.84 275.72,409.86 275.89,409.89 276.06,409.92 276.23,409.94 276.40,409.97 276.57,409.99 276.74,410.02 276.91,410.05 277.08,410.07 277.25,410.10 277.42,410.12 277.59,410.15 M280.48,410.57 280.66,410.60 280.83,410.62 281.00,410.65 281.17,410.67 281.34,410.70 281.51,410.72 281.68,410.74 281.85,410.77 282.02,410.79 282.19,410.82 282.36,410.84 282.53,410.86 282.70,410.89 282.87,410.91 283.04,410.93 283.21,410.96 283.38,410.98 283.55,411.01 283.72,411.03 283.89,411.05 284.06,411.08 284.23,411.10 284.40,411.12 284.57,411.15 284.74,411.17 284.91,411.19 285.08,411.21 285.25,411.24 285.42,411.26 285.59,411.28 285.76,411.31 M288.65,411.69 288.82,411.71 288.99,411.73 289.16,411.75 289.33,411.77 289.50,411.79 289.67,411.82 289.84,411.84 290.01,411.86 290.18,411.88 290.35,411.90 290.52,411.92 290.69,411.94 290.86,411.96 291.03,411.99 291.20,412.01 291.37,412.03 291.54,412.05 291.71,412.07 291.88,412.09 292.05,412.11 292.22,412.13 292.39,412.15 292.56,412.17 292.73,412.19 292.90,412.21 293.07,412.23 293.24,412.25 293.41,412.28 293.58,412.30 293.75,412.32 293.92,412.34 M296.98,412.69 297.15,412.71 297.32,412.73 297.49,412.75 297.66,412.77 297.83,412.79 298.00,412.80 298.17,412.82 298.34,412.84 298.51,412.86 298.68,412.88 298.85,412.90 299.02,412.92 299.19,412.94 299.36,412.95 299.53,412.97 299.70,412.99 299.87,413.01 300.04,413.03 300.21,413.05 300.38,413.06 300.55,413.08 300.72,413.10 300.89,413.12 301.06,413.14 301.23,413.15 301.40,413.17 301.57,413.19 301.74,413.21 301.91,413.23 302.08,413.24 M305.14,413.55 305.31,413.57 305.48,413.59 305.65,413.60 305.82,413.62 305.99,413.64 306.16,413.65 306.33,413.67 306.50,413.69 306.67,413.70 306.84,413.72 307.01,413.74 307.18,413.75 307.35,413.77 307.52,413.78 307.69,413.80 307.86,413.82 308.03,413.83 308.20,413.85 308.37,413.86 308.54,413.88 308.71,413.90 308.88,413.91 309.05,413.93 309.22,413.94 309.39,413.96 309.56,413.97 309.73,413.99 309.90,414.01 310.07,414.02 310.24,414.04 M313.31,414.31 313.48,414.32 313.65,414.34 313.82,414.35 313.99,414.36 314.16,414.38 314.33,414.39 314.50,414.41 314.67,414.42 314.84,414.44 315.01,414.45 315.18,414.46 315.35,414.48 315.52,414.49 315.69,414.51 315.86,414.52 316.03,414.53 316.20,414.55 316.37,414.56 316.54,414.57 316.71,414.59 316.88,414.60 317.05,414.62 317.22,414.63 317.39,414.64 317.56,414.66 317.73,414.67 317.90,414.68 318.07,414.70 318.24,414.71 318.41,414.72 318.58,414.74 M321.47,414.96 321.64,414.97 321.81,414.98 321.98,414.99 322.15,415.01 322.32,415.02 322.49,415.03 322.66,415.04 322.83,415.05 323.00,415.07 323.17,415.08 323.34,415.09 323.51,415.10 323.68,415.11 323.85,415.13 324.02,415.14 324.19,415.15 324.36,415.16 324.53,415.17 324.70,415.19 324.87,415.20 325.04,415.21 325.21,415.22 325.38,415.23 325.55,415.24 325.72,415.26 325.89,415.27 326.06,415.28 326.23,415.29 326.40,415.30 326.57,415.31 326.74,415.32 M329.63,415.51 329.80,415.52 329.97,415.53 330.14,415.54 330.31,415.55 330.48,415.56 330.65,415.57 330.82,415.58 330.99,415.59 331.16,415.60 331.33,415.61 331.50,415.62 331.67,415.63 331.84,415.64 332.01,415.66 332.18,415.67 332.35,415.68 332.52,415.69 332.69,415.70 332.86,415.71 333.03,415.71 333.20,415.72 333.37,415.73 333.54,415.74 333.71,415.75 333.88,415.76 334.05,415.77 334.22,415.78 334.39,415.79 334.56,415.80 334.73,415.81 334.90,415.82 M337.79,415.98 337.96,415.99 338.13,416.00 338.30,416.00 338.47,416.01 338.64,416.02 338.81,416.03 338.98,416.04 339.15,416.05 339.32,416.06 339.49,416.07 339.66,416.07 339.83,416.08 340.00,416.09 340.17,416.10 340.34,416.11 340.52,416.12 340.69,416.12 340.86,416.13 341.03,416.14 341.20,416.15 341.37,416.16 341.54,416.17 341.71,416.17 341.88,416.18 342.05,416.19 342.22,416.20 342.39,416.21 342.56,416.22 342.73,416.22 342.90,416.23 343.07,416.24 M346.13,416.38 346.30,416.39 346.47,416.40 346.64,416.40 346.81,416.41 346.98,416.42 347.15,416.43 347.32,416.43 347.49,416.44 347.66,416.45 347.83,416.46 348.00,416.46 348.17,416.47 348.34,416.48 348.51,416.49 348.68,416.49 348.85,416.50 349.02,416.51 349.19,416.51 349.36,416.52 349.53,416.53 349.70,416.54 349.87,416.54 350.04,416.55 350.21,416.56 350.38,416.56 350.55,416.57 350.72,416.58 350.89,416.59 351.06,416.59 351.23,416.60 M354.29,416.72 354.46,416.73 354.63,416.74 354.80,416.74 354.97,416.75 355.14,416.76 355.31,416.76 355.48,416.77 355.65,416.78 355.82,416.78 355.99,416.79 356.16,416.80 356.33,416.80 356.50,416.81 356.67,416.82 356.84,416.82 357.01,416.83 357.18,416.83 357.35,416.84 357.52,416.85 357.69,416.85 357.86,416.86 358.03,416.87 358.20,416.87 358.37,416.88 358.54,416.89 358.71,416.89 358.88,416.90 359.05,416.90 359.22,416.91 359.39,416.92 359.56,416.92 M362.45,417.03 362.62,417.03 362.79,417.04 362.96,417.05 363.13,417.05 363.30,417.06 363.47,417.06 363.64,417.07 363.81,417.08 363.98,417.08 364.15,417.09 364.32,417.09 364.49,417.10 364.66,417.10 364.83,417.11 365.00,417.12 365.17,417.12 365.34,417.13 365.51,417.13 365.68,417.14 365.85,417.15 366.02,417.15 366.19,417.16 366.36,417.16 366.53,417.17 366.70,417.17 366.87,417.18 367.04,417.19 367.21,417.19 367.38,417.20 367.55,417.20 367.72,417.21 M370.62,417.31 370.79,417.31 370.96,417.32 371.13,417.32 371.30,417.33 371.47,417.33 371.64,417.34 371.81,417.34 371.98,417.35 372.15,417.36 372.32,417.36 372.49,417.37 372.66,417.37 372.83,417.38 373.00,417.38 373.17,417.39 373.34,417.39 373.51,417.40 373.68,417.41 373.85,417.41 374.02,417.42 374.19,417.42 374.36,417.43 374.53,417.43 374.70,417.44 374.87,417.44 375.04,417.45 375.21,417.45 375.38,417.46 375.55,417.47 375.72,417.47 375.89,417.48 M378.95,417.57 379.12,417.58 379.29,417.58 379.46,417.59 379.63,417.59 379.80,417.60 379.97,417.61 380.14,417.61 380.31,417.62 380.48,417.62 380.65,417.63 380.82,417.63 380.99,417.64 381.16,417.64 381.33,417.65 381.50,417.65 381.67,417.66 381.84,417.66 382.01,417.67 382.18,417.67 382.35,417.68 382.52,417.69 382.69,417.69 382.86,417.70 383.03,417.70 383.20,417.71 383.37,417.71 383.54,417.72 383.71,417.72 383.88,417.73 384.05,417.73 M387.11,417.83 387.28,417.83 387.45,417.84 387.62,417.84 387.79,417.85 387.96,417.85 388.13,417.86 388.30,417.86 388.47,417.87 388.64,417.87 388.81,417.88 388.98,417.89 389.15,417.89 389.32,417.90 389.49,417.90 389.66,417.91 389.83,417.91 390.00,417.92 390.17,417.92 390.34,417.93 390.51,417.93 390.68,417.94 390.85,417.94 391.02,417.95 391.19,417.95 391.36,417.96 391.53,417.96 391.70,417.97 391.87,417.97 392.04,417.98 392.21,417.99 M395.27,418.08 395.44,418.08 395.61,418.09 395.78,418.10 395.95,418.10 396.12,418.11 396.29,418.11 396.46,418.12 396.63,418.12 396.80,418.13 396.97,418.13 397.14,418.14 397.31,418.14 397.48,418.15 397.65,418.15 397.82,418.16 397.99,418.16 398.16,418.17 398.33,418.17 398.50,418.18 398.67,418.19 398.84,418.19 399.01,418.20 399.18,418.20 399.35,418.21 399.52,418.21 399.69,418.22 399.86,418.22 400.03,418.23 400.20,418.23 400.37,418.24 400.55,418.24 M403.44,418.33 403.61,418.34 403.78,418.34 403.95,418.35 404.12,418.35 404.29,418.36 404.46,418.36 404.63,418.37 404.80,418.38 404.97,418.38 405.14,418.39 405.31,418.39 405.48,418.40 405.65,418.40 405.82,418.41 405.99,418.41 406.16,418.42 406.33,418.42 406.50,418.43 406.67,418.43 406.84,418.44 407.01,418.44 407.18,418.45 407.35,418.45 407.52,418.46 407.69,418.46 407.86,418.47 408.03,418.48 408.20,418.48 408.37,418.49 408.54,418.49 408.71,418.50 M411.60,418.58 411.77,418.59 411.94,418.59 412.11,418.60 412.28,418.60 412.45,418.61 412.62,418.61 412.79,418.62 412.96,418.63 413.13,418.63 413.30,418.64 413.47,418.64 413.64,418.65 413.81,418.65 413.98,418.66 414.15,418.66 414.32,418.67 414.49,418.67 414.66,418.68 414.83,418.68 415.00,418.69 415.17,418.69 415.34,418.70 415.51,418.70 415.68,418.71 415.85,418.71 416.02,418.72 416.19,418.72 416.36,418.73 416.53,418.73 416.70,418.74 416.87,418.74 M419.93,418.83 420.10,418.84 420.27,418.84 420.44,418.85 420.61,418.85 420.78,418.86 420.95,418.86 421.12,418.87 421.29,418.87 421.46,418.88 421.63,418.88 421.80,418.89 421.97,418.89 422.14,418.90 422.31,418.90 422.48,418.91 422.65,418.91 422.82,418.92 422.99,418.92 423.16,418.93 423.33,418.93 423.50,418.94 423.67,418.94 423.84,418.94 424.01,418.95 424.18,418.95 424.35,418.96 424.52,418.96 424.69,418.97 424.86,418.97 425.03,418.98 M428.09,419.06 428.26,419.07 428.43,419.07 428.60,419.08 428.77,419.08 428.94,419.09 429.11,419.09 429.28,419.10 429.45,419.10 429.62,419.11 429.79,419.11 429.96,419.12 430.13,419.12 430.30,419.12 430.47,419.13 430.65,419.13 430.82,419.14 430.99,419.14 431.16,419.15 431.33,419.15 431.50,419.16 431.67,419.16 431.84,419.17 432.01,419.17 432.18,419.18 432.35,419.18 432.52,419.18 432.69,419.19 432.86,419.19 433.03,419.20 433.20,419.20 433.37,419.21 M436.26,419.28 436.43,419.29 436.60,419.29 436.77,419.30 436.94,419.30 437.11,419.30 437.28,419.31 437.45,419.31 437.62,419.32 437.79,419.32 437.96,419.33 438.13,419.33 438.30,419.33 438.47,419.34 438.64,419.34 438.81,419.35 438.98,419.35 439.15,419.36 439.32,419.36 439.49,419.37 439.66,419.37 439.83,419.37 440.00,419.38 440.17,419.38 440.34,419.39 440.51,419.39 440.68,419.39 440.85,419.40 441.02,419.40 441.19,419.41 441.36,419.41 441.53,419.42 M444.42,419.49 444.59,419.49 444.76,419.49 444.93,419.50 445.10,419.50 445.27,419.51 445.44,419.51 445.61,419.51 445.78,419.52 445.95,419.52 446.12,419.53 446.29,419.53 446.46,419.53 446.63,419.54 446.80,419.54 446.97,419.55 447.14,419.55 447.31,419.55 447.48,419.56 447.65,419.56 447.82,419.57 447.99,419.57 448.16,419.57 448.33,419.58 448.50,419.58 448.67,419.59 448.84,419.59 449.01,419.59 449.18,419.60 449.35,419.60 449.52,419.61 449.69,419.61 M452.58,419.67 452.75,419.68 452.92,419.68 453.09,419.69 453.26,419.69 453.43,419.69 453.60,419.70 453.77,419.70 453.94,419.70 454.11,419.71 454.28,419.71 454.45,419.72 454.62,419.72 454.79,419.72 454.96,419.73 455.13,419.73 455.30,419.73 455.47,419.74 455.64,419.74 455.81,419.74 455.98,419.75 456.15,419.75 456.32,419.75 456.49,419.76 456.66,419.76 456.83,419.77 457.00,419.77 457.17,419.77 457.34,419.78 457.51,419.78 457.68,419.78 457.85,419.79 M460.92,419.85 461.09,419.85 461.26,419.86 461.43,419.86 461.60,419.86 461.77,419.87 461.94,419.87 462.11,419.87 462.28,419.88 462.45,419.88 462.62,419.88 462.79,419.89 462.96,419.89 463.13,419.89 463.30,419.90 463.47,419.90 463.64,419.90 463.81,419.91 463.98,419.91 464.15,419.91 464.32,419.92 464.49,419.92 464.66,419.92 464.83,419.93 465.00,419.93 465.17,419.93 465.34,419.94 465.51,419.94 465.68,419.94 465.85,419.95 466.02,419.95 M469.08,420.00 469.25,420.01 469.42,420.01 469.59,420.01 469.76,420.02 469.93,420.02 470.10,420.02 470.27,420.03 470.44,420.03 470.61,420.03 470.78,420.03 470.95,420.04 471.12,420.04 471.29,420.04 471.46,420.05 471.63,420.05 471.80,420.05 471.97,420.06 472.14,420.06 472.31,420.06 472.48,420.06 472.65,420.07 472.82,420.07 472.99,420.07 473.16,420.08 473.33,420.08 473.50,420.08 473.67,420.08 473.84,420.09 474.01,420.09 474.18,420.09 474.35,420.10 M477.24,420.14 477.41,420.15 477.58,420.15 477.75,420.15 477.92,420.15 478.09,420.16 478.26,420.16 478.43,420.16 478.60,420.17 478.77,420.17 478.94,420.17 479.11,420.17 479.28,420.18 479.45,420.18 479.62,420.18 479.79,420.18 479.96,420.19 480.13,420.19 480.30,420.19 480.47,420.19 480.64,420.20 480.81,420.20 480.98,420.20 481.15,420.21 481.32,420.21 481.49,420.21 481.66,420.21 481.83,420.22 482.00,420.22 482.17,420.22 482.34,420.22 482.51,420.23 M485.40,420.27 485.57,420.27 485.74,420.27 485.91,420.28 486.08,420.28 486.25,420.28 486.42,420.28 486.59,420.28 486.76,420.29 486.93,420.29 487.10,420.29 487.27,420.29 487.44,420.30 487.61,420.30 487.78,420.30 487.95,420.30 488.12,420.31 488.29,420.31 488.46,420.31 488.63,420.31 488.80,420.32 488.97,420.32 489.14,420.32 489.31,420.32 489.48,420.32 489.65,420.33 489.82,420.33 489.99,420.33 490.16,420.33 490.33,420.34 490.51,420.34 490.68,420.34 M493.74,420.38 493.91,420.38 494.08,420.38 494.25,420.39 494.42,420.39 494.59,420.39 494.76,420.39 494.93,420.39 495.10,420.40 495.27,420.40 495.44,420.40 495.61,420.40 495.78,420.41 495.95,420.41 496.12,420.41 496.29,420.41 496.46,420.41 496.63,420.42 496.80,420.42 496.97,420.42 497.14,420.42 497.31,420.42 497.48,420.43 497.65,420.43 497.82,420.43 497.99,420.43 498.16,420.43 498.33,420.44 498.50,420.44 498.67,420.44 498.84,420.44 M501.90,420.48 502.07,420.48 502.24,420.48 502.41,420.48 502.58,420.48 502.75,420.48 502.92,420.49 503.09,420.49 503.26,420.49 503.43,420.49 503.60,420.49 503.77,420.50 503.94,420.50 504.11,420.50 504.28,420.50 504.45,420.50 504.62,420.50 504.79,420.51 504.96,420.51 505.13,420.51 505.30,420.51 505.47,420.51 505.64,420.52 505.81,420.52 505.98,420.52 506.15,420.52 506.32,420.52 506.49,420.52 506.66,420.53 506.83,420.53 507.00,420.53 507.17,420.53 M510.06,420.56 510.23,420.56 510.40,420.56 510.57,420.56 510.74,420.56 510.91,420.57 511.08,420.57 511.25,420.57 511.42,420.57 511.59,420.57 511.76,420.57 511.93,420.58 512.10,420.58 512.27,420.58 512.44,420.58 512.61,420.58 512.78,420.58 512.95,420.59 513.12,420.59 513.29,420.59 513.46,420.59 513.63,420.59 513.80,420.59 513.97,420.59 514.14,420.60 514.31,420.60 514.48,420.60 514.65,420.60 514.82,420.60 514.99,420.60 515.16,420.60 515.33,420.61 M518.22,420.63 518.39,420.63 518.56,420.63 518.73,420.63 518.90,420.64 519.07,420.64 519.24,420.64 519.41,420.64 519.58,420.64 519.75,420.64 519.92,420.64 520.09,420.65 520.26,420.65 520.43,420.65 520.61,420.65 520.78,420.65 520.95,420.65 521.12,420.65 521.29,420.66 521.46,420.66 521.63,420.66 521.80,420.66 521.97,420.66 522.14,420.66 522.31,420.66 522.48,420.67 522.65,420.67 522.82,420.67 522.99,420.67 523.16,420.67 523.33,420.67 523.50,420.67 M526.39,420.69 526.56,420.70 526.73,420.70 526.90,420.70 527.07,420.70 527.24,420.70 527.41,420.70 527.58,420.70 527.75,420.70 527.92,420.71 528.09,420.71 528.26,420.71 528.43,420.71 528.60,420.71 528.77,420.71 528.94,420.71 529.11,420.71 529.28,420.72 529.45,420.72 529.62,420.72 529.79,420.72 529.96,420.72 530.13,420.72 530.30,420.72 530.47,420.72 530.64,420.73 530.81,420.73 530.98,420.73 531.15,420.73 531.32,420.73 531.49,420.73 531.66,420.73 M534.72,420.75 534.89,420.75 535.06,420.76 535.23,420.76 535.40,420.76 535.57,420.76 535.74,420.76 535.91,420.76 536.08,420.76 536.25,420.76 536.42,420.76 536.59,420.77 536.76,420.77 536.93,420.77 537.10,420.77 537.27,420.77 537.44,420.77 537.61,420.77 537.78,420.77 537.95,420.77 538.12,420.78 538.29,420.78 538.46,420.78 538.63,420.78 538.80,420.78 538.97,420.78 539.14,420.78 539.31,420.78 539.48,420.78 539.65,420.79 539.82,420.79 M542.88,420.81 543.05,420.81 543.22,420.81 543.39,420.81 543.56,420.81 543.73,420.81 543.90,420.81 544.07,420.81 544.24,420.81 544.41,420.81 544.58,420.82 544.75,420.82 544.92,420.82 545.09,420.82 545.26,420.82 545.43,420.82 545.60,420.82 545.77,420.82 545.94,420.82 546.11,420.82 546.28,420.83 546.45,420.83 546.62,420.83 546.79,420.83 546.96,420.83 547.13,420.83 547.30,420.83 547.47,420.83 547.64,420.83 547.81,420.83 547.98,420.83 548.15,420.84 M551.05,420.85 551.22,420.85 551.39,420.85 551.56,420.85 551.73,420.86 551.90,420.86 552.07,420.86 552.24,420.86 552.41,420.86 552.58,420.86 552.75,420.86 552.92,420.86 553.09,420.86 553.26,420.86 553.43,420.86 553.60,420.87 553.77,420.87 553.94,420.87 554.11,420.87 554.28,420.87 554.45,420.87 554.62,420.87 554.79,420.87 554.96,420.87 555.13,420.87 555.30,420.87 555.47,420.87 555.64,420.88 555.81,420.88 555.98,420.88 556.15,420.88 556.32,420.88 M559.21,420.89 559.38,420.89 559.55,420.90 559.72,420.90 559.89,420.90 560.06,420.90 560.23,420.90 560.40,420.90 560.57,420.90 560.74,420.90 560.91,420.90 561.08,420.90 561.25,420.90 561.42,420.90 561.59,420.91 561.76,420.91 561.93,420.91 562.10,420.91 562.27,420.91 562.44,420.91 562.61,420.91 562.78,420.91 562.95,420.91 563.12,420.91 563.29,420.91 563.46,420.91 563.63,420.92 563.80,420.92 563.97,420.92 564.14,420.92 564.31,420.92 564.48,420.92" class="b"/></g>
<path d="M55.5,85.5H566.5V423.5H55.5Z M55.5,423.5V419.5 M55.5,85.5V89.5 M157.5,423.5V419.5 M157.5,85.5V89.5 M259.5,423.5V419.5 M259.5,85.5V89.5 M361.5,423.5V419.5 M361.5,85.5V89.5 M463.5,423.5V419.5 M463.5,85.5V89.5 M55.5,420.5H59.5 M566.5,420.5H562.5 M55.5,354.5H59.5 M566.5,354.5H562.5 M55.5,287.5H59.5 M566.5,287.5H562.5 M55.5,220.5H59.5 M566.5,220.5H562.5 M55.5,153.5H59.5 M566.5,153.5H562.5 M55.5,86.5H59.5 M566.5,86.5H562.5" fill="none" stroke="#000" stroke-width="1"/>
<text x="55.2" y="444.4" text-anchor="middle">0</text>
<path transform="translate(152.67,444.40) scale(0.00830,-0.00830)" d="M515,0H696V1409H530L197,1180V1010L515,1237Z" fill="#000"/>
<text x="259.8" y="444.4" text-anchor="middle">2</text>
<text x="361.7" y="444.4" text-anchor="middle">3</text>
<text x="463.2" y="444.4" text-anchor="middle">4</text>
<text x="565.5" y="444.4" text-anchor="middle">5</text>
<text x="49.9" y="426.2" text-anchor="end">0</text>
<text x="49.9" y="359.6" text-anchor="end">0.2</text>
<text x="49.9" y="294.5" text-anchor="end">0.4</text>
<text x="49.9" y="227.5" text-anchor="end">0.6</text>
<text x="49.9" y="160.5" text-anchor="end">0.8</text>
<path transform="translate(40.45,93.90) scale(0.00830,-0.00830)" d="M515,0H696V1409H530L197,1180V1010L515,1237Z" fill="#000"/>
<text x="305.0" y="467.8" class="sf" style="font-size:18px">ξ</text>
<text transform="translate(12.9,274.2) rotate(-90)">F'(<tspan class="sf" dy="2.5">ξ</tspan><tspan dy="-2.5">)</tspan></text>
<path d="M398,126.3H426" stroke="#ff00ff" stroke-width="1.4"/><text x="430.6" y="123" style="fill:#ff00ff">Cu-Water</text>
<text x="394.6" y="166.8" style="fill:#0000ff">- - - </text><text x="426.6" y="166.9" style="fill:#0000ff">Al</text>
<text x="442.4" y="174.5" style="fill:#0000ff;font-size:13px">2</text>
<text x="450.2" y="166.8" style="fill:#0000ff">O</text>
<text x="461.4" y="174.5" style="fill:#0000ff;font-size:13px">3</text>
<text x="469.6" y="166.8" style="fill:#0000ff">-Water</text>
<text x="147.8" y="323.3" style="letter-spacing:0.25px">M = 0, 0.3, 0.5.</text>
<path d="M147.5,327.5L128.5,348.2" stroke="#000" stroke-width="1" fill="none"/>
<path d="M120.8,356.6L127.9,339.3L130.1,346.5L137.3,348.9Z" fill="#000"/>
<rect x="413.5" y="267.5" width="151.5" height="118.0" fill="#fff"/>
<clipPath id="ic"><rect x="413.5" y="267.5" width="151.5" height="118.0"/></clipPath>
<g clip-path="url(#ic)"><line x1="413.50" y1="315.95" x2="565.00" y2="321.85" class="im"/><line x1="413.50" y1="332.07" x2="565.00" y2="337.50" class="im"/><line x1="413.50" y1="359.78" x2="565.00" y2="364.97" class="im"/><line x1="413.50" y1="300.67" x2="565.00" y2="308.35" class="ib"/><line x1="413.50" y1="321.37" x2="565.00" y2="329.07" class="ib"/><line x1="413.50" y1="356.35" x2="565.00" y2="363.07" class="ib"/></g>
<path d="M565.0,267.5H413.5V385.5H565.0 M461.5,385.5V383.5 M461.5,267.5V269.5 M509.0,385.5V383.5 M509.0,267.5V269.5 M557.5,385.5V383.5 M557.5,267.5V269.5 M564.5,290.5H562.0 M564.5,321.5H562.0 M564.5,352.5H562.0 M564.5,383.5H562.0" fill="none" stroke="#000" stroke-width="1"/>
<path d="M565.0,267.0V386.0" stroke="#000" stroke-width="2"/>
<g class="bd"><text x="461.3" y="407.2" text-anchor="middle">2.26</text><text x="507.8" y="407.2" text-anchor="middle">2.27</text><text x="557.5" y="407.2" text-anchor="middle">2.28</text><text x="406.6" y="296.7" text-anchor="end">0.04</text><text x="406.6" y="327.7" text-anchor="end">0.035</text><text x="406.6" y="358.7" text-anchor="end">0.03</text><text x="406.6" y="389.7" text-anchor="end">0.025</text>
<text transform="translate(351.7,347.0) rotate(-90)">F'(<tspan class="sf" dy="3">ξ</tspan><tspan dy="-3">)</tspan></text>
<text x="481.8" y="427.6" class="sf" style="stroke:#000;stroke-width:0.6px">ξ</text>
</g>
<path d="M566.5,85V424" stroke="#000" stroke-width="1"/>
</svg>
</body></html>
